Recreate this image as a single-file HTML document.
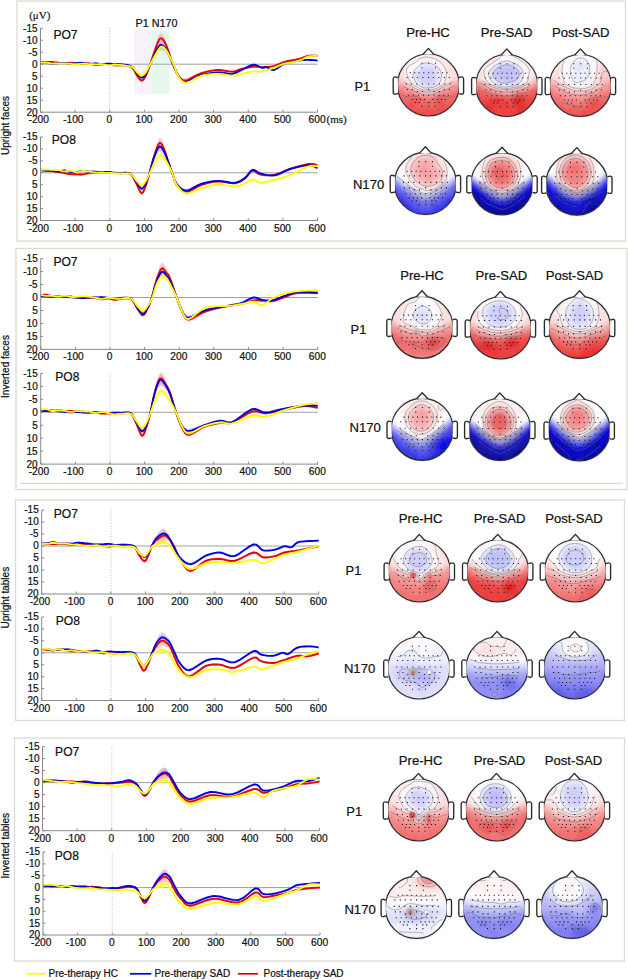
<!DOCTYPE html>
<html><head><meta charset="utf-8"><style>
html,body{margin:0;padding:0;background:#fff;}
svg{display:block;font-family:"Liberation Sans", sans-serif;}
text{stroke:#111;stroke-width:0.22px;}
</style></head><body>
<svg width="628" height="980" viewBox="0 0 628 980">
<defs><g id="hfeat" fill="#fff" stroke="#2a2a2a" stroke-width="1.35"><path d="M-5.6,-30.5 L0,-36.6 L5.6,-30.5" stroke-linejoin="round"/><path d="M-30.6,-7.4 L-33,-8.1 Q-35.2,-8.2 -35.2,-6 L-35.2,7.2 Q-35.2,9.4 -33,9.2 L-30.4,8.6"/><path d="M30.6,-7.4 L33,-8.1 Q35.2,-8.2 35.2,-6 L35.2,7.2 Q35.2,9.4 33,9.2 L30.4,8.6"/></g><clipPath id="hclip"><circle r="31.0"/></clipPath><filter id="gblur" x="-50%" y="-50%" width="200%" height="200%"><feGaussianBlur stdDeviation="1.1"/></filter><filter id="gblur2" x="-50%" y="-50%" width="200%" height="200%"><feGaussianBlur stdDeviation="0.6"/></filter><filter id="tblur" x="-20%" y="-20%" width="140%" height="140%"><feGaussianBlur stdDeviation="2.0"/></filter></defs>
<rect width="628" height="980" fill="#fff"/>
<rect x="17" y="1" width="608.5" height="240" fill="none" stroke="#dcdcd0" stroke-width="1.3"/>
<rect x="16" y="248.5" width="611" height="241" fill="none" stroke="#dcdcd0" stroke-width="1.3"/>
<rect x="15.5" y="500" width="609" height="220.5" fill="none" stroke="#dcdcd0" stroke-width="1.3"/>
<rect x="14.5" y="738" width="610" height="223" fill="none" stroke="#dcdcd0" stroke-width="1.3"/>
<line x1="20.5" y1="483.4" x2="623" y2="483.4" stroke="#dcdcd0" stroke-width="1.1"/>
<text x="0" y="0" transform="translate(8.6,125.5) rotate(-90)" font-size="10" text-anchor="middle" fill="#111">Upright faces</text>
<text x="0" y="0" transform="translate(8.6,366.5) rotate(-90)" font-size="10" text-anchor="middle" fill="#111">Inverted faces</text>
<text x="0" y="0" transform="translate(8.6,597.7) rotate(-90)" font-size="10" text-anchor="middle" fill="#111">Upright tables</text>
<text x="0" y="0" transform="translate(8.6,845.7) rotate(-90)" font-size="10" text-anchor="middle" fill="#111">Inverted tables</text>
<rect x="133.99" y="29.88" width="17.31" height="64.32" fill="#f6f2f8"/>
<rect x="151.3" y="29.88" width="18.35" height="64.32" fill="#e6f8ee"/>
<text x="135.5" y="26.8" font-size="10.8" fill="#111">P1 N170</text>
<line x1="40.5" y1="64.2" x2="317.5" y2="64.2" stroke="#a0a0a0" stroke-width="1"/>
<line x1="109.75" y1="28.2" x2="109.75" y2="112.2" stroke="#b0b0b0" stroke-width="0.8" stroke-dasharray="1,1.6"/>
<path d="M40.5 62.0L42.7 61.8L45.7 61.8L48.7 62.3L51.9 62.8L55.0 62.8L58.2 62.6L61.3 62.6L64.4 62.7L67.5 62.9L70.6 63.1L73.7 63.4L76.9 63.5L80.0 63.2L83.1 62.9L86.2 63.1L89.3 63.4L92.4 63.5L95.6 63.5L98.7 63.5L101.8 63.5L104.9 64.0L108.0 64.4L111.2 64.3L114.3 64.2L117.0 64.1L120.1 64.2L124.6 64.7L128.8 65.4L131.3 66.0L133.3 67.0L135.4 69.2L137.4 71.6L139.5 73.5L141.6 74.4L143.9 73.2L146.1 70.7L148.1 67.4L150.3 63.1L153.0 57.7L155.8 51.8L158.5 46.5L161.0 43.2L163.3 43.9L165.5 46.8L167.6 50.8L169.7 55.2L171.5 59.0L173.5 63.3L176.0 70.1L179.0 76.5L182.3 80.2L186.6 81.5L193.1 78.6L200.8 75.1L209.3 73.6L217.8 73.1L225.3 74.0L232.0 75.0L237.0 74.3L241.7 73.1L247.6 71.8L253.4 70.7L257.8 70.8L262.1 70.7L267.9 69.1L273.9 67.1L279.1 65.0L284.6 63.0L292.0 61.4L299.1 59.9L304.2 57.7L308.5 55.8L313.6 55.2L317.5 55.1L317.5 56.5L313.6 56.6L308.5 57.2L304.2 59.1L299.1 61.3L292.0 62.9L284.6 64.4L279.1 66.5L273.9 68.5L267.9 70.6L262.1 72.1L257.8 72.2L253.4 72.1L247.6 73.2L241.7 74.5L237.0 75.8L232.0 76.4L225.3 75.5L217.8 74.5L209.3 75.1L200.8 76.8L193.1 80.9L186.6 83.9L182.3 82.3L179.0 78.3L176.0 71.8L173.5 65.1L171.5 61.0L169.7 57.8L167.6 54.4L165.5 51.8L163.3 50.3L161.0 50.1L158.5 52.7L155.8 56.4L153.0 60.6L150.3 65.3L148.1 69.5L146.1 73.0L143.9 75.8L141.6 77.0L139.5 75.9L137.4 73.6L135.4 71.0L133.3 68.6L131.3 67.5L128.8 66.8L124.6 66.1L120.1 65.6L117.0 65.5L114.3 65.6L111.2 65.8L108.0 65.8L104.9 65.4L101.8 65.0L98.7 64.9L95.6 65.0L92.4 64.9L89.3 64.8L86.2 64.5L83.1 64.4L80.0 64.7L76.9 65.0L73.7 64.8L70.6 64.6L67.5 64.3L64.4 64.2L61.3 64.0L58.2 64.0L55.0 64.2L51.9 64.3L48.7 63.7L45.7 63.2L42.7 63.3L40.5 63.5Z" fill="rgba(255,255,140,0.55)"/>
<path d="M40.5 61.9L42.7 61.6L45.7 61.4L48.7 62.1L51.9 62.8L55.0 62.6L58.2 62.1L61.3 61.9L64.4 61.9L67.5 62.3L70.6 62.7L73.7 62.4L76.9 62.0L80.0 61.8L83.1 61.8L86.2 62.5L89.3 63.1L92.4 62.7L95.6 62.3L98.7 62.7L101.8 63.2L104.9 62.9L108.0 62.5L111.2 62.9L114.3 63.2L117.0 63.1L120.1 63.1L124.6 63.6L128.8 64.3L131.3 65.2L133.3 66.6L135.4 69.4L137.4 72.3L139.7 74.6L142.0 75.7L144.1 74.4L146.1 71.6L148.1 67.6L150.3 62.6L152.8 56.2L155.5 49.4L157.9 43.5L160.3 39.9L162.8 40.5L165.2 43.9L167.3 48.6L169.3 53.7L171.1 58.1L173.1 62.9L175.9 69.4L179.0 75.3L181.9 79.0L185.9 80.2L192.7 77.3L200.8 73.9L209.3 72.2L217.8 71.3L225.3 72.1L232.0 72.7L237.0 71.2L241.7 68.9L247.6 65.8L253.4 63.6L258.2 64.9L262.1 66.7L264.4 66.4L266.6 66.0L269.8 67.8L273.9 68.9L278.8 66.1L284.6 62.6L292.0 60.7L299.1 59.5L304.2 58.9L308.5 58.8L313.6 59.1L317.5 59.5L317.5 61.7L313.6 61.3L308.5 61.0L304.2 61.1L299.1 61.7L292.0 62.9L284.6 64.8L278.8 68.3L273.9 71.0L269.8 69.9L266.6 68.2L264.4 68.5L262.1 68.9L258.2 67.0L253.4 65.8L247.6 68.0L241.7 71.0L237.0 73.4L232.0 74.9L225.3 74.2L217.8 73.4L209.3 74.4L200.8 76.5L192.7 80.9L185.9 83.7L181.9 82.1L179.0 78.0L175.9 71.9L173.1 65.5L171.1 61.3L169.3 57.9L167.3 54.4L165.2 51.8L162.8 50.4L160.3 50.1L157.9 52.4L155.5 55.9L152.8 60.5L150.3 65.8L148.1 70.8L146.1 75.1L144.1 78.2L142.0 79.6L139.7 78.1L137.4 75.3L135.4 72.0L133.3 69.0L131.3 67.4L128.8 66.5L124.6 65.7L120.1 65.3L117.0 65.3L114.3 65.4L111.2 65.0L108.0 64.7L104.9 65.0L101.8 65.3L98.7 64.8L95.6 64.4L92.4 64.9L89.3 65.2L86.2 64.6L83.1 63.9L80.0 63.9L76.9 64.2L73.7 64.6L70.6 64.9L67.5 64.5L64.4 64.0L61.3 64.1L58.2 64.3L55.0 64.8L51.9 65.0L48.7 64.3L45.7 63.5L42.7 63.7L40.5 64.1Z" fill="rgba(150,150,255,0.4)"/>
<path d="M40.5 61.1L42.7 60.9L45.7 60.7L48.7 60.7L51.9 60.8L55.0 61.1L58.2 61.5L61.3 61.7L64.4 61.8L67.5 61.7L70.6 61.6L73.7 61.9L76.9 62.3L80.0 62.6L83.1 62.8L86.2 62.4L89.3 62.1L92.4 63.0L95.6 63.9L98.7 63.6L101.8 63.1L104.9 62.9L108.0 63.0L111.2 63.6L114.3 64.2L117.0 64.1L120.1 64.0L124.6 64.2L128.8 64.9L131.3 65.9L133.3 67.7L135.4 71.1L137.4 74.5L139.7 77.2L142.0 78.4L144.1 76.6L146.1 73.1L148.1 68.4L150.3 62.4L152.8 54.0L155.5 45.0L157.9 37.2L160.3 32.6L162.8 33.9L165.2 38.7L167.3 44.7L169.3 51.1L170.9 56.8L172.8 62.7L175.7 69.5L179.0 75.2L181.9 78.1L185.9 78.6L192.7 75.4L200.8 71.9L209.3 69.9L217.8 68.8L225.3 69.6L232.0 70.4L237.0 69.4L241.7 67.8L247.6 66.4L253.4 65.4L257.8 65.5L262.1 65.9L267.9 65.7L273.9 64.9L279.1 62.9L284.6 60.6L292.0 59.1L299.1 57.7L304.2 56.0L308.5 54.6L313.6 54.4L317.5 54.6L317.5 57.0L313.6 56.8L308.5 57.0L304.2 58.4L299.1 60.1L292.0 61.5L284.6 63.0L279.1 65.3L273.9 67.3L267.9 68.1L262.1 68.3L257.8 68.0L253.4 67.8L247.6 68.8L241.7 70.2L237.0 71.8L232.0 72.8L225.3 72.0L217.8 71.2L209.3 72.3L200.8 74.8L192.7 79.3L185.9 82.5L181.9 81.5L179.0 78.2L175.7 72.3L172.8 65.7L170.9 60.5L169.3 55.7L167.3 51.1L165.2 47.5L162.8 44.9L160.3 44.0L157.9 47.1L155.5 52.2L152.8 58.8L150.3 66.0L148.1 72.0L146.1 76.9L144.1 80.8L142.0 82.7L139.7 81.1L137.4 77.9L135.4 74.0L133.3 70.3L131.3 68.4L128.8 67.3L124.6 66.6L120.1 66.4L117.0 66.5L114.3 66.6L111.2 66.0L108.0 65.4L104.9 65.3L101.8 65.5L98.7 66.0L95.6 66.3L92.4 65.4L89.3 64.5L86.2 64.8L83.1 65.2L80.0 65.0L76.9 64.7L73.7 64.3L70.6 64.0L67.5 64.1L64.4 64.2L61.3 64.1L58.2 63.9L55.0 63.5L51.9 63.2L48.7 63.1L45.7 63.1L42.7 63.3L40.5 63.5Z" fill="rgba(255,140,140,0.45)"/>
<path d="M40.5 62.3L41.4 62.2L42.7 62.1L44.2 62.0L45.7 61.9L47.2 61.9L48.7 61.9L50.3 61.9L51.9 62.0L53.5 62.2L55.0 62.3L56.6 62.5L58.2 62.7L59.7 62.8L61.3 62.9L62.8 63.0L64.4 63.0L65.9 63.0L67.5 62.9L69.1 62.8L70.6 62.8L72.2 62.9L73.7 63.1L75.3 63.3L76.9 63.5L78.4 63.6L80.0 63.8L81.5 64.0L83.1 64.0L84.6 63.9L86.2 63.6L87.8 63.3L89.3 63.3L90.9 63.6L92.4 64.2L94.0 64.8L95.6 65.1L97.1 65.0L98.7 64.8L100.2 64.5L101.8 64.3L103.3 64.2L104.9 64.1L106.5 64.1L108.0 64.2L109.6 64.5L111.2 64.8L112.7 65.2L114.3 65.4L115.7 65.4L117.0 65.3L118.5 65.2L120.1 65.2L122.2 65.3L124.6 65.4L126.9 65.7L128.8 66.1L130.2 66.6L131.3 67.2L132.3 67.9L133.3 69.0L134.3 70.6L135.4 72.5L136.4 74.5L137.4 76.2L138.6 77.7L139.7 79.2L140.8 80.2L142.0 80.5L143.0 80.0L144.1 78.7L145.1 77.0L146.1 75.0L147.1 72.8L148.1 70.2L149.1 67.4L150.3 64.2L151.5 60.5L152.8 56.4L154.2 52.2L155.5 48.6L156.7 45.3L157.9 42.2L159.1 39.7L160.3 38.3L161.5 38.3L162.8 39.4L164.0 41.1L165.2 43.1L166.3 45.3L167.3 47.9L168.3 50.7L169.3 53.4L170.2 56.0L170.9 58.7L171.7 61.4L172.8 64.2L174.1 67.4L175.7 70.9L177.3 74.1L179.0 76.7L180.5 78.5L181.9 79.8L183.6 80.5L185.9 80.5L189.0 79.4L192.7 77.4L196.8 75.1L200.8 73.3L205.0 72.1L209.3 71.1L213.7 70.4L217.8 70.0L221.6 70.1L225.3 70.8L228.8 71.4L232.0 71.6L234.7 71.3L237.0 70.6L239.2 69.7L241.7 69.0L244.5 68.3L247.6 67.6L250.7 67.0L253.4 66.6L255.8 66.6L257.8 66.8L259.8 67.0L262.1 67.1L264.8 67.0L267.9 66.9L270.9 66.6L273.9 66.1L276.5 65.2L279.1 64.1L281.7 62.9L284.6 61.8L288.1 61.0L292.0 60.3L295.8 59.6L299.1 58.9L301.9 58.1L304.2 57.2L306.3 56.4L308.5 55.8L311.0 55.6L313.6 55.6L315.9 55.7L317.5 55.8" fill="none" stroke="#e60000" stroke-width="1.85" stroke-linejoin="round"/>
<path d="M40.5 63.0L41.4 62.9L42.7 62.6L44.2 62.5L45.7 62.4L47.2 62.7L48.7 63.2L50.3 63.7L51.9 63.9L53.5 63.9L55.0 63.7L56.6 63.4L58.2 63.2L59.7 63.1L61.3 63.0L62.8 62.9L64.4 62.9L65.9 63.1L67.5 63.4L69.1 63.7L70.6 63.8L72.2 63.7L73.7 63.5L75.3 63.3L76.9 63.1L78.4 63.0L80.0 62.8L81.5 62.8L83.1 62.8L84.6 63.1L86.2 63.5L87.8 63.9L89.3 64.2L90.9 64.1L92.4 63.8L94.0 63.5L95.6 63.3L97.1 63.5L98.7 63.8L100.2 64.1L101.8 64.2L103.3 64.2L104.9 63.9L106.5 63.7L108.0 63.6L109.6 63.7L111.2 63.9L112.7 64.2L114.3 64.3L115.7 64.3L117.0 64.2L118.5 64.2L120.1 64.2L122.2 64.4L124.6 64.6L126.9 65.0L128.8 65.4L130.2 65.8L131.3 66.3L132.3 66.9L133.3 67.8L134.3 69.1L135.4 70.7L136.4 72.4L137.4 73.8L138.6 75.1L139.7 76.4L140.8 77.3L142.0 77.6L143.0 77.2L144.1 76.3L145.1 74.9L146.1 73.3L147.1 71.4L148.1 69.2L149.1 66.8L150.3 64.2L151.5 61.4L152.8 58.3L154.2 55.3L155.5 52.7L156.7 50.2L157.9 47.9L159.1 46.1L160.3 45.0L161.5 44.9L162.8 45.5L164.0 46.6L165.2 47.9L166.2 49.5L167.3 51.5L168.3 53.7L169.3 55.8L170.2 57.8L171.1 59.7L172.0 61.8L173.1 64.2L174.4 67.2L175.9 70.6L177.4 74.0L179.0 76.7L180.5 78.8L181.9 80.5L183.6 81.7L185.9 82.0L189.0 81.0L192.7 79.1L196.8 76.9L200.8 75.2L205.0 74.1L209.3 73.3L213.7 72.7L217.8 72.4L221.6 72.5L225.3 73.1L228.8 73.7L232.0 73.8L234.7 73.2L237.0 72.3L239.2 71.1L241.7 70.0L244.5 68.5L247.6 66.9L250.7 65.4L253.4 64.7L255.9 65.0L258.2 66.0L260.3 67.1L262.1 67.8L263.5 67.8L264.4 67.5L265.4 67.1L266.6 67.1L268.1 67.8L269.8 68.9L271.7 69.8L273.9 70.0L276.2 69.0L278.8 67.2L281.6 65.3L284.6 63.7L288.1 62.7L292.0 61.8L295.8 61.1L299.1 60.6L301.9 60.2L304.2 60.0L306.3 59.9L308.5 59.9L311.0 60.0L313.6 60.2L315.9 60.4L317.5 60.6" fill="none" stroke="#0000e6" stroke-width="1.85" stroke-linejoin="round"/>
<path d="M40.5 62.8L41.4 62.7L42.7 62.6L44.2 62.5L45.7 62.5L47.2 62.7L48.7 63.0L50.3 63.4L51.9 63.6L53.5 63.6L55.0 63.5L56.6 63.4L58.2 63.3L59.7 63.3L61.3 63.3L62.8 63.4L64.4 63.4L65.9 63.5L67.5 63.6L69.1 63.7L70.6 63.8L72.2 64.0L73.7 64.1L75.3 64.2L76.9 64.2L78.4 64.1L80.0 63.9L81.5 63.8L83.1 63.7L84.6 63.7L86.2 63.8L87.8 64.0L89.3 64.1L90.9 64.2L92.4 64.2L94.0 64.2L95.6 64.3L97.1 64.3L98.7 64.2L100.2 64.2L101.8 64.2L103.3 64.4L104.9 64.7L106.5 65.0L108.0 65.1L109.6 65.1L111.2 65.1L112.7 64.9L114.3 64.9L115.7 64.8L117.0 64.8L118.5 64.8L120.1 64.9L122.2 65.1L124.6 65.4L126.9 65.8L128.8 66.1L130.2 66.4L131.3 66.7L132.3 67.1L133.3 67.8L134.4 68.8L135.4 70.1L136.4 71.4L137.4 72.6L138.5 73.7L139.5 74.7L140.5 75.5L141.6 75.7L142.7 75.3L143.9 74.5L145.0 73.3L146.1 71.9L147.1 70.3L148.1 68.4L149.1 66.4L150.3 64.2L151.6 61.8L153.0 59.1L154.4 56.5L155.8 54.1L157.1 51.8L158.5 49.6L159.8 47.8L161.0 46.7L162.2 46.5L163.3 47.1L164.4 48.1L165.5 49.3L166.6 50.8L167.6 52.6L168.6 54.6L169.7 56.5L170.6 58.3L171.5 60.0L172.4 61.9L173.5 64.2L174.7 67.3L176.0 71.0L177.4 74.5L179.0 77.4L180.6 79.6L182.3 81.3L184.2 82.4L186.6 82.7L189.6 81.7L193.1 79.8L196.9 77.6L200.8 76.0L204.9 75.0L209.3 74.3L213.7 73.9L217.8 73.8L221.6 74.1L225.3 74.7L228.8 75.4L232.0 75.7L234.7 75.5L237.0 75.0L239.2 74.4L241.7 73.8L244.5 73.2L247.6 72.5L250.7 71.8L253.4 71.4L255.8 71.3L257.8 71.5L259.8 71.6L262.1 71.4L264.8 70.8L267.9 69.9L270.9 68.8L273.9 67.8L276.5 66.8L279.1 65.7L281.7 64.7L284.6 63.7L288.1 62.9L292.0 62.2L295.8 61.4L299.1 60.6L301.9 59.6L304.2 58.4L306.3 57.3L308.5 56.5L311.0 56.1L313.6 55.9L315.9 55.9L317.5 55.8" fill="none" stroke="#ffff00" stroke-width="1.85" stroke-linejoin="round"/>
<path d="M40.5,28.2 V112.2 H317.5" fill="none" stroke="#8a8a8a" stroke-width="1"/>
<line x1="40.5" y1="28.2" x2="43" y2="28.2" stroke="#8a8a8a" stroke-width="1"/>
<text x="37.5" y="31.6" font-size="10" text-anchor="end" fill="#111">-15</text>
<line x1="40.5" y1="40.2" x2="43" y2="40.2" stroke="#8a8a8a" stroke-width="1"/>
<text x="37.5" y="43.6" font-size="10" text-anchor="end" fill="#111">-10</text>
<line x1="40.5" y1="52.2" x2="43" y2="52.2" stroke="#8a8a8a" stroke-width="1"/>
<text x="37.5" y="55.6" font-size="10" text-anchor="end" fill="#111">-5</text>
<line x1="40.5" y1="64.2" x2="43" y2="64.2" stroke="#8a8a8a" stroke-width="1"/>
<text x="37.5" y="67.6" font-size="10" text-anchor="end" fill="#111">0</text>
<line x1="40.5" y1="76.2" x2="43" y2="76.2" stroke="#8a8a8a" stroke-width="1"/>
<text x="37.5" y="79.6" font-size="10" text-anchor="end" fill="#111">5</text>
<line x1="40.5" y1="88.2" x2="43" y2="88.2" stroke="#8a8a8a" stroke-width="1"/>
<text x="37.5" y="91.6" font-size="10" text-anchor="end" fill="#111">10</text>
<line x1="40.5" y1="100.2" x2="43" y2="100.2" stroke="#8a8a8a" stroke-width="1"/>
<text x="37.5" y="103.6" font-size="10" text-anchor="end" fill="#111">15</text>
<line x1="40.5" y1="112.2" x2="43" y2="112.2" stroke="#8a8a8a" stroke-width="1"/>
<text x="37.5" y="115.6" font-size="10" text-anchor="end" fill="#111">20</text>
<line x1="40.5" y1="112.2" x2="40.5" y2="109.7" stroke="#8a8a8a" stroke-width="1"/>
<text x="38.7" y="123.2" font-size="10.2" text-anchor="middle" fill="#111">-200</text>
<line x1="75.12" y1="112.2" x2="75.12" y2="109.7" stroke="#8a8a8a" stroke-width="1"/>
<text x="73.33" y="123.2" font-size="10.2" text-anchor="middle" fill="#111">-100</text>
<line x1="109.75" y1="112.2" x2="109.75" y2="109.7" stroke="#8a8a8a" stroke-width="1"/>
<text x="109.35" y="123.2" font-size="10.2" text-anchor="middle" fill="#111">0</text>
<line x1="144.38" y1="112.2" x2="144.38" y2="109.7" stroke="#8a8a8a" stroke-width="1"/>
<text x="143.97" y="123.2" font-size="10.2" text-anchor="middle" fill="#111">100</text>
<line x1="179" y1="112.2" x2="179" y2="109.7" stroke="#8a8a8a" stroke-width="1"/>
<text x="178.6" y="123.2" font-size="10.2" text-anchor="middle" fill="#111">200</text>
<line x1="213.62" y1="112.2" x2="213.62" y2="109.7" stroke="#8a8a8a" stroke-width="1"/>
<text x="213.22" y="123.2" font-size="10.2" text-anchor="middle" fill="#111">300</text>
<line x1="248.25" y1="112.2" x2="248.25" y2="109.7" stroke="#8a8a8a" stroke-width="1"/>
<text x="247.85" y="123.2" font-size="10.2" text-anchor="middle" fill="#111">400</text>
<line x1="282.88" y1="112.2" x2="282.88" y2="109.7" stroke="#8a8a8a" stroke-width="1"/>
<text x="282.48" y="123.2" font-size="10.2" text-anchor="middle" fill="#111">500</text>
<line x1="317.5" y1="112.2" x2="317.5" y2="109.7" stroke="#8a8a8a" stroke-width="1"/>
<text x="317.1" y="123.2" font-size="10.2" text-anchor="middle" fill="#111">600</text>
<text x="53.4" y="39" font-size="12.1" fill="#111">PO7</text>
<text x="29.2" y="19.1" font-size="11" font-family="Liberation Serif" fill="#222">(μV)</text>
<text x="326.5" y="122.7" font-size="11" font-family="Liberation Serif" fill="#222">(ms)</text>
<line x1="40.5" y1="172.79" x2="317.5" y2="172.79" stroke="#a0a0a0" stroke-width="1"/>
<line x1="109.75" y1="137" x2="109.75" y2="220.5" stroke="#b0b0b0" stroke-width="0.8" stroke-dasharray="1,1.6"/>
<path d="M40.5 169.2L42.7 168.9L45.7 168.7L48.7 168.9L51.9 169.2L55.0 169.2L58.2 169.4L61.3 170.0L64.4 170.6L67.5 170.3L70.6 170.1L73.7 170.9L76.9 171.7L80.0 171.0L83.1 170.3L86.2 170.5L89.3 170.9L92.4 171.4L95.6 171.8L98.7 171.9L101.8 172.0L104.9 172.0L108.0 172.1L111.2 172.3L114.3 172.4L116.9 172.6L120.1 172.8L125.3 172.6L130.5 173.2L134.0 176.5L136.8 180.2L139.3 183.0L141.6 184.4L143.7 182.9L145.8 180.0L147.8 176.3L149.9 171.7L152.3 166.0L154.8 160.1L157.4 155.2L160.0 152.2L162.3 152.8L164.5 155.6L166.6 159.6L168.6 164.1L170.3 167.7L172.1 171.8L174.3 178.5L177.3 185.1L181.4 189.9L186.6 192.4L193.2 190.5L200.8 187.4L209.1 185.2L217.8 183.8L226.5 184.7L234.4 185.7L240.2 184.6L244.8 182.8L248.7 180.4L252.4 178.8L256.1 180.4L260.7 182.1L267.4 180.9L274.9 178.8L281.9 177.1L289.5 174.7L299.3 169.9L308.5 165.6L314.2 165.1L317.5 165.6L317.5 167.1L314.2 166.5L308.5 167.1L299.3 171.3L289.5 176.1L281.9 178.5L274.9 180.2L267.4 182.3L260.7 183.5L256.1 181.8L252.4 180.2L248.7 181.8L244.8 184.2L240.2 186.0L234.4 187.1L226.5 186.1L217.8 185.2L209.1 186.7L200.8 189.2L193.2 192.8L186.6 194.7L181.4 191.9L177.3 186.8L174.3 180.2L172.1 173.7L170.3 170.0L168.6 167.2L166.6 163.9L164.5 161.3L162.3 159.5L160.0 159.0L157.4 160.8L154.8 164.0L152.3 168.6L149.9 173.9L147.8 178.4L145.8 182.3L143.7 185.5L141.6 186.9L139.3 185.3L136.8 182.1L134.0 178.1L130.5 174.7L125.3 174.0L120.1 174.2L116.9 174.0L114.3 173.9L111.2 173.7L108.0 173.5L104.9 173.5L101.8 173.4L98.7 173.4L95.6 173.2L92.4 172.8L89.3 172.3L86.2 171.9L83.1 171.7L80.0 172.5L76.9 173.1L73.7 172.4L70.6 171.5L67.5 171.8L64.4 172.0L61.3 171.5L58.2 170.8L55.0 170.7L51.9 170.6L48.7 170.3L45.7 170.1L42.7 170.4L40.5 170.6Z" fill="rgba(255,255,140,0.55)"/>
<path d="M40.5 169.3L42.7 169.2L45.7 169.2L48.7 169.4L51.9 169.7L55.0 170.3L58.2 170.6L61.3 169.9L64.4 169.4L67.5 170.0L70.6 170.9L73.7 171.2L76.9 171.1L80.0 170.4L83.1 169.9L86.2 170.2L89.3 170.6L92.4 170.6L95.6 170.6L98.7 170.9L101.8 171.1L104.9 170.9L108.0 170.7L111.2 171.3L114.3 172.0L116.9 171.8L120.1 171.7L125.3 171.6L130.5 172.6L134.0 176.5L136.8 180.9L139.3 184.7L141.6 186.9L143.7 185.0L145.8 181.3L147.6 176.9L149.6 171.2L151.7 163.2L154.1 154.7L156.8 146.7L159.6 141.5L162.1 143.2L164.5 148.3L166.6 154.2L168.6 160.5L170.3 165.9L172.1 171.4L174.3 177.7L177.3 183.4L181.4 187.4L186.6 188.9L193.2 186.2L200.8 182.7L209.1 180.8L217.8 179.8L226.5 180.9L234.4 181.7L240.2 180.0L244.8 177.0L248.7 172.4L252.4 168.8L256.1 170.0L260.7 172.4L267.4 174.0L274.9 174.3L281.9 171.6L289.5 168.1L299.3 165.5L308.5 164.1L314.2 165.4L317.5 167.2L317.5 169.3L314.2 167.5L308.5 166.2L299.3 167.7L289.5 170.3L281.9 173.8L274.9 176.5L267.4 176.1L260.7 174.6L256.1 172.2L252.4 171.0L248.7 174.5L244.8 179.1L240.2 182.1L234.4 183.9L226.5 183.0L217.8 182.0L209.1 183.0L200.8 185.3L193.2 189.6L186.6 192.5L181.4 190.3L177.3 186.0L174.3 180.3L172.1 174.2L170.3 169.4L168.6 165.1L166.6 160.6L164.5 156.8L162.1 153.3L159.6 151.5L156.8 154.5L154.1 159.9L151.7 166.9L149.6 174.4L147.6 180.2L145.8 184.8L143.7 188.9L141.6 190.7L139.3 188.2L136.8 183.8L134.0 178.9L130.5 174.8L125.3 173.8L120.1 173.9L116.9 174.0L114.3 174.1L111.2 173.5L108.0 172.9L104.9 173.0L101.8 173.2L98.7 173.0L95.6 172.8L92.4 172.8L89.3 172.8L86.2 172.3L83.1 172.0L80.0 172.6L76.9 173.2L73.7 173.3L70.6 173.0L67.5 172.2L64.4 171.5L61.3 172.1L58.2 172.8L55.0 172.4L51.9 171.9L48.7 171.5L45.7 171.3L42.7 171.4L40.5 171.5Z" fill="rgba(150,150,255,0.4)"/>
<path d="M40.5 168.3L42.7 169.0L45.7 169.7L48.7 169.8L51.9 169.8L55.0 170.3L58.2 170.8L61.4 171.3L64.4 171.8L66.7 172.3L69.2 172.8L73.0 173.0L76.9 173.1L80.1 173.3L83.1 173.2L86.2 172.5L89.3 171.8L92.4 171.6L95.6 171.6L98.7 171.7L101.8 171.8L104.9 171.8L108.0 171.7L111.2 171.5L114.3 171.5L116.9 171.7L120.1 172.1L125.3 171.8L130.5 172.8L134.0 177.5L136.8 183.1L139.3 188.2L141.6 191.2L143.7 188.8L145.8 183.9L147.6 178.1L149.6 171.0L151.7 162.4L154.1 153.2L156.8 143.7L159.6 137.4L162.1 139.3L164.5 145.4L166.6 152.7L168.6 160.2L170.3 165.8L172.1 171.2L174.3 178.2L177.3 184.5L181.4 188.5L186.6 189.9L193.2 187.2L200.8 183.7L209.1 181.5L217.8 180.2L226.5 181.2L234.4 182.1L240.2 180.4L244.8 177.6L248.7 173.0L252.4 169.4L256.1 171.0L260.7 173.5L267.4 174.1L274.9 173.5L281.9 171.1L289.5 168.0L299.3 165.0L308.5 162.8L314.2 163.0L317.5 164.0L317.5 166.3L314.2 165.4L308.5 165.2L299.3 167.4L289.5 170.4L281.9 173.5L274.9 175.9L267.4 176.5L260.7 175.9L256.1 173.4L252.4 171.8L248.7 175.4L244.8 179.9L240.2 182.8L234.4 184.5L226.5 183.6L217.8 182.6L209.1 184.0L200.8 186.6L193.2 191.1L186.6 193.8L181.4 191.8L177.3 187.3L174.3 181.0L172.1 174.4L170.3 169.7L168.6 165.3L166.6 159.8L164.5 154.8L162.1 150.5L159.6 148.5L156.8 152.4L154.1 159.0L151.7 166.5L149.6 174.6L147.6 181.7L145.8 187.9L143.7 193.1L141.6 195.4L139.3 192.1L136.8 186.3L134.0 180.2L130.5 175.2L125.3 174.2L120.1 174.5L116.9 174.1L114.3 173.8L111.2 173.9L108.0 174.1L104.9 174.1L101.8 174.2L98.7 174.1L95.6 174.0L92.4 174.0L89.3 174.2L86.2 174.9L83.1 175.6L80.1 175.7L76.9 175.5L73.0 175.4L69.2 175.2L66.7 174.7L64.4 174.2L61.4 173.7L58.2 173.2L55.0 172.6L51.9 172.2L48.7 172.2L45.7 172.1L42.7 171.4L40.5 170.6Z" fill="rgba(255,140,140,0.45)"/>
<path d="M40.5 169.4L41.4 169.7L42.7 170.2L44.2 170.6L45.7 170.9L47.2 171.0L48.7 171.0L50.3 171.0L51.9 171.0L53.5 171.2L55.0 171.5L56.6 171.7L58.2 172.0L59.7 172.2L61.4 172.5L62.9 172.7L64.4 173.0L65.6 173.3L66.7 173.5L67.9 173.8L69.2 174.0L71.0 174.1L73.0 174.2L75.0 174.2L76.9 174.3L78.5 174.4L80.1 174.5L81.6 174.5L83.1 174.4L84.6 174.1L86.2 173.7L87.8 173.3L89.3 173.0L90.9 172.9L92.4 172.8L94.0 172.8L95.6 172.8L97.1 172.8L98.7 172.9L100.2 173.0L101.8 173.0L103.3 173.0L104.9 173.0L106.5 172.9L108.0 172.9L109.6 172.8L111.2 172.7L112.7 172.6L114.3 172.7L115.6 172.7L116.9 172.9L118.4 173.1L120.1 173.3L122.5 173.2L125.3 173.0L128.1 173.1L130.5 174.0L132.4 176.0L134.0 178.9L135.4 181.9L136.8 184.7L138.1 187.4L139.3 190.1L140.5 192.3L141.6 193.3L142.7 192.7L143.7 191.0L144.8 188.5L145.8 185.9L146.7 183.1L147.6 179.9L148.6 176.5L149.6 172.8L150.6 168.8L151.7 164.4L152.9 160.1L154.1 156.1L155.4 152.1L156.8 148.0L158.2 144.7L159.6 143.0L160.9 143.2L162.1 144.9L163.3 147.5L164.5 150.1L165.6 153.0L166.6 156.3L167.6 159.7L168.6 162.8L169.5 165.4L170.3 167.7L171.1 170.1L172.1 172.8L173.2 176.0L174.3 179.6L175.6 183.1L177.3 185.9L179.2 188.2L181.4 190.1L183.8 191.4L186.6 191.9L189.8 191.0L193.2 189.1L197.0 187.0L200.8 185.2L204.9 183.9L209.1 182.7L213.5 181.9L217.8 181.4L222.1 181.6L226.5 182.4L230.7 183.1L234.4 183.3L237.5 182.7L240.2 181.6L242.5 180.3L244.8 178.8L246.9 176.7L248.7 174.2L250.5 171.9L252.4 170.6L254.3 170.9L256.1 172.2L258.2 173.7L260.7 174.7L263.8 175.1L267.4 175.3L271.2 175.2L274.9 174.7L278.4 173.7L281.9 172.3L285.5 170.7L289.5 169.2L294.1 167.7L299.3 166.2L304.3 164.8L308.5 164.0L311.7 163.8L314.2 164.2L316.1 164.8L317.5 165.2" fill="none" stroke="#e60000" stroke-width="1.85" stroke-linejoin="round"/>
<path d="M40.5 170.4L41.4 170.4L42.7 170.3L44.2 170.2L45.7 170.3L47.2 170.3L48.7 170.5L50.3 170.6L51.9 170.8L53.5 171.1L55.0 171.4L56.6 171.6L58.2 171.7L59.7 171.5L61.3 171.0L62.8 170.6L64.4 170.4L65.9 170.7L67.5 171.1L69.1 171.6L70.6 172.0L72.2 172.1L73.7 172.2L75.3 172.3L76.9 172.2L78.4 171.9L80.0 171.5L81.5 171.1L83.1 170.9L84.6 171.0L86.2 171.2L87.8 171.5L89.3 171.7L90.9 171.7L92.4 171.7L94.0 171.7L95.6 171.7L97.1 171.8L98.7 171.9L100.2 172.1L101.8 172.1L103.3 172.1L104.9 171.9L106.5 171.8L108.0 171.8L109.6 172.0L111.2 172.4L112.7 172.8L114.3 173.0L115.6 173.0L116.9 172.9L118.4 172.8L120.1 172.8L122.5 172.8L125.3 172.7L128.1 172.9L130.5 173.7L132.4 175.4L134.0 177.7L135.4 180.2L136.8 182.3L138.1 184.4L139.3 186.4L140.5 188.1L141.6 188.8L142.7 188.3L143.7 187.0L144.8 185.1L145.8 183.0L146.7 180.9L147.6 178.5L148.6 175.8L149.6 172.8L150.6 169.2L151.7 165.1L152.9 160.9L154.1 157.3L155.4 153.9L156.8 150.6L158.2 147.9L159.6 146.5L160.9 146.8L162.1 148.2L163.3 150.3L164.5 152.5L165.6 154.8L166.6 157.4L167.6 160.1L168.6 162.8L169.5 165.2L170.3 167.7L171.1 170.2L172.1 172.8L173.2 175.8L174.3 179.0L175.6 182.1L177.3 184.7L179.2 186.9L181.4 188.9L183.8 190.2L186.6 190.7L189.8 189.8L193.2 187.9L197.0 185.7L200.8 184.0L204.9 182.9L209.1 181.9L213.5 181.2L217.8 180.9L222.1 181.2L226.5 182.0L230.7 182.7L234.4 182.8L237.5 182.2L240.2 181.0L242.5 179.6L244.8 178.0L246.9 176.0L248.7 173.5L250.5 171.2L252.4 169.9L254.3 170.0L256.1 171.1L258.2 172.5L260.7 173.5L263.8 174.3L267.4 175.1L271.2 175.5L274.9 175.4L278.4 174.4L281.9 172.7L285.5 170.8L289.5 169.2L294.1 167.9L299.3 166.6L304.3 165.6L308.5 165.2L311.7 165.5L314.2 166.4L316.1 167.5L317.5 168.3" fill="none" stroke="#0000e6" stroke-width="1.85" stroke-linejoin="round"/>
<path d="M40.5 169.9L41.4 169.8L42.7 169.6L44.2 169.5L45.7 169.4L47.2 169.5L48.7 169.6L50.3 169.8L51.9 169.9L53.5 169.9L55.0 170.0L56.6 170.0L58.2 170.1L59.7 170.4L61.3 170.8L62.8 171.1L64.4 171.3L65.9 171.2L67.5 171.0L69.1 170.8L70.6 170.8L72.2 171.1L73.7 171.7L75.3 172.1L76.9 172.4L78.4 172.2L80.0 171.7L81.5 171.3L83.1 171.0L84.6 171.0L86.2 171.2L87.8 171.4L89.3 171.6L90.9 171.8L92.4 172.1L94.0 172.3L95.6 172.5L97.1 172.6L98.7 172.7L100.2 172.7L101.8 172.7L103.3 172.7L104.9 172.8L106.5 172.8L108.0 172.8L109.6 172.9L111.2 173.0L112.7 173.1L114.3 173.2L115.6 173.2L116.9 173.3L118.4 173.4L120.1 173.5L122.5 173.5L125.3 173.3L128.1 173.4L130.5 174.0L132.4 175.4L134.0 177.3L135.4 179.4L136.8 181.1L138.1 182.7L139.3 184.1L140.5 185.2L141.6 185.7L142.7 185.3L143.7 184.2L144.7 182.7L145.8 181.1L146.8 179.4L147.8 177.3L148.8 175.1L149.9 172.8L151.1 170.2L152.3 167.3L153.5 164.5L154.8 162.1L156.1 159.9L157.4 158.0L158.7 156.5L160.0 155.6L161.1 155.6L162.3 156.2L163.4 157.2L164.5 158.5L165.5 160.0L166.6 161.8L167.6 163.7L168.6 165.6L169.5 167.3L170.3 168.8L171.1 170.6L172.1 172.8L173.2 175.8L174.3 179.3L175.6 182.9L177.3 185.9L179.2 188.5L181.4 190.9L183.8 192.7L186.6 193.5L189.8 193.1L193.2 191.6L197.0 189.8L200.8 188.3L204.9 187.1L209.1 185.9L213.5 185.0L217.8 184.5L222.1 184.7L226.5 185.4L230.7 186.1L234.4 186.4L237.5 186.0L240.2 185.3L242.5 184.4L244.8 183.5L246.9 182.4L248.7 181.1L250.5 180.0L252.4 179.5L254.3 179.9L256.1 181.1L258.2 182.3L260.7 182.8L263.8 182.5L267.4 181.6L271.2 180.5L274.9 179.5L278.4 178.6L281.9 177.8L285.5 176.8L289.5 175.4L294.1 173.3L299.3 170.6L304.3 168.1L308.5 166.3L311.7 165.7L314.2 165.8L316.1 166.1L317.5 166.3" fill="none" stroke="#ffff00" stroke-width="1.85" stroke-linejoin="round"/>
<path d="M40.5,137 V220.5 H317.5" fill="none" stroke="#8a8a8a" stroke-width="1"/>
<line x1="40.5" y1="137" x2="43" y2="137" stroke="#8a8a8a" stroke-width="1"/>
<text x="37.5" y="140.4" font-size="10" text-anchor="end" fill="#111">-15</text>
<line x1="40.5" y1="148.93" x2="43" y2="148.93" stroke="#8a8a8a" stroke-width="1"/>
<text x="37.5" y="152.33" font-size="10" text-anchor="end" fill="#111">-10</text>
<line x1="40.5" y1="160.86" x2="43" y2="160.86" stroke="#8a8a8a" stroke-width="1"/>
<text x="37.5" y="164.26" font-size="10" text-anchor="end" fill="#111">-5</text>
<line x1="40.5" y1="172.79" x2="43" y2="172.79" stroke="#8a8a8a" stroke-width="1"/>
<text x="37.5" y="176.19" font-size="10" text-anchor="end" fill="#111">0</text>
<line x1="40.5" y1="184.71" x2="43" y2="184.71" stroke="#8a8a8a" stroke-width="1"/>
<text x="37.5" y="188.11" font-size="10" text-anchor="end" fill="#111">5</text>
<line x1="40.5" y1="196.64" x2="43" y2="196.64" stroke="#8a8a8a" stroke-width="1"/>
<text x="37.5" y="200.04" font-size="10" text-anchor="end" fill="#111">10</text>
<line x1="40.5" y1="208.57" x2="43" y2="208.57" stroke="#8a8a8a" stroke-width="1"/>
<text x="37.5" y="211.97" font-size="10" text-anchor="end" fill="#111">15</text>
<line x1="40.5" y1="220.5" x2="43" y2="220.5" stroke="#8a8a8a" stroke-width="1"/>
<text x="37.5" y="223.9" font-size="10" text-anchor="end" fill="#111">20</text>
<line x1="40.5" y1="220.5" x2="40.5" y2="218" stroke="#8a8a8a" stroke-width="1"/>
<text x="38.7" y="231.5" font-size="10.2" text-anchor="middle" fill="#111">-200</text>
<line x1="75.12" y1="220.5" x2="75.12" y2="218" stroke="#8a8a8a" stroke-width="1"/>
<text x="73.33" y="231.5" font-size="10.2" text-anchor="middle" fill="#111">-100</text>
<line x1="109.75" y1="220.5" x2="109.75" y2="218" stroke="#8a8a8a" stroke-width="1"/>
<text x="109.35" y="231.5" font-size="10.2" text-anchor="middle" fill="#111">0</text>
<line x1="144.38" y1="220.5" x2="144.38" y2="218" stroke="#8a8a8a" stroke-width="1"/>
<text x="143.97" y="231.5" font-size="10.2" text-anchor="middle" fill="#111">100</text>
<line x1="179" y1="220.5" x2="179" y2="218" stroke="#8a8a8a" stroke-width="1"/>
<text x="178.6" y="231.5" font-size="10.2" text-anchor="middle" fill="#111">200</text>
<line x1="213.62" y1="220.5" x2="213.62" y2="218" stroke="#8a8a8a" stroke-width="1"/>
<text x="213.22" y="231.5" font-size="10.2" text-anchor="middle" fill="#111">300</text>
<line x1="248.25" y1="220.5" x2="248.25" y2="218" stroke="#8a8a8a" stroke-width="1"/>
<text x="247.85" y="231.5" font-size="10.2" text-anchor="middle" fill="#111">400</text>
<line x1="282.88" y1="220.5" x2="282.88" y2="218" stroke="#8a8a8a" stroke-width="1"/>
<text x="282.48" y="231.5" font-size="10.2" text-anchor="middle" fill="#111">500</text>
<line x1="317.5" y1="220.5" x2="317.5" y2="218" stroke="#8a8a8a" stroke-width="1"/>
<text x="317.1" y="231.5" font-size="10.2" text-anchor="middle" fill="#111">600</text>
<text x="51.7" y="144.2" font-size="12.1" fill="#111">PO8</text>
<line x1="40.7" y1="297.51" x2="317.7" y2="297.51" stroke="#a0a0a0" stroke-width="1"/>
<line x1="109.95" y1="258.6" x2="109.95" y2="349.4" stroke="#b0b0b0" stroke-width="0.8" stroke-dasharray="1,1.6"/>
<path d="M40.7 294.1L42.9 294.6L45.9 295.0L48.9 295.1L52.1 295.2L55.2 295.5L58.4 295.7L61.5 295.3L64.6 294.9L67.7 295.4L70.8 296.0L73.9 296.2L77.1 296.1L80.2 295.7L83.3 295.4L86.4 295.7L89.5 296.2L92.6 296.6L95.8 297.0L98.9 297.7L102.0 298.1L105.1 297.6L108.2 297.0L111.5 297.2L114.5 297.7L116.0 297.9L118.3 298.0L124.3 297.4L130.7 297.8L134.6 301.4L137.7 305.5L140.4 308.3L142.8 309.6L145.1 308.3L147.3 305.4L149.7 301.5L152.2 296.1L154.6 288.3L157.0 280.4L159.7 274.8L162.2 272.1L164.4 272.9L166.4 275.6L167.9 278.3L169.9 282.4L173.2 289.1L176.8 296.6L179.8 304.5L182.7 311.4L185.1 316.2L188.9 317.7L196.3 312.7L205.9 306.8L218.1 305.3L229.8 305.0L236.4 304.2L241.5 303.2L247.8 301.7L253.6 300.9L257.9 303.0L262.0 304.5L267.2 301.3L272.7 297.3L277.3 295.2L282.4 293.6L288.8 291.9L296.6 290.5L308.0 289.8L317.7 289.5L317.7 291.0L308.0 291.4L296.6 292.1L288.8 293.5L282.4 295.2L277.3 296.7L272.7 298.8L267.2 302.9L262.0 306.1L257.9 304.6L253.6 302.4L247.8 303.3L241.5 304.8L236.4 305.7L229.8 306.6L218.1 306.9L205.9 308.5L196.3 315.0L188.9 320.4L185.1 318.7L182.7 313.7L179.8 306.5L176.8 298.4L173.2 291.0L169.9 285.2L167.9 282.1L166.4 280.5L164.4 279.2L162.2 279.4L159.7 282.0L157.0 286.1L154.6 292.3L152.2 298.9L149.7 303.8L147.3 307.8L145.1 311.0L142.8 312.4L140.4 310.9L137.7 307.7L134.6 303.2L130.7 299.3L124.3 299.0L118.3 299.6L116.0 299.5L114.5 299.2L111.5 298.8L108.2 298.5L105.1 299.1L102.0 299.7L98.9 299.3L95.8 298.6L92.6 298.1L89.5 297.7L86.4 297.2L83.3 297.0L80.2 297.3L77.1 297.7L73.9 297.7L70.8 297.6L67.7 297.0L64.6 296.4L61.5 296.8L58.4 297.3L55.2 297.1L52.1 296.7L48.9 296.7L45.9 296.6L42.9 296.1L40.7 295.7Z" fill="rgba(255,255,140,0.55)"/>
<path d="M40.7 294.8L42.9 295.1L45.9 295.4L48.9 295.7L52.1 295.8L55.2 295.6L58.4 295.3L61.5 295.5L64.6 295.7L67.7 295.9L70.8 296.0L73.9 296.2L77.1 296.4L80.2 296.8L83.3 296.9L86.4 296.6L89.5 296.1L92.6 296.2L95.8 296.2L98.9 296.1L102.0 296.0L105.1 296.3L108.2 296.7L111.5 297.2L114.5 297.6L116.0 297.4L118.3 297.1L124.3 296.5L130.7 297.1L134.6 301.7L137.7 306.8L140.4 310.1L142.8 311.8L145.1 310.2L147.3 306.6L149.6 301.9L151.8 295.5L154.2 286.6L156.7 277.3L159.3 270.1L161.9 266.3L164.2 267.9L166.4 271.8L168.0 274.3L169.9 278.5L173.2 287.1L176.8 296.1L179.8 303.8L182.7 310.1L185.1 314.3L188.9 315.8L196.3 312.8L205.9 308.7L218.1 306.4L229.8 304.6L236.4 303.3L241.5 301.8L247.8 298.7L253.6 296.3L257.9 297.2L262.0 298.7L267.2 299.2L272.7 298.9L277.3 297.6L282.4 295.6L288.8 293.0L296.6 290.9L308.0 290.9L317.7 291.4L317.7 293.8L308.0 293.2L296.6 293.2L288.8 295.3L282.4 297.9L277.3 299.9L272.7 301.3L267.2 301.5L262.0 301.0L257.9 299.5L253.6 298.7L247.8 301.1L241.5 304.1L236.4 305.6L229.8 307.0L218.1 308.8L205.9 311.2L196.3 316.2L188.9 319.7L185.1 318.0L182.7 313.5L179.8 306.8L176.8 298.9L173.2 290.0L169.9 282.8L168.0 280.1L166.4 279.2L164.2 277.5L161.9 277.4L159.3 280.7L156.7 285.5L154.2 292.2L151.8 299.5L149.6 305.4L147.3 310.2L145.1 314.2L142.8 316.0L140.4 314.1L137.7 310.0L134.6 304.3L130.7 299.5L124.3 298.8L118.3 299.5L116.0 299.7L114.5 299.9L111.5 299.5L108.2 299.0L105.1 298.6L102.0 298.4L98.9 298.4L95.8 298.6L92.6 298.5L89.5 298.5L86.4 298.9L83.3 299.3L80.2 299.1L77.1 298.8L73.9 298.6L70.8 298.4L67.7 298.2L64.6 298.1L61.5 297.8L58.4 297.7L55.2 297.9L52.1 298.1L48.9 298.0L45.9 297.7L42.9 297.4L40.7 297.1Z" fill="rgba(150,150,255,0.4)"/>
<path d="M40.7 293.9L42.9 293.6L45.9 293.4L48.9 294.1L52.1 294.9L55.2 295.0L58.4 294.8L61.5 294.7L64.6 294.7L67.7 294.9L70.8 295.2L73.9 295.8L77.1 296.3L80.2 296.4L83.3 296.5L86.4 296.6L89.5 296.6L92.6 296.6L95.8 296.6L98.9 297.4L102.0 298.1L105.1 297.5L108.2 296.9L111.5 297.7L114.5 298.6L116.0 298.5L118.3 298.0L124.3 297.1L130.7 297.5L134.6 302.1L137.7 307.4L140.4 311.0L142.8 312.8L145.1 311.0L147.3 307.2L149.6 302.2L151.8 295.3L154.2 285.3L156.7 274.8L159.3 266.6L161.9 262.3L164.2 264.3L166.4 268.8L168.0 271.2L169.9 275.4L173.2 285.4L176.8 296.0L179.8 304.5L182.7 311.2L185.1 315.8L188.9 317.4L196.3 314.3L205.9 309.9L218.1 306.5L229.8 304.0L236.4 303.2L241.5 302.7L247.8 300.8L253.6 299.1L257.9 298.9L262.0 299.3L267.2 299.8L272.7 299.8L277.3 298.6L282.4 296.7L288.8 294.1L296.6 291.8L308.0 291.5L317.7 291.8L317.7 294.4L308.0 294.1L296.6 294.4L288.8 296.7L282.4 299.3L277.3 301.2L272.7 302.4L267.2 302.4L262.0 301.9L257.9 301.5L253.6 301.7L247.8 303.4L241.5 305.3L236.4 305.8L229.8 306.6L218.1 309.1L205.9 312.6L196.3 318.1L188.9 321.8L185.1 319.9L182.7 315.0L179.8 307.8L176.8 299.0L173.2 288.6L169.9 280.2L168.0 277.6L166.4 277.0L164.2 275.0L161.9 274.6L159.3 278.4L156.7 283.9L154.2 291.5L151.8 299.7L149.6 306.0L147.3 311.2L145.1 315.5L142.8 317.5L140.4 315.4L137.7 311.0L134.6 305.1L130.7 300.1L124.3 299.7L118.3 300.6L116.0 301.1L114.5 301.2L111.5 300.3L108.2 299.5L105.1 300.1L102.0 300.7L98.9 300.0L95.8 299.2L92.6 299.1L89.5 299.2L86.4 299.1L83.3 299.1L80.2 299.0L77.1 298.9L73.9 298.4L70.8 297.8L67.7 297.5L64.6 297.3L61.5 297.3L58.4 297.4L55.2 297.6L52.1 297.5L48.9 296.7L45.9 296.0L42.9 296.2L40.7 296.5Z" fill="rgba(255,140,140,0.45)"/>
<path d="M40.7 295.2L41.6 295.1L42.9 294.9L44.4 294.7L45.9 294.7L47.4 295.0L48.9 295.4L50.5 295.9L52.1 296.2L53.7 296.3L55.2 296.3L56.8 296.2L58.4 296.1L59.9 296.1L61.5 296.0L63.0 296.0L64.6 296.0L66.1 296.1L67.7 296.2L69.3 296.4L70.8 296.5L72.4 296.8L73.9 297.1L75.5 297.3L77.1 297.6L78.6 297.7L80.2 297.7L81.7 297.7L83.3 297.8L84.8 297.8L86.4 297.9L88.0 297.9L89.5 297.9L91.1 297.9L92.6 297.8L94.2 297.8L95.8 297.9L97.3 298.3L98.9 298.7L100.4 299.1L102.0 299.4L103.5 299.2L105.1 298.8L106.7 298.3L108.2 298.2L109.8 298.5L111.5 299.0L113.1 299.6L114.5 299.9L115.4 299.9L116.0 299.8L116.8 299.5L118.3 299.3L120.9 298.9L124.3 298.4L127.8 298.2L130.7 298.8L132.9 300.7L134.6 303.6L136.2 306.6L137.7 309.2L139.1 311.3L140.4 313.2L141.6 314.6L142.8 315.2L144.0 314.6L145.1 313.3L146.2 311.4L147.3 309.2L148.5 306.8L149.6 304.1L150.7 301.0L151.8 297.5L153.0 293.3L154.2 288.4L155.4 283.5L156.7 279.4L158.0 275.8L159.3 272.5L160.6 269.9L161.9 268.5L163.1 268.5L164.2 269.7L165.4 271.4L166.4 272.9L167.2 273.7L168.0 274.4L168.8 275.5L169.9 277.8L171.4 281.8L173.2 287.0L175.0 292.5L176.8 297.5L178.3 301.9L179.8 306.1L181.2 309.9L182.7 313.1L183.9 315.7L185.1 317.8L186.6 319.2L188.9 319.6L192.2 318.5L196.3 316.2L200.9 313.5L205.9 311.3L211.6 309.5L218.1 307.8L224.5 306.4L229.8 305.3L233.5 304.7L236.4 304.5L238.8 304.4L241.5 304.0L244.6 303.2L247.8 302.1L250.9 301.1L253.6 300.4L255.9 300.2L257.9 300.2L259.8 300.5L262.0 300.6L264.5 300.8L267.2 301.1L270.0 301.3L272.7 301.1L275.1 300.7L277.3 299.9L279.7 299.0L282.4 298.0L285.5 296.8L288.8 295.4L292.4 294.0L296.6 293.1L301.9 292.8L308.0 292.8L313.7 293.0L317.7 293.1" fill="none" stroke="#e60000" stroke-width="1.85" stroke-linejoin="round"/>
<path d="M40.7 296.0L41.6 296.1L42.9 296.2L44.4 296.4L45.9 296.6L47.4 296.7L48.9 296.8L50.5 296.9L52.1 297.0L53.7 296.9L55.2 296.7L56.8 296.6L58.4 296.5L59.9 296.6L61.5 296.7L63.0 296.8L64.6 296.9L66.1 297.0L67.7 297.1L69.3 297.1L70.8 297.2L72.4 297.3L73.9 297.4L75.5 297.5L77.1 297.6L78.6 297.8L80.2 297.9L81.7 298.1L83.3 298.1L84.8 298.0L86.4 297.7L88.0 297.5L89.5 297.3L91.1 297.3L92.6 297.3L94.2 297.4L95.8 297.4L97.3 297.4L98.9 297.3L100.4 297.2L102.0 297.2L103.5 297.3L105.1 297.5L106.7 297.7L108.2 297.9L109.8 298.1L111.5 298.4L113.1 298.6L114.5 298.7L115.4 298.7L116.0 298.6L116.8 298.4L118.3 298.3L120.9 298.0L124.3 297.6L127.8 297.6L130.7 298.3L132.9 300.2L134.6 303.0L136.2 306.0L137.7 308.4L139.1 310.4L140.4 312.1L141.6 313.4L142.8 313.9L144.0 313.4L145.1 312.2L146.2 310.4L147.3 308.4L148.5 306.2L149.6 303.6L150.7 300.7L151.8 297.5L153.0 293.7L154.2 289.4L155.4 285.1L156.7 281.4L158.0 278.3L159.3 275.4L160.6 273.1L161.9 271.8L163.1 271.8L164.2 272.7L165.4 274.1L166.4 275.5L167.2 276.4L168.0 277.2L168.8 278.5L169.9 280.7L171.4 284.1L173.2 288.5L175.0 293.2L176.8 297.5L178.3 301.5L179.8 305.3L181.2 308.9L182.7 311.8L183.9 314.2L185.1 316.1L186.6 317.4L188.9 317.7L192.2 316.7L196.3 314.5L200.9 312.0L205.9 310.0L211.6 308.6L218.1 307.6L224.5 306.7L229.8 305.8L233.5 305.1L236.4 304.5L238.8 303.8L241.5 303.0L244.6 301.6L247.8 299.9L250.9 298.4L253.6 297.5L255.9 297.6L257.9 298.3L259.8 299.2L262.0 299.8L264.5 300.1L267.2 300.3L270.0 300.3L272.7 300.1L275.1 299.6L277.3 298.7L279.7 297.8L282.4 296.7L285.5 295.5L288.8 294.2L292.4 292.9L296.6 292.1L301.9 291.8L308.0 292.0L313.7 292.4L317.7 292.6" fill="none" stroke="#0000e6" stroke-width="1.85" stroke-linejoin="round"/>
<path d="M40.7 294.9L41.6 295.1L42.9 295.3L44.4 295.6L45.9 295.8L47.4 295.9L48.9 295.9L50.5 295.9L52.1 295.9L53.7 296.1L55.2 296.3L56.8 296.4L58.4 296.5L59.9 296.3L61.5 296.0L63.0 295.8L64.6 295.7L66.1 295.8L67.7 296.2L69.3 296.5L70.8 296.8L72.4 296.9L73.9 297.0L75.5 296.9L77.1 296.9L78.6 296.7L80.2 296.5L81.7 296.3L83.3 296.2L84.8 296.3L86.4 296.5L88.0 296.7L89.5 296.9L91.1 297.1L92.6 297.4L94.2 297.6L95.8 297.8L97.3 298.1L98.9 298.5L100.4 298.8L102.0 298.9L103.5 298.7L105.1 298.3L106.7 297.9L108.2 297.7L109.8 297.8L111.5 298.0L113.1 298.3L114.5 298.5L115.4 298.6L116.0 298.7L116.8 298.8L118.3 298.8L120.9 298.6L124.3 298.2L127.8 298.0L130.7 298.6L132.9 300.1L134.6 302.3L136.2 304.6L137.7 306.6L139.1 308.2L140.4 309.6L141.6 310.6L142.8 311.0L144.0 310.6L145.1 309.6L146.2 308.2L147.3 306.6L148.5 304.8L149.7 302.7L151.0 300.3L152.2 297.5L153.4 294.2L154.6 290.3L155.8 286.5L157.0 283.2L158.3 280.7L159.7 278.4L161.0 276.8L162.2 275.7L163.4 275.5L164.4 276.1L165.4 277.0L166.4 278.1L167.2 279.1L167.9 280.2L168.8 281.7L169.9 283.8L171.4 286.6L173.2 290.1L175.0 293.8L176.8 297.5L178.3 301.4L179.8 305.5L181.2 309.4L182.7 312.6L183.9 315.2L185.1 317.5L186.6 318.9L188.9 319.0L192.2 317.2L196.3 313.9L200.9 310.2L205.9 307.6L211.6 306.5L218.1 306.1L224.5 306.0L229.8 305.8L233.5 305.4L236.4 304.9L238.8 304.5L241.5 304.0L244.6 303.3L247.8 302.5L250.9 301.8L253.6 301.7L255.9 302.4L257.9 303.8L259.8 305.0L262.0 305.3L264.5 304.2L267.2 302.1L270.0 299.8L272.7 298.0L275.1 296.9L277.3 296.0L279.7 295.2L282.4 294.4L285.5 293.5L288.8 292.7L292.4 291.9L296.6 291.3L301.9 290.9L308.0 290.6L313.7 290.4L317.7 290.3" fill="none" stroke="#ffff00" stroke-width="1.85" stroke-linejoin="round"/>
<path d="M40.7,258.6 V349.4 H317.7" fill="none" stroke="#8a8a8a" stroke-width="1"/>
<line x1="40.7" y1="258.6" x2="43.2" y2="258.6" stroke="#8a8a8a" stroke-width="1"/>
<text x="37.7" y="262" font-size="10" text-anchor="end" fill="#111">-15</text>
<line x1="40.7" y1="271.57" x2="43.2" y2="271.57" stroke="#8a8a8a" stroke-width="1"/>
<text x="37.7" y="274.97" font-size="10" text-anchor="end" fill="#111">-10</text>
<line x1="40.7" y1="284.54" x2="43.2" y2="284.54" stroke="#8a8a8a" stroke-width="1"/>
<text x="37.7" y="287.94" font-size="10" text-anchor="end" fill="#111">-5</text>
<line x1="40.7" y1="297.51" x2="43.2" y2="297.51" stroke="#8a8a8a" stroke-width="1"/>
<text x="37.7" y="300.91" font-size="10" text-anchor="end" fill="#111">0</text>
<line x1="40.7" y1="310.49" x2="43.2" y2="310.49" stroke="#8a8a8a" stroke-width="1"/>
<text x="37.7" y="313.89" font-size="10" text-anchor="end" fill="#111">5</text>
<line x1="40.7" y1="323.46" x2="43.2" y2="323.46" stroke="#8a8a8a" stroke-width="1"/>
<text x="37.7" y="326.86" font-size="10" text-anchor="end" fill="#111">10</text>
<line x1="40.7" y1="336.43" x2="43.2" y2="336.43" stroke="#8a8a8a" stroke-width="1"/>
<text x="37.7" y="339.83" font-size="10" text-anchor="end" fill="#111">15</text>
<line x1="40.7" y1="349.4" x2="43.2" y2="349.4" stroke="#8a8a8a" stroke-width="1"/>
<text x="37.7" y="352.8" font-size="10" text-anchor="end" fill="#111">20</text>
<line x1="40.7" y1="349.4" x2="40.7" y2="346.9" stroke="#8a8a8a" stroke-width="1"/>
<text x="38.9" y="360.4" font-size="10.2" text-anchor="middle" fill="#111">-200</text>
<line x1="75.33" y1="349.4" x2="75.33" y2="346.9" stroke="#8a8a8a" stroke-width="1"/>
<text x="73.53" y="360.4" font-size="10.2" text-anchor="middle" fill="#111">-100</text>
<line x1="109.95" y1="349.4" x2="109.95" y2="346.9" stroke="#8a8a8a" stroke-width="1"/>
<text x="109.55" y="360.4" font-size="10.2" text-anchor="middle" fill="#111">0</text>
<line x1="144.57" y1="349.4" x2="144.57" y2="346.9" stroke="#8a8a8a" stroke-width="1"/>
<text x="144.17" y="360.4" font-size="10.2" text-anchor="middle" fill="#111">100</text>
<line x1="179.2" y1="349.4" x2="179.2" y2="346.9" stroke="#8a8a8a" stroke-width="1"/>
<text x="178.8" y="360.4" font-size="10.2" text-anchor="middle" fill="#111">200</text>
<line x1="213.82" y1="349.4" x2="213.82" y2="346.9" stroke="#8a8a8a" stroke-width="1"/>
<text x="213.42" y="360.4" font-size="10.2" text-anchor="middle" fill="#111">300</text>
<line x1="248.45" y1="349.4" x2="248.45" y2="346.9" stroke="#8a8a8a" stroke-width="1"/>
<text x="248.05" y="360.4" font-size="10.2" text-anchor="middle" fill="#111">400</text>
<line x1="283.07" y1="349.4" x2="283.07" y2="346.9" stroke="#8a8a8a" stroke-width="1"/>
<text x="282.68" y="360.4" font-size="10.2" text-anchor="middle" fill="#111">500</text>
<line x1="317.7" y1="349.4" x2="317.7" y2="346.9" stroke="#8a8a8a" stroke-width="1"/>
<text x="317.3" y="360.4" font-size="10.2" text-anchor="middle" fill="#111">600</text>
<text x="53.4" y="266.3" font-size="12.1" fill="#111">PO7</text>
<line x1="40.7" y1="412.27" x2="317.7" y2="412.27" stroke="#a0a0a0" stroke-width="1"/>
<line x1="109.95" y1="373.4" x2="109.95" y2="464.1" stroke="#b0b0b0" stroke-width="0.8" stroke-dasharray="1,1.6"/>
<path d="M40.7 408.9L42.9 408.5L45.9 408.3L48.9 409.3L52.1 410.2L55.2 410.1L58.4 409.8L61.5 409.8L64.6 410.1L67.7 410.7L70.8 411.2L73.9 410.8L77.1 410.3L80.2 410.4L83.3 410.6L86.4 410.7L89.5 410.9L92.6 411.5L95.8 412.0L98.9 411.7L102.0 411.3L105.1 411.7L108.2 412.2L111.4 413.0L114.5 413.6L117.1 413.4L120.3 413.0L125.5 412.5L130.7 413.0L134.2 416.7L137.0 421.1L139.7 424.9L142.2 426.9L144.5 424.9L146.7 420.9L148.7 416.5L150.8 411.1L153.0 404.1L155.3 397.1L157.9 391.2L160.5 387.6L163.0 388.3L165.4 391.3L167.5 394.8L169.9 399.2L172.9 405.0L176.1 411.4L179.0 418.7L182.0 425.4L184.9 430.1L188.9 432.2L195.6 429.6L203.4 425.7L211.9 423.2L220.1 421.6L225.9 422.3L232.2 422.6L242.2 418.7L252.3 414.9L258.9 415.3L265.4 415.9L274.5 413.1L284.5 409.4L294.5 406.4L303.8 404.0L312.0 402.9L317.7 402.4L317.7 404.0L312.0 404.4L303.8 405.5L294.5 407.9L284.5 411.0L274.5 414.6L265.4 417.5L258.9 416.9L252.3 416.4L242.2 420.3L232.2 424.2L225.9 423.9L220.1 423.2L211.9 424.7L203.4 427.4L195.6 431.9L188.9 434.8L184.9 432.6L182.0 427.6L179.0 420.7L176.1 413.2L172.9 406.9L169.9 402.0L167.5 398.9L165.4 397.0L163.0 395.3L160.5 395.0L157.9 397.4L155.3 401.5L153.0 407.2L150.8 413.5L148.7 418.8L146.7 423.4L144.5 427.6L142.2 429.7L139.7 427.4L137.0 423.2L134.2 418.5L130.7 414.6L125.5 414.1L120.3 414.6L117.1 415.0L114.5 415.2L111.4 414.6L108.2 413.8L105.1 413.2L102.0 412.9L98.9 413.3L95.8 413.6L92.6 413.1L89.5 412.5L86.4 412.3L83.3 412.2L80.2 411.9L77.1 411.8L73.9 412.3L70.8 412.7L67.7 412.3L64.6 411.7L61.5 411.4L58.4 411.3L55.2 411.6L52.1 411.8L48.9 410.8L45.9 409.9L42.9 410.0L40.7 410.5Z" fill="rgba(255,255,140,0.55)"/>
<path d="M40.7 409.8L42.9 409.8L45.9 409.7L48.9 409.4L52.1 409.3L55.2 409.7L58.4 410.2L61.5 410.4L64.6 410.7L67.7 411.0L70.8 411.2L73.9 411.0L77.1 410.9L80.2 411.1L83.3 411.3L86.4 411.5L89.5 411.6L92.6 411.2L95.8 411.0L98.9 411.1L102.0 411.3L105.1 411.7L108.2 411.9L111.4 411.7L114.5 411.4L117.1 411.5L120.3 411.6L125.5 411.1L130.7 411.9L134.2 416.4L137.0 421.9L139.7 426.7L142.2 429.4L144.5 426.9L146.7 422.1L148.6 417.2L150.5 410.5L152.6 400.0L155.0 388.9L157.5 379.9L160.2 374.4L162.8 375.8L165.4 380.8L167.5 385.4L169.9 391.5L172.9 401.2L176.1 410.9L179.0 418.4L182.0 424.1L184.9 427.7L188.9 429.0L195.6 427.1L203.4 424.2L211.9 421.4L220.1 419.4L225.9 420.7L232.2 421.0L242.2 414.4L252.3 408.0L258.9 409.1L265.4 411.4L274.5 409.8L284.5 407.5L294.5 405.7L303.8 404.4L312.0 404.3L317.7 404.6L317.7 407.0L312.0 406.6L303.8 406.7L294.5 408.0L284.5 409.8L274.5 412.2L265.4 413.7L258.9 411.4L252.3 410.3L242.2 416.7L232.2 423.3L225.9 423.0L220.1 421.7L211.9 423.8L203.4 426.8L195.6 430.6L188.9 432.9L184.9 431.4L182.0 427.4L179.0 421.3L176.1 413.6L172.9 404.1L169.9 395.7L167.5 391.6L165.4 389.3L162.8 386.5L160.2 385.4L157.5 388.9L155.0 395.2L152.6 404.4L150.5 414.0L148.6 420.6L146.7 425.8L144.5 431.0L142.2 433.5L139.7 430.4L137.0 425.0L134.2 419.0L130.7 414.2L125.5 413.5L120.3 414.0L117.1 413.8L114.5 413.7L111.4 414.0L108.2 414.2L105.1 414.0L102.0 413.6L98.9 413.4L95.8 413.3L92.6 413.6L89.5 413.9L86.4 413.8L83.3 413.7L80.2 413.4L77.1 413.2L73.9 413.4L70.8 413.5L67.7 413.3L64.6 413.0L61.5 412.8L58.4 412.5L55.2 412.0L52.1 411.7L48.9 411.8L45.9 412.0L42.9 412.1L40.7 412.1Z" fill="rgba(150,150,255,0.4)"/>
<path d="M40.7 408.9L42.9 409.3L45.9 409.7L48.9 409.9L52.1 409.9L55.2 409.4L58.4 409.0L61.5 409.2L64.6 409.6L67.7 409.6L70.8 409.6L73.9 409.7L77.1 410.0L80.2 410.2L83.3 410.4L86.4 410.6L89.5 410.8L92.6 410.9L95.8 411.2L98.9 411.8L102.0 412.2L105.1 412.2L108.2 412.1L111.4 412.4L114.5 412.7L117.1 412.5L120.3 412.3L125.5 411.5L130.7 412.2L134.2 417.3L137.0 423.5L139.7 429.8L142.2 433.5L144.5 430.5L146.7 424.5L148.6 418.2L150.5 410.3L152.6 399.4L155.0 388.0L157.5 378.3L160.2 372.2L162.8 373.7L165.4 379.0L167.5 383.7L169.9 390.0L172.9 400.2L176.1 410.8L179.0 419.2L182.0 426.0L184.9 430.7L188.9 432.6L195.6 429.7L203.4 425.6L211.9 423.2L220.1 421.6L225.9 421.9L232.2 421.3L242.2 415.6L252.3 410.2L258.9 410.6L265.4 412.0L274.5 410.5L284.5 408.4L294.5 406.2L303.8 404.8L312.0 405.4L317.7 406.6L317.7 409.2L312.0 408.0L303.8 407.3L294.5 408.8L284.5 411.0L274.5 413.1L265.4 414.6L258.9 413.2L252.3 412.8L242.2 418.2L232.2 423.9L225.9 424.5L220.1 424.2L211.9 425.8L203.4 428.5L195.6 433.6L188.9 437.0L184.9 434.8L182.0 429.6L179.0 422.5L176.1 413.8L172.9 403.5L169.9 394.7L167.5 390.6L165.4 388.5L162.8 385.6L160.2 384.4L157.5 388.3L155.0 395.0L152.6 404.3L150.5 414.2L148.6 422.0L146.7 428.6L144.5 435.0L142.2 438.2L139.7 433.9L137.0 426.9L134.2 420.2L130.7 414.9L125.5 414.1L120.3 414.9L117.1 415.1L114.5 415.3L111.4 415.0L108.2 414.7L105.1 414.8L102.0 414.8L98.9 414.3L95.8 413.8L92.6 413.5L89.5 413.4L86.4 413.2L83.3 413.0L80.2 412.8L77.1 412.6L73.9 412.3L70.8 412.2L67.7 412.2L64.6 412.2L61.5 411.8L58.4 411.6L55.2 412.0L52.1 412.5L48.9 412.5L45.9 412.3L42.9 411.9L40.7 411.5Z" fill="rgba(255,140,140,0.45)"/>
<path d="M40.7 410.2L41.6 410.4L42.9 410.6L44.4 410.8L45.9 411.0L47.4 411.1L48.9 411.2L50.5 411.2L52.1 411.2L53.7 411.0L55.2 410.7L56.8 410.4L58.4 410.3L59.9 410.3L61.5 410.5L63.0 410.8L64.6 410.9L66.1 410.9L67.7 410.9L69.3 410.9L70.8 410.9L72.4 410.9L73.9 411.0L75.5 411.1L77.1 411.3L78.6 411.4L80.2 411.5L81.7 411.6L83.3 411.7L84.8 411.8L86.4 411.9L88.0 412.0L89.5 412.1L91.1 412.2L92.6 412.2L94.2 412.4L95.8 412.5L97.3 412.8L98.9 413.1L100.4 413.3L102.0 413.5L103.5 413.5L105.1 413.5L106.7 413.4L108.2 413.4L109.8 413.5L111.4 413.7L112.9 413.9L114.5 414.0L115.8 413.9L117.1 413.8L118.6 413.7L120.3 413.6L122.7 413.3L125.5 412.8L128.3 412.7L130.7 413.6L132.6 415.7L134.2 418.7L135.6 422.1L137.0 425.2L138.3 428.4L139.7 431.9L140.9 434.6L142.2 435.9L143.3 435.0L144.5 432.7L145.6 429.7L146.7 426.5L147.6 423.5L148.6 420.1L149.5 416.4L150.5 412.3L151.5 407.4L152.6 401.8L153.8 396.3L155.0 391.5L156.2 387.3L157.5 383.3L158.8 380.1L160.2 378.3L161.5 378.3L162.8 379.7L164.1 381.7L165.4 383.8L166.5 385.4L167.5 387.1L168.6 389.3L169.9 392.3L171.3 396.6L172.9 401.9L174.5 407.3L176.1 412.3L177.6 416.7L179.0 420.9L180.4 424.6L182.0 427.8L183.4 430.5L184.9 432.8L186.6 434.3L188.9 434.8L191.9 433.8L195.6 431.6L199.5 429.1L203.4 427.0L207.6 425.7L211.9 424.5L216.2 423.6L220.1 422.9L223.2 422.8L225.9 423.2L228.7 423.4L232.2 422.6L236.8 420.3L242.2 416.9L247.5 413.6L252.3 411.5L255.9 411.2L258.9 411.9L261.9 412.9L265.4 413.3L269.8 412.8L274.5 411.8L279.5 410.7L284.5 409.7L289.4 408.6L294.5 407.5L299.4 406.6L303.8 406.1L308.0 406.2L312.0 406.7L315.3 407.4L317.7 407.9" fill="none" stroke="#e60000" stroke-width="1.85" stroke-linejoin="round"/>
<path d="M40.7 411.0L41.6 411.0L42.9 410.9L44.4 410.9L45.9 410.8L47.4 410.8L48.9 410.6L50.5 410.5L52.1 410.5L53.7 410.6L55.2 410.9L56.8 411.1L58.4 411.3L59.9 411.5L61.5 411.6L63.0 411.7L64.6 411.8L66.1 412.0L67.7 412.2L69.3 412.3L70.8 412.4L72.4 412.3L73.9 412.2L75.5 412.1L77.1 412.0L78.6 412.1L80.2 412.2L81.7 412.4L83.3 412.5L84.8 412.6L86.4 412.7L88.0 412.7L89.5 412.7L91.1 412.6L92.6 412.4L94.2 412.2L95.8 412.1L97.3 412.1L98.9 412.2L100.4 412.3L102.0 412.5L103.5 412.6L105.1 412.8L106.7 413.0L108.2 413.1L109.8 413.0L111.4 412.8L112.9 412.7L114.5 412.6L115.8 412.6L117.1 412.6L118.6 412.7L120.3 412.8L122.7 412.6L125.5 412.3L128.3 412.3L130.7 413.0L132.6 415.0L134.2 417.7L135.6 420.8L137.0 423.4L138.3 426.0L139.7 428.5L140.9 430.6L142.2 431.4L143.3 430.8L144.5 428.9L145.6 426.5L146.7 423.9L147.6 421.5L148.6 418.9L149.5 415.9L150.5 412.3L151.5 407.6L152.6 402.2L153.8 396.7L155.0 392.1L156.2 388.0L157.5 384.4L158.8 381.5L160.2 379.9L161.5 379.9L162.8 381.2L164.1 383.1L165.4 385.1L166.5 386.7L167.5 388.5L168.6 390.7L169.9 393.6L171.3 397.7L172.9 402.6L174.5 407.7L176.1 412.3L177.6 416.2L179.0 419.9L180.4 423.1L182.0 425.7L183.4 427.9L184.9 429.5L186.6 430.6L188.9 430.9L191.9 430.3L195.6 428.8L199.5 427.1L203.4 425.5L207.6 424.1L211.9 422.6L216.2 421.3L220.1 420.6L223.2 420.8L225.9 421.8L228.7 422.6L232.2 422.1L236.8 419.5L242.2 415.5L247.5 411.6L252.3 409.2L255.9 409.0L258.9 410.3L261.9 411.8L265.4 412.5L269.8 412.1L274.5 411.0L279.5 409.7L284.5 408.6L289.4 407.7L294.5 406.8L299.4 406.1L303.8 405.5L308.0 405.4L312.0 405.5L315.3 405.7L317.7 405.8" fill="none" stroke="#0000e6" stroke-width="1.85" stroke-linejoin="round"/>
<path d="M40.7 409.7L41.6 409.5L42.9 409.3L44.4 409.1L45.9 409.1L47.4 409.4L48.9 410.0L50.5 410.6L52.1 411.0L53.7 411.0L55.2 410.9L56.8 410.7L58.4 410.5L59.9 410.6L61.5 410.6L63.0 410.7L64.6 410.9L66.1 411.1L67.7 411.5L69.3 411.8L70.8 411.9L72.4 411.8L73.9 411.5L75.5 411.2L77.1 411.1L78.6 411.1L80.2 411.1L81.7 411.3L83.3 411.4L84.8 411.4L86.4 411.5L88.0 411.6L89.5 411.7L91.1 412.0L92.6 412.3L94.2 412.7L95.8 412.8L97.3 412.7L98.9 412.5L100.4 412.2L102.0 412.1L103.5 412.2L105.1 412.4L106.7 412.7L108.2 413.0L109.8 413.4L111.4 413.8L112.9 414.2L114.5 414.4L115.8 414.4L117.1 414.2L118.6 414.0L120.3 413.8L122.7 413.6L125.5 413.3L128.3 413.2L130.7 413.8L132.6 415.4L134.2 417.6L135.6 420.0L137.0 422.1L138.3 424.1L139.7 426.1L140.9 427.7L142.2 428.3L143.3 427.7L144.5 426.2L145.6 424.2L146.7 422.1L147.7 420.0L148.7 417.6L149.8 415.0L150.8 412.3L151.9 409.1L153.0 405.7L154.1 402.3L155.3 399.3L156.6 396.7L157.9 394.3L159.2 392.4L160.5 391.3L161.7 391.1L163.0 391.8L164.2 392.9L165.4 394.1L166.5 395.4L167.5 396.8L168.6 398.5L169.9 400.6L171.3 403.1L172.9 406.0L174.5 409.1L176.1 412.3L177.6 415.8L179.0 419.7L180.4 423.4L182.0 426.5L183.4 429.1L184.9 431.4L186.6 432.9L188.9 433.5L191.9 432.7L195.6 430.7L199.5 428.4L203.4 426.5L207.6 425.2L211.9 423.9L216.2 423.0L220.1 422.4L223.2 422.5L225.9 423.1L228.7 423.7L232.2 423.4L236.8 421.9L242.2 419.5L247.5 417.2L252.3 415.6L255.9 415.5L258.9 416.1L261.9 416.7L265.4 416.7L269.8 415.6L274.5 413.8L279.5 411.9L284.5 410.2L289.4 408.7L294.5 407.2L299.4 405.8L303.8 404.8L308.0 404.1L312.0 403.6L315.3 403.4L317.7 403.2" fill="none" stroke="#ffff00" stroke-width="1.85" stroke-linejoin="round"/>
<path d="M40.7,373.4 V464.1 H317.7" fill="none" stroke="#8a8a8a" stroke-width="1"/>
<line x1="40.7" y1="373.4" x2="43.2" y2="373.4" stroke="#8a8a8a" stroke-width="1"/>
<text x="37.7" y="376.8" font-size="10" text-anchor="end" fill="#111">-15</text>
<line x1="40.7" y1="386.36" x2="43.2" y2="386.36" stroke="#8a8a8a" stroke-width="1"/>
<text x="37.7" y="389.76" font-size="10" text-anchor="end" fill="#111">-10</text>
<line x1="40.7" y1="399.31" x2="43.2" y2="399.31" stroke="#8a8a8a" stroke-width="1"/>
<text x="37.7" y="402.71" font-size="10" text-anchor="end" fill="#111">-5</text>
<line x1="40.7" y1="412.27" x2="43.2" y2="412.27" stroke="#8a8a8a" stroke-width="1"/>
<text x="37.7" y="415.67" font-size="10" text-anchor="end" fill="#111">0</text>
<line x1="40.7" y1="425.23" x2="43.2" y2="425.23" stroke="#8a8a8a" stroke-width="1"/>
<text x="37.7" y="428.63" font-size="10" text-anchor="end" fill="#111">5</text>
<line x1="40.7" y1="438.19" x2="43.2" y2="438.19" stroke="#8a8a8a" stroke-width="1"/>
<text x="37.7" y="441.59" font-size="10" text-anchor="end" fill="#111">10</text>
<line x1="40.7" y1="451.14" x2="43.2" y2="451.14" stroke="#8a8a8a" stroke-width="1"/>
<text x="37.7" y="454.54" font-size="10" text-anchor="end" fill="#111">15</text>
<line x1="40.7" y1="464.1" x2="43.2" y2="464.1" stroke="#8a8a8a" stroke-width="1"/>
<text x="37.7" y="467.5" font-size="10" text-anchor="end" fill="#111">20</text>
<line x1="40.7" y1="464.1" x2="40.7" y2="461.6" stroke="#8a8a8a" stroke-width="1"/>
<text x="38.9" y="475.1" font-size="10.2" text-anchor="middle" fill="#111">-200</text>
<line x1="75.33" y1="464.1" x2="75.33" y2="461.6" stroke="#8a8a8a" stroke-width="1"/>
<text x="73.53" y="475.1" font-size="10.2" text-anchor="middle" fill="#111">-100</text>
<line x1="109.95" y1="464.1" x2="109.95" y2="461.6" stroke="#8a8a8a" stroke-width="1"/>
<text x="109.55" y="475.1" font-size="10.2" text-anchor="middle" fill="#111">0</text>
<line x1="144.57" y1="464.1" x2="144.57" y2="461.6" stroke="#8a8a8a" stroke-width="1"/>
<text x="144.17" y="475.1" font-size="10.2" text-anchor="middle" fill="#111">100</text>
<line x1="179.2" y1="464.1" x2="179.2" y2="461.6" stroke="#8a8a8a" stroke-width="1"/>
<text x="178.8" y="475.1" font-size="10.2" text-anchor="middle" fill="#111">200</text>
<line x1="213.82" y1="464.1" x2="213.82" y2="461.6" stroke="#8a8a8a" stroke-width="1"/>
<text x="213.42" y="475.1" font-size="10.2" text-anchor="middle" fill="#111">300</text>
<line x1="248.45" y1="464.1" x2="248.45" y2="461.6" stroke="#8a8a8a" stroke-width="1"/>
<text x="248.05" y="475.1" font-size="10.2" text-anchor="middle" fill="#111">400</text>
<line x1="283.07" y1="464.1" x2="283.07" y2="461.6" stroke="#8a8a8a" stroke-width="1"/>
<text x="282.68" y="475.1" font-size="10.2" text-anchor="middle" fill="#111">500</text>
<line x1="317.7" y1="464.1" x2="317.7" y2="461.6" stroke="#8a8a8a" stroke-width="1"/>
<text x="317.3" y="475.1" font-size="10.2" text-anchor="middle" fill="#111">600</text>
<text x="55.3" y="381.3" font-size="12.1" fill="#111">PO8</text>
<line x1="41.7" y1="546" x2="318.7" y2="546" stroke="#a0a0a0" stroke-width="1"/>
<line x1="110.95" y1="510" x2="110.95" y2="594" stroke="#b0b0b0" stroke-width="0.8" stroke-dasharray="1,1.6"/>
<path d="M41.7 542.2L43.9 542.6L46.9 543.0L49.9 542.6L53.1 542.2L56.2 542.5L59.4 542.9L62.5 542.8L65.6 542.8L68.7 543.3L71.8 543.8L74.9 543.8L78.1 543.9L81.2 544.4L84.3 544.9L87.4 545.1L90.5 545.1L93.6 544.8L96.8 544.5L99.9 545.1L103.0 545.7L106.1 545.6L109.2 545.2L112.3 545.0L115.5 545.0L118.8 545.5L122.7 546.0L128.4 545.8L133.8 546.2L136.9 549.0L139.3 552.1L142.0 554.0L144.5 554.8L146.5 553.4L148.3 550.9L150.3 547.8L152.5 544.8L155.0 543.1L157.7 541.6L160.7 539.7L163.6 539.1L166.2 540.2L168.4 542.1L169.9 544.1L171.9 547.3L175.6 553.3L180.2 559.5L184.8 564.9L190.2 568.1L197.8 565.9L205.8 562.5L213.0 561.5L220.0 561.4L227.0 562.1L234.6 562.6L244.4 560.6L253.6 559.0L258.7 560.8L263.0 562.6L269.0 560.6L275.1 557.8L279.6 555.9L284.4 554.2L291.0 552.6L299.0 550.8L309.7 547.6L318.7 544.8L318.7 546.2L309.7 549.0L299.0 552.2L291.0 554.1L284.4 555.6L279.6 557.3L275.1 559.2L269.0 562.0L263.0 564.0L258.7 562.3L253.6 560.4L244.4 562.1L234.6 564.0L227.0 563.6L220.0 562.8L213.0 563.0L205.8 564.1L197.8 567.9L190.2 570.5L184.8 567.1L180.2 561.3L175.6 555.0L171.9 549.5L169.9 547.1L168.4 546.0L166.2 545.6L163.6 545.7L160.7 546.3L157.7 546.6L155.0 546.4L152.5 547.2L150.3 549.9L148.3 553.1L146.5 555.8L144.5 557.4L142.0 556.5L139.3 554.3L136.9 550.8L133.8 547.7L128.4 547.2L122.7 547.4L118.8 546.9L115.5 546.4L112.3 546.4L109.2 546.7L106.1 547.0L103.0 547.2L99.9 546.6L96.8 545.9L93.6 546.2L90.5 546.6L87.4 546.6L84.3 546.3L81.2 545.8L78.1 545.3L74.9 545.3L71.8 545.3L68.7 544.8L65.6 544.2L62.5 544.3L59.4 544.4L56.2 543.9L53.1 543.6L49.9 544.0L46.9 544.4L43.9 544.1L41.7 543.6Z" fill="rgba(255,255,140,0.55)"/>
<path d="M41.7 541.6L43.9 541.9L46.9 542.1L49.9 541.6L53.1 541.1L56.2 541.8L59.4 542.5L62.5 542.5L65.6 542.3L68.7 542.4L71.8 542.5L74.9 542.0L78.1 541.6L81.2 541.8L84.3 542.1L87.4 542.5L90.5 542.8L93.6 543.2L96.8 543.4L99.9 543.4L103.0 543.3L106.1 542.9L109.2 542.8L112.3 543.5L115.5 544.1L118.8 543.8L122.7 543.5L128.4 543.7L133.8 544.9L136.9 548.1L139.3 551.6L142.0 553.8L144.5 554.9L146.5 553.9L148.3 551.5L150.0 548.3L151.8 544.3L153.8 539.9L156.3 535.2L159.7 530.5L163.2 528.4L166.0 530.2L168.4 534.0L170.7 538.9L173.3 544.6L176.4 550.9L180.2 556.6L185.1 560.8L190.9 562.4L198.2 559.0L205.8 554.4L212.9 552.2L220.0 551.4L227.0 553.7L234.6 555.0L244.4 549.0L253.6 543.2L258.7 545.5L263.0 549.2L269.0 549.5L275.1 548.5L280.0 546.7L284.4 545.2L288.2 545.8L291.7 546.1L294.5 543.6L299.0 540.8L309.3 539.9L318.7 539.6L318.7 541.8L309.3 542.1L299.0 543.0L294.5 545.8L291.7 548.3L288.2 547.9L284.4 547.3L280.0 548.9L275.1 550.7L269.0 551.6L263.0 551.4L258.7 547.7L253.6 545.4L244.4 551.1L234.6 557.2L227.0 555.9L220.0 553.6L212.9 554.4L205.8 556.8L198.2 562.0L190.9 566.1L185.1 564.1L180.2 559.4L176.4 553.4L173.3 547.4L170.7 542.9L168.4 539.8L166.0 538.5L163.2 538.6L159.7 539.9L156.3 541.4L153.8 544.1L151.8 547.7L150.0 551.4L148.3 554.9L146.5 557.5L144.5 558.7L142.0 557.6L139.3 554.8L136.9 550.8L133.8 547.1L128.4 545.9L122.7 545.6L118.8 546.0L115.5 546.3L112.3 545.6L109.2 544.9L106.1 545.1L103.0 545.4L99.9 545.6L96.8 545.6L93.6 545.3L90.5 545.0L87.4 544.6L84.3 544.3L81.2 543.9L78.1 543.8L74.9 544.2L71.8 544.6L68.7 544.6L65.6 544.4L62.5 544.6L59.4 544.7L56.2 543.9L53.1 543.3L49.9 543.7L46.9 544.3L43.9 544.1L41.7 543.7Z" fill="rgba(150,150,255,0.4)"/>
<path d="M41.7 541.9L43.9 542.2L46.9 542.5L49.9 542.7L53.1 542.9L56.2 542.9L59.4 542.9L62.5 542.8L65.6 542.8L68.7 543.4L71.8 543.9L74.9 543.5L78.1 543.0L81.2 543.0L84.3 543.3L87.4 543.9L90.5 544.4L93.6 544.1L96.8 543.8L99.9 544.3L103.0 544.9L106.1 545.2L109.2 545.3L112.3 544.7L115.5 544.2L118.8 544.5L122.7 545.0L128.4 544.8L133.8 545.4L136.9 549.4L139.3 553.8L142.0 557.2L144.5 559.0L146.5 557.3L148.3 553.7L150.1 549.1L151.8 544.1L154.1 540.0L156.0 536.7L156.1 536.6L156.7 536.4L160.0 532.2L163.9 530.0L166.7 532.2L169.1 535.9L171.5 539.8L174.0 544.5L176.8 550.9L180.2 557.7L184.6 564.7L190.2 568.9L197.8 565.1L205.8 559.6L213.0 558.0L220.0 557.8L227.0 559.1L234.6 559.7L244.4 555.3L253.6 551.3L258.7 553.2L263.0 556.1L269.0 556.0L275.1 554.9L279.6 553.1L284.4 551.3L291.0 550.2L299.0 549.1L309.7 546.9L318.7 545.0L318.7 547.4L309.7 549.3L299.0 551.5L291.0 552.6L284.4 553.7L279.6 555.5L275.1 557.3L269.0 558.4L263.0 558.5L258.7 555.6L253.6 553.7L244.4 557.7L234.6 562.1L227.0 561.5L220.0 560.2L213.0 560.4L205.8 562.2L197.8 568.5L190.2 573.0L184.6 568.3L180.2 560.7L176.8 553.7L174.0 547.5L171.5 543.8L169.1 541.7L166.7 540.6L163.9 540.9L160.0 542.8L156.7 543.6L156.1 543.2L156.0 543.3L154.1 544.8L151.8 547.9L150.1 552.6L148.3 557.5L146.5 561.3L144.5 563.3L142.0 561.3L139.3 557.4L136.9 552.3L133.8 548.0L128.4 547.2L122.7 547.4L118.8 546.9L115.5 546.6L112.3 547.1L109.2 547.7L106.1 547.6L103.0 547.3L99.9 546.7L96.8 546.2L93.6 546.5L90.5 546.8L87.4 546.3L84.3 545.7L81.2 545.4L78.1 545.4L74.9 545.9L71.8 546.3L68.7 545.8L65.6 545.2L62.5 545.2L59.4 545.3L56.2 545.3L53.1 545.3L49.9 545.1L46.9 544.9L43.9 544.6L41.7 544.3Z" fill="rgba(255,140,140,0.45)"/>
<path d="M41.7 543.1L42.6 543.2L43.9 543.4L45.4 543.6L46.9 543.7L48.4 543.8L49.9 543.9L51.5 544.0L53.1 544.1L54.7 544.1L56.2 544.1L57.8 544.1L59.4 544.1L60.9 544.1L62.5 544.0L64.0 544.0L65.6 544.0L67.1 544.3L68.7 544.6L70.3 544.9L71.8 545.1L73.4 545.0L74.9 544.7L76.5 544.4L78.1 544.2L79.6 544.1L81.2 544.2L82.7 544.3L84.3 544.5L85.8 544.8L87.4 545.1L89.0 545.4L90.5 545.6L92.1 545.5L93.6 545.3L95.2 545.1L96.8 545.0L98.3 545.2L99.9 545.5L101.4 545.8L103.0 546.1L104.5 546.3L106.1 546.4L107.7 546.5L109.2 546.5L110.8 546.3L112.3 545.9L113.8 545.5L115.5 545.4L117.1 545.5L118.8 545.7L120.6 546.0L122.7 546.2L125.4 546.2L128.4 546.0L131.3 546.0L133.8 546.7L135.6 548.4L136.9 550.8L138.1 553.4L139.3 555.6L140.7 557.5L142.0 559.3L143.3 560.6L144.5 561.1L145.6 560.6L146.5 559.3L147.4 557.5L148.3 555.6L149.2 553.4L150.1 550.8L150.9 548.2L151.8 546.0L152.9 544.1L154.1 542.4L155.2 541.0L156.0 540.0L156.2 539.7L156.1 539.9L156.1 540.2L156.7 540.0L158.1 539.0L160.0 537.5L162.1 536.1L163.9 535.4L165.4 535.6L166.7 536.4L167.9 537.5L169.1 538.8L170.3 540.2L171.5 541.8L172.7 543.7L174.0 546.0L175.3 548.9L176.8 552.3L178.3 555.9L180.2 559.2L182.3 562.8L184.6 566.5L187.3 569.6L190.2 571.0L193.8 569.8L197.8 566.8L201.9 563.3L205.8 560.9L209.5 559.7L213.0 559.2L216.5 559.0L220.0 559.0L223.5 559.4L227.0 560.3L230.6 561.0L234.6 560.9L239.2 559.2L244.4 556.5L249.4 553.9L253.6 552.5L256.6 552.9L258.7 554.4L260.6 556.2L263.0 557.3L265.9 557.5L269.0 557.2L272.2 556.7L275.1 556.1L277.5 555.3L279.6 554.3L281.8 553.3L284.4 552.5L287.6 551.9L291.0 551.4L294.8 551.0L299.0 550.3L304.0 549.3L309.7 548.1L315.0 547.0L318.7 546.2" fill="none" stroke="#e60000" stroke-width="1.85" stroke-linejoin="round"/>
<path d="M41.7 542.6L42.6 542.8L43.9 543.0L45.4 543.2L46.9 543.2L48.4 543.0L49.9 542.6L51.5 542.3L53.1 542.2L54.7 542.4L56.2 542.9L57.8 543.3L59.4 543.6L60.9 543.6L62.5 543.5L64.0 543.4L65.6 543.3L67.1 543.4L68.7 543.5L70.3 543.6L71.8 543.6L73.4 543.4L74.9 543.1L76.5 542.8L78.1 542.7L79.6 542.7L81.2 542.8L82.7 543.0L84.3 543.2L85.8 543.3L87.4 543.5L89.0 543.7L90.5 543.9L92.1 544.1L93.6 544.3L95.2 544.4L96.8 544.5L98.3 544.5L99.9 544.5L101.4 544.4L103.0 544.4L104.5 544.2L106.1 544.0L107.7 543.9L109.2 543.9L110.8 544.1L112.3 544.5L113.8 545.0L115.5 545.2L117.1 545.1L118.8 544.9L120.6 544.6L122.7 544.6L125.4 544.6L128.4 544.8L131.3 545.2L133.8 546.0L135.6 547.5L136.9 549.5L138.1 551.5L139.3 553.2L140.7 554.5L142.0 555.7L143.3 556.5L144.5 556.8L145.6 556.5L146.5 555.7L147.4 554.5L148.3 553.2L149.2 551.7L150.0 549.9L150.9 547.9L151.8 546.0L152.8 544.0L153.8 542.0L155.0 540.0L156.3 538.3L157.9 536.7L159.7 535.2L161.6 534.1L163.2 533.5L164.7 533.7L166.0 534.3L167.2 535.4L168.4 536.9L169.6 538.7L170.7 540.9L171.9 543.4L173.3 546.0L174.8 548.9L176.4 552.2L178.2 555.3L180.2 558.0L182.5 560.3L185.1 562.4L187.9 563.9L190.9 564.2L194.4 563.0L198.2 560.5L202.1 557.7L205.8 555.6L209.4 554.3L212.9 553.3L216.5 552.7L220.0 552.5L223.5 553.3L227.0 554.8L230.6 556.1L234.6 556.1L239.2 553.8L244.4 550.0L249.4 546.4L253.6 544.3L256.6 544.7L258.7 546.6L260.6 548.9L263.0 550.3L265.9 550.7L269.0 550.5L272.2 550.1L275.1 549.6L277.7 548.8L280.0 547.8L282.3 546.8L284.4 546.2L286.4 546.3L288.2 546.8L289.9 547.3L291.7 547.2L293.2 546.2L294.5 544.7L296.3 543.1L299.0 541.9L303.5 541.3L309.3 541.0L314.9 540.8L318.7 540.7" fill="none" stroke="#0000e6" stroke-width="1.85" stroke-linejoin="round"/>
<path d="M41.7 542.9L42.6 543.1L43.9 543.3L45.4 543.6L46.9 543.7L48.4 543.6L49.9 543.3L51.5 543.0L53.1 542.9L54.7 543.0L56.2 543.2L57.8 543.5L59.4 543.6L60.9 543.6L62.5 543.6L64.0 543.5L65.6 543.5L67.1 543.7L68.7 544.0L70.3 544.3L71.8 544.6L73.4 544.6L74.9 544.6L76.5 544.5L78.1 544.6L79.6 544.8L81.2 545.1L82.7 545.4L84.3 545.6L85.8 545.7L87.4 545.8L89.0 545.9L90.5 545.9L92.1 545.7L93.6 545.5L95.2 545.3L96.8 545.2L98.3 545.4L99.9 545.8L101.4 546.2L103.0 546.5L104.5 546.5L106.1 546.3L107.7 546.1L109.2 545.9L110.8 545.8L112.3 545.7L113.8 545.7L115.5 545.7L117.1 545.9L118.8 546.2L120.6 546.5L122.7 546.7L125.4 546.7L128.4 546.5L131.3 546.5L133.8 547.0L135.6 548.2L136.9 549.9L138.1 551.7L139.3 553.2L140.7 554.3L142.0 555.3L143.3 555.9L144.5 556.1L145.6 555.6L146.5 554.6L147.4 553.3L148.3 552.0L149.3 550.5L150.3 548.9L151.4 547.3L152.5 546.0L153.7 545.2L155.0 544.8L156.3 544.4L157.7 544.1L159.1 543.6L160.7 543.0L162.2 542.6L163.6 542.4L164.9 542.5L166.2 542.9L167.3 543.4L168.4 544.1L169.3 544.8L169.9 545.6L170.7 546.7L171.9 548.4L173.6 550.9L175.6 554.1L177.9 557.4L180.2 560.4L182.5 563.2L184.8 566.0L187.3 568.2L190.2 569.3L193.8 568.7L197.8 566.9L201.9 564.8L205.8 563.3L209.5 562.6L213.0 562.2L216.5 562.1L220.0 562.1L223.5 562.3L227.0 562.8L230.6 563.3L234.6 563.3L239.2 562.5L244.4 561.3L249.4 560.2L253.6 559.7L256.6 560.3L258.7 561.6L260.6 562.8L263.0 563.3L265.9 562.6L269.0 561.3L272.2 559.8L275.1 558.5L277.5 557.5L279.6 556.6L281.8 555.7L284.4 554.9L287.6 554.1L291.0 553.4L294.8 552.5L299.0 551.5L304.0 550.1L309.7 548.3L315.0 546.7L318.7 545.5" fill="none" stroke="#ffff00" stroke-width="1.85" stroke-linejoin="round"/>
<path d="M41.7,510 V594 H318.7" fill="none" stroke="#8a8a8a" stroke-width="1"/>
<line x1="41.7" y1="510" x2="44.2" y2="510" stroke="#8a8a8a" stroke-width="1"/>
<text x="38.7" y="513.4" font-size="10" text-anchor="end" fill="#111">-15</text>
<line x1="41.7" y1="522" x2="44.2" y2="522" stroke="#8a8a8a" stroke-width="1"/>
<text x="38.7" y="525.4" font-size="10" text-anchor="end" fill="#111">-10</text>
<line x1="41.7" y1="534" x2="44.2" y2="534" stroke="#8a8a8a" stroke-width="1"/>
<text x="38.7" y="537.4" font-size="10" text-anchor="end" fill="#111">-5</text>
<line x1="41.7" y1="546" x2="44.2" y2="546" stroke="#8a8a8a" stroke-width="1"/>
<text x="38.7" y="549.4" font-size="10" text-anchor="end" fill="#111">0</text>
<line x1="41.7" y1="558" x2="44.2" y2="558" stroke="#8a8a8a" stroke-width="1"/>
<text x="38.7" y="561.4" font-size="10" text-anchor="end" fill="#111">5</text>
<line x1="41.7" y1="570" x2="44.2" y2="570" stroke="#8a8a8a" stroke-width="1"/>
<text x="38.7" y="573.4" font-size="10" text-anchor="end" fill="#111">10</text>
<line x1="41.7" y1="582" x2="44.2" y2="582" stroke="#8a8a8a" stroke-width="1"/>
<text x="38.7" y="585.4" font-size="10" text-anchor="end" fill="#111">15</text>
<line x1="41.7" y1="594" x2="44.2" y2="594" stroke="#8a8a8a" stroke-width="1"/>
<text x="38.7" y="597.4" font-size="10" text-anchor="end" fill="#111">20</text>
<line x1="41.7" y1="594" x2="41.7" y2="591.5" stroke="#8a8a8a" stroke-width="1"/>
<text x="39.9" y="605" font-size="10.2" text-anchor="middle" fill="#111">-200</text>
<line x1="76.33" y1="594" x2="76.33" y2="591.5" stroke="#8a8a8a" stroke-width="1"/>
<text x="74.53" y="605" font-size="10.2" text-anchor="middle" fill="#111">-100</text>
<line x1="110.95" y1="594" x2="110.95" y2="591.5" stroke="#8a8a8a" stroke-width="1"/>
<text x="110.55" y="605" font-size="10.2" text-anchor="middle" fill="#111">0</text>
<line x1="145.57" y1="594" x2="145.57" y2="591.5" stroke="#8a8a8a" stroke-width="1"/>
<text x="145.17" y="605" font-size="10.2" text-anchor="middle" fill="#111">100</text>
<line x1="180.2" y1="594" x2="180.2" y2="591.5" stroke="#8a8a8a" stroke-width="1"/>
<text x="179.8" y="605" font-size="10.2" text-anchor="middle" fill="#111">200</text>
<line x1="214.82" y1="594" x2="214.82" y2="591.5" stroke="#8a8a8a" stroke-width="1"/>
<text x="214.42" y="605" font-size="10.2" text-anchor="middle" fill="#111">300</text>
<line x1="249.45" y1="594" x2="249.45" y2="591.5" stroke="#8a8a8a" stroke-width="1"/>
<text x="249.05" y="605" font-size="10.2" text-anchor="middle" fill="#111">400</text>
<line x1="284.07" y1="594" x2="284.07" y2="591.5" stroke="#8a8a8a" stroke-width="1"/>
<text x="283.68" y="605" font-size="10.2" text-anchor="middle" fill="#111">500</text>
<line x1="318.7" y1="594" x2="318.7" y2="591.5" stroke="#8a8a8a" stroke-width="1"/>
<text x="318.3" y="605" font-size="10.2" text-anchor="middle" fill="#111">600</text>
<text x="53.8" y="517.6" font-size="12.1" fill="#111">PO7</text>
<line x1="41.7" y1="652.79" x2="318.7" y2="652.79" stroke="#a0a0a0" stroke-width="1"/>
<line x1="110.95" y1="617" x2="110.95" y2="700.5" stroke="#b0b0b0" stroke-width="0.8" stroke-dasharray="1,1.6"/>
<path d="M41.7 648.0L43.9 648.0L46.9 648.1L49.9 648.8L53.1 649.4L56.2 648.9L59.4 648.5L62.5 649.3L65.6 650.1L68.7 649.9L71.8 649.7L74.9 650.2L78.1 650.8L81.2 650.4L84.3 650.1L87.4 650.7L90.5 651.5L93.6 651.7L96.8 651.8L99.9 651.6L103.0 651.5L106.1 652.1L109.2 652.8L112.4 653.0L115.5 653.1L118.0 653.2L121.3 653.3L127.6 652.8L133.8 653.2L137.1 656.4L139.3 660.1L141.7 663.2L143.8 664.9L146.1 663.2L148.3 660.0L150.6 656.3L152.8 652.8L155.3 650.7L157.7 649.1L160.0 647.3L162.2 646.5L164.3 647.2L166.4 649.0L168.1 650.7L170.2 653.7L172.9 659.7L176.7 666.3L182.3 672.4L189.2 676.2L197.4 673.4L205.8 669.4L213.1 668.5L220.0 668.8L227.0 670.3L234.6 671.2L244.5 668.4L253.6 665.7L257.7 667.1L260.9 668.8L266.6 667.4L272.6 665.2L277.3 663.4L282.3 661.6L289.4 659.9L296.5 658.0L302.1 655.9L307.3 653.7L313.7 651.8L318.7 650.4L318.7 651.8L313.7 653.2L307.3 655.2L302.1 657.3L296.5 659.5L289.4 661.3L282.3 663.0L277.3 664.8L272.6 666.6L266.6 668.8L260.9 670.2L257.7 668.5L253.6 667.1L244.5 669.8L234.6 672.6L227.0 671.7L220.0 670.2L213.1 670.0L205.8 671.0L197.4 675.5L189.2 678.6L182.3 674.4L176.7 667.9L172.9 661.7L170.2 656.6L168.1 654.8L166.4 654.2L164.3 653.6L162.2 653.4L160.0 653.7L157.7 654.1L155.3 654.2L152.8 655.2L150.6 658.4L148.3 662.2L146.1 665.6L143.8 667.4L141.7 665.6L139.3 662.2L137.1 658.1L133.8 654.7L127.6 654.3L121.3 654.7L118.0 654.6L115.5 654.6L112.4 654.5L109.2 654.2L106.1 653.5L103.0 652.9L99.9 653.0L96.8 653.2L93.6 653.2L90.5 652.9L87.4 652.1L84.3 651.5L81.2 651.8L78.1 652.2L74.9 651.7L71.8 651.1L68.7 651.3L65.6 651.5L62.5 650.7L59.4 649.9L56.2 650.4L53.1 650.8L49.9 650.2L46.9 649.5L43.9 649.4L41.7 649.4Z" fill="rgba(255,255,140,0.55)"/>
<path d="M41.7 648.1L43.9 648.0L46.9 648.1L49.9 648.7L53.1 649.2L56.2 649.0L59.4 648.6L62.5 648.4L65.6 648.2L68.7 648.4L71.8 648.8L74.9 649.4L78.1 650.0L81.2 650.2L84.3 650.3L87.4 650.6L90.5 650.7L93.6 650.0L96.8 649.5L99.9 650.2L103.0 651.0L106.1 650.7L109.2 650.4L112.4 650.6L115.5 650.9L118.0 650.9L121.3 651.0L127.6 650.8L133.8 651.6L137.1 655.4L139.3 659.6L141.7 662.6L143.8 664.2L146.1 662.6L148.3 659.5L150.3 655.7L152.2 651.1L154.1 645.7L156.3 640.2L159.0 635.1L161.8 632.1L164.6 633.2L167.0 636.1L168.6 638.2L170.2 641.1L172.3 646.0L174.7 651.5L177.1 657.1L180.2 662.2L184.0 666.6L189.2 668.4L197.2 664.4L205.8 659.5L213.1 657.8L220.0 657.7L227.0 660.0L234.6 661.3L244.5 655.7L253.6 650.0L257.7 650.9L260.9 653.4L266.6 654.5L272.6 654.8L277.9 653.3L282.3 651.7L285.4 652.5L288.2 652.9L292.1 650.1L296.5 646.9L301.7 645.7L307.3 645.3L313.7 645.6L318.7 646.2L318.7 648.4L313.7 647.8L307.3 647.4L301.7 647.8L296.5 649.1L292.1 652.2L288.2 655.1L285.4 654.6L282.3 653.9L277.9 655.4L272.6 657.0L266.6 656.6L260.9 655.5L257.7 653.1L253.6 652.2L244.5 657.8L234.6 663.4L227.0 662.2L220.0 659.8L213.1 660.0L205.8 661.8L197.2 667.5L189.2 672.0L184.0 669.7L180.2 664.9L177.1 659.6L174.7 654.1L172.3 649.2L170.2 645.4L168.6 643.8L167.0 643.2L164.6 642.6L161.8 642.4L159.0 643.9L156.3 646.3L154.1 650.0L152.2 654.5L150.3 658.8L148.3 662.8L146.1 666.3L143.8 668.1L141.7 666.3L139.3 662.7L137.1 658.0L133.8 653.9L127.6 653.0L121.3 653.1L118.0 653.1L115.5 653.0L112.4 652.7L109.2 652.5L106.1 652.9L103.0 653.1L99.9 652.4L96.8 651.7L93.6 652.2L90.5 652.8L87.4 652.7L84.3 652.5L81.2 652.4L78.1 652.2L74.9 651.6L71.8 650.9L68.7 650.6L65.6 650.4L62.5 650.5L59.4 650.8L56.2 651.2L53.1 651.3L49.9 650.8L46.9 650.2L43.9 650.2L41.7 650.3Z" fill="rgba(150,150,255,0.4)"/>
<path d="M41.7 647.8L43.9 648.2L46.9 648.6L49.9 649.0L53.1 649.1L56.2 648.6L59.4 648.2L62.5 648.6L65.6 649.2L68.7 649.7L71.8 650.1L74.9 650.2L78.1 650.2L81.2 650.0L84.3 649.9L87.4 650.0L90.5 650.2L93.6 650.6L96.8 651.2L99.9 651.7L103.0 652.0L106.1 651.9L109.2 651.8L112.4 652.1L115.5 652.4L118.0 652.4L121.3 652.3L127.6 651.7L133.8 652.2L137.1 656.6L139.3 661.8L141.7 666.1L143.8 668.5L146.1 666.2L148.3 661.7L150.4 656.4L152.5 650.8L154.5 646.3L156.7 642.0L159.2 637.6L161.8 634.9L164.6 636.1L167.0 639.3L168.8 641.8L170.5 645.0L172.5 650.3L174.7 656.1L177.1 661.7L180.2 666.8L184.0 672.1L189.2 674.6L197.2 670.1L205.8 664.6L213.1 663.2L220.0 663.5L227.0 665.6L234.6 666.6L244.5 661.5L253.6 656.4L257.7 657.4L260.9 659.9L266.6 661.3L272.6 661.9L277.3 661.1L282.3 659.5L289.4 656.9L296.5 654.7L302.1 654.8L307.3 655.2L313.7 653.8L318.7 652.3L318.7 654.7L313.7 656.2L307.3 657.6L302.1 657.2L296.5 657.1L289.4 659.3L282.3 661.9L277.3 663.5L272.6 664.2L266.6 663.7L260.9 662.3L257.7 659.8L253.6 658.8L244.5 663.8L234.6 669.0L227.0 668.0L220.0 665.9L213.1 665.6L205.8 667.2L197.2 673.6L189.2 678.7L184.0 675.6L180.2 669.8L177.1 664.4L174.7 659.0L172.5 653.7L170.5 649.6L168.8 647.8L167.0 647.2L164.6 646.6L161.8 646.3L159.2 647.5L156.7 649.2L154.5 651.4L152.5 654.8L150.4 659.9L148.3 665.4L146.1 670.3L143.8 672.8L141.7 670.2L139.3 665.3L137.1 659.5L133.8 654.8L127.6 654.1L121.3 654.7L118.0 654.8L115.5 654.8L112.4 654.5L109.2 654.2L106.1 654.3L103.0 654.4L99.9 654.1L96.8 653.6L93.6 653.0L90.5 652.6L87.4 652.3L84.3 652.3L81.2 652.4L78.1 652.6L74.9 652.6L71.8 652.5L68.7 652.1L65.6 651.6L62.5 651.0L59.4 650.5L56.2 651.0L53.1 651.5L49.9 651.4L46.9 651.0L43.9 650.6L41.7 650.2Z" fill="rgba(255,140,140,0.45)"/>
<path d="M41.7 649.0L42.6 649.1L43.9 649.4L45.4 649.6L46.9 649.8L48.4 650.0L49.9 650.2L51.5 650.3L53.1 650.3L54.7 650.1L56.2 649.8L57.8 649.5L59.4 649.3L60.9 649.5L62.5 649.8L64.0 650.1L65.6 650.4L67.1 650.7L68.7 650.9L70.3 651.1L71.8 651.3L73.4 651.4L74.9 651.4L76.5 651.4L78.1 651.4L79.6 651.3L81.2 651.2L82.7 651.1L84.3 651.1L85.8 651.1L87.4 651.1L89.0 651.2L90.5 651.4L92.1 651.6L93.6 651.8L95.2 652.1L96.8 652.4L98.3 652.6L99.9 652.9L101.4 653.1L103.0 653.2L104.5 653.2L106.1 653.1L107.7 653.0L109.2 653.0L110.8 653.1L112.4 653.3L113.9 653.5L115.5 653.6L116.8 653.6L118.0 653.6L119.4 653.5L121.3 653.5L124.2 653.3L127.6 652.9L131.0 652.8L133.8 653.5L135.7 655.4L137.1 658.1L138.2 661.0L139.3 663.5L140.5 665.8L141.7 668.2L142.7 670.0L143.8 670.7L145.0 670.0L146.1 668.2L147.2 665.9L148.3 663.5L149.4 661.0L150.4 658.2L151.5 655.3L152.5 652.8L153.5 650.7L154.5 648.8L155.5 647.2L156.7 645.6L157.9 644.0L159.2 642.5L160.5 641.3L161.8 640.6L163.2 640.7L164.6 641.4L165.9 642.3L167.0 643.2L168.0 644.0L168.8 644.8L169.6 645.8L170.5 647.3L171.5 649.4L172.5 652.0L173.5 654.8L174.7 657.6L175.9 660.3L177.1 663.0L178.5 665.8L180.2 668.3L182.0 671.0L184.0 673.8L186.3 676.0L189.2 676.6L192.9 675.1L197.2 671.9L201.7 668.4L205.8 665.9L209.5 664.8L213.1 664.4L216.5 664.5L220.0 664.7L223.5 665.5L227.0 666.8L230.6 667.9L234.6 667.8L239.3 665.9L244.5 662.7L249.6 659.5L253.6 657.6L256.1 657.5L257.7 658.6L259.0 660.0L260.9 661.1L263.6 661.8L266.6 662.5L269.7 662.9L272.6 663.0L275.1 662.8L277.3 662.3L279.7 661.5L282.3 660.7L285.7 659.5L289.4 658.1L293.1 656.8L296.5 655.9L299.5 655.7L302.1 656.0L304.6 656.4L307.3 656.4L310.3 655.8L313.7 655.0L316.6 654.1L318.7 653.5" fill="none" stroke="#e60000" stroke-width="1.85" stroke-linejoin="round"/>
<path d="M41.7 649.2L42.6 649.2L43.9 649.1L45.4 649.1L46.9 649.2L48.4 649.4L49.9 649.7L51.5 650.1L53.1 650.3L54.7 650.2L56.2 650.1L57.8 649.9L59.4 649.7L60.9 649.6L62.5 649.5L64.0 649.4L65.6 649.3L67.1 649.4L68.7 649.5L70.3 649.7L71.8 649.9L73.4 650.1L74.9 650.5L76.5 650.8L78.1 651.1L79.6 651.2L81.2 651.3L82.7 651.3L84.3 651.4L85.8 651.5L87.4 651.7L89.0 651.8L90.5 651.7L92.1 651.5L93.6 651.1L95.2 650.7L96.8 650.6L98.3 650.8L99.9 651.3L101.4 651.8L103.0 652.0L104.5 652.0L106.1 651.8L107.7 651.6L109.2 651.4L110.8 651.5L112.4 651.6L113.9 651.8L115.5 651.9L116.8 652.0L118.0 652.0L119.4 652.0L121.3 652.1L124.2 652.0L127.6 651.9L131.0 652.1L133.8 652.8L135.7 654.4L137.1 656.7L138.2 659.1L139.3 661.1L140.5 662.9L141.7 664.5L142.7 665.7L143.8 666.1L145.0 665.7L146.1 664.5L147.3 662.9L148.3 661.1L149.3 659.3L150.3 657.2L151.2 655.0L152.2 652.8L153.1 650.4L154.1 647.9L155.2 645.4L156.3 643.2L157.6 641.3L159.0 639.5L160.5 638.1L161.8 637.3L163.2 637.3L164.6 637.9L165.9 638.8L167.0 639.7L167.9 640.3L168.6 641.0L169.3 641.9L170.2 643.2L171.2 645.2L172.3 647.6L173.4 650.2L174.7 652.8L175.9 655.5L177.1 658.3L178.5 661.1L180.2 663.5L182.0 665.9L184.0 668.1L186.3 669.8L189.2 670.2L192.9 668.8L197.2 666.0L201.7 662.9L205.8 660.7L209.5 659.5L213.1 658.9L216.5 658.7L220.0 658.8L223.5 659.6L227.0 661.1L230.6 662.3L234.6 662.3L239.3 660.2L244.5 656.7L249.6 653.2L253.6 651.1L256.1 651.0L257.7 652.0L259.0 653.4L260.9 654.5L263.6 655.1L266.6 655.6L269.7 655.9L272.6 655.9L275.3 655.3L277.9 654.4L280.2 653.4L282.3 652.8L284.0 652.9L285.4 653.6L286.7 654.1L288.2 654.0L290.1 652.9L292.1 651.2L294.2 649.4L296.5 648.0L299.0 647.2L301.7 646.7L304.5 646.5L307.3 646.3L310.3 646.4L313.7 646.7L316.6 647.1L318.7 647.3" fill="none" stroke="#0000e6" stroke-width="1.85" stroke-linejoin="round"/>
<path d="M41.7 648.7L42.6 648.7L43.9 648.7L45.4 648.7L46.9 648.8L48.4 649.1L49.9 649.5L51.5 649.9L53.1 650.1L54.7 650.0L56.2 649.6L57.8 649.3L59.4 649.2L60.9 649.5L62.5 650.0L64.0 650.5L65.6 650.8L67.1 650.8L68.7 650.6L70.3 650.4L71.8 650.4L73.4 650.6L74.9 650.9L76.5 651.3L78.1 651.5L79.6 651.4L81.2 651.1L82.7 650.8L84.3 650.8L85.8 651.0L87.4 651.4L89.0 651.9L90.5 652.2L92.1 652.4L93.6 652.5L95.2 652.5L96.8 652.5L98.3 652.5L99.9 652.3L101.4 652.2L103.0 652.2L104.5 652.4L106.1 652.8L107.7 653.2L109.2 653.5L110.8 653.7L112.4 653.7L113.9 653.8L115.5 653.8L116.8 653.9L118.0 653.9L119.4 654.0L121.3 654.0L124.2 653.8L127.6 653.5L131.0 653.5L133.8 654.0L135.7 655.3L137.1 657.2L138.2 659.3L139.3 661.1L140.5 662.8L141.7 664.4L142.7 665.6L143.8 666.1L145.0 665.6L146.1 664.4L147.2 662.8L148.3 661.1L149.5 659.4L150.6 657.4L151.7 655.5L152.8 654.0L154.0 653.0L155.3 652.4L156.5 652.0L157.7 651.6L158.9 651.0L160.0 650.5L161.1 650.1L162.2 649.9L163.3 650.1L164.3 650.4L165.3 651.0L166.4 651.6L167.3 652.2L168.1 652.7L169.0 653.6L170.2 655.2L171.5 657.6L172.9 660.7L174.6 664.0L176.7 667.1L179.3 670.2L182.3 673.4L185.7 676.1L189.2 677.4L193.1 676.6L197.4 674.5L201.7 671.9L205.8 670.2L209.5 669.5L213.1 669.2L216.5 669.3L220.0 669.5L223.5 670.0L227.0 671.0L230.6 671.8L234.6 671.9L239.3 670.9L244.5 669.1L249.6 667.3L253.6 666.4L256.1 666.7L257.7 667.8L259.0 669.0L260.9 669.5L263.6 669.1L266.6 668.1L269.7 667.0L272.6 665.9L275.1 665.0L277.3 664.1L279.7 663.2L282.3 662.3L285.7 661.5L289.4 660.6L293.1 659.7L296.5 658.8L299.5 657.7L302.1 656.6L304.6 655.5L307.3 654.5L310.3 653.5L313.7 652.5L316.6 651.7L318.7 651.1" fill="none" stroke="#ffff00" stroke-width="1.85" stroke-linejoin="round"/>
<path d="M41.7,617 V700.5 H318.7" fill="none" stroke="#8a8a8a" stroke-width="1"/>
<line x1="41.7" y1="617" x2="44.2" y2="617" stroke="#8a8a8a" stroke-width="1"/>
<text x="38.7" y="620.4" font-size="10" text-anchor="end" fill="#111">-15</text>
<line x1="41.7" y1="628.93" x2="44.2" y2="628.93" stroke="#8a8a8a" stroke-width="1"/>
<text x="38.7" y="632.33" font-size="10" text-anchor="end" fill="#111">-10</text>
<line x1="41.7" y1="640.86" x2="44.2" y2="640.86" stroke="#8a8a8a" stroke-width="1"/>
<text x="38.7" y="644.26" font-size="10" text-anchor="end" fill="#111">-5</text>
<line x1="41.7" y1="652.79" x2="44.2" y2="652.79" stroke="#8a8a8a" stroke-width="1"/>
<text x="38.7" y="656.19" font-size="10" text-anchor="end" fill="#111">0</text>
<line x1="41.7" y1="664.71" x2="44.2" y2="664.71" stroke="#8a8a8a" stroke-width="1"/>
<text x="38.7" y="668.11" font-size="10" text-anchor="end" fill="#111">5</text>
<line x1="41.7" y1="676.64" x2="44.2" y2="676.64" stroke="#8a8a8a" stroke-width="1"/>
<text x="38.7" y="680.04" font-size="10" text-anchor="end" fill="#111">10</text>
<line x1="41.7" y1="688.57" x2="44.2" y2="688.57" stroke="#8a8a8a" stroke-width="1"/>
<text x="38.7" y="691.97" font-size="10" text-anchor="end" fill="#111">15</text>
<line x1="41.7" y1="700.5" x2="44.2" y2="700.5" stroke="#8a8a8a" stroke-width="1"/>
<text x="38.7" y="703.9" font-size="10" text-anchor="end" fill="#111">20</text>
<line x1="41.7" y1="700.5" x2="41.7" y2="698" stroke="#8a8a8a" stroke-width="1"/>
<text x="39.9" y="711.5" font-size="10.2" text-anchor="middle" fill="#111">-200</text>
<line x1="76.33" y1="700.5" x2="76.33" y2="698" stroke="#8a8a8a" stroke-width="1"/>
<text x="74.53" y="711.5" font-size="10.2" text-anchor="middle" fill="#111">-100</text>
<line x1="110.95" y1="700.5" x2="110.95" y2="698" stroke="#8a8a8a" stroke-width="1"/>
<text x="110.55" y="711.5" font-size="10.2" text-anchor="middle" fill="#111">0</text>
<line x1="145.57" y1="700.5" x2="145.57" y2="698" stroke="#8a8a8a" stroke-width="1"/>
<text x="145.17" y="711.5" font-size="10.2" text-anchor="middle" fill="#111">100</text>
<line x1="180.2" y1="700.5" x2="180.2" y2="698" stroke="#8a8a8a" stroke-width="1"/>
<text x="179.8" y="711.5" font-size="10.2" text-anchor="middle" fill="#111">200</text>
<line x1="214.82" y1="700.5" x2="214.82" y2="698" stroke="#8a8a8a" stroke-width="1"/>
<text x="214.42" y="711.5" font-size="10.2" text-anchor="middle" fill="#111">300</text>
<line x1="249.45" y1="700.5" x2="249.45" y2="698" stroke="#8a8a8a" stroke-width="1"/>
<text x="249.05" y="711.5" font-size="10.2" text-anchor="middle" fill="#111">400</text>
<line x1="284.07" y1="700.5" x2="284.07" y2="698" stroke="#8a8a8a" stroke-width="1"/>
<text x="283.68" y="711.5" font-size="10.2" text-anchor="middle" fill="#111">500</text>
<line x1="318.7" y1="700.5" x2="318.7" y2="698" stroke="#8a8a8a" stroke-width="1"/>
<text x="318.3" y="711.5" font-size="10.2" text-anchor="middle" fill="#111">600</text>
<text x="55.8" y="624.6" font-size="12.1" fill="#111">PO8</text>
<line x1="42.5" y1="782.64" x2="319.5" y2="782.64" stroke="#a0a0a0" stroke-width="1"/>
<line x1="111.75" y1="746.6" x2="111.75" y2="830.7" stroke="#b0b0b0" stroke-width="0.8" stroke-dasharray="1,1.6"/>
<path d="M42.5 779.0L44.7 779.3L47.7 779.7L50.7 780.1L53.9 780.6L57.0 781.0L60.2 781.3L63.3 781.3L66.4 781.2L69.5 781.3L72.6 781.5L75.7 781.9L78.9 782.4L82.0 782.7L85.1 783.1L88.2 783.5L91.3 783.9L94.4 784.1L97.6 784.2L100.6 784.2L103.8 784.2L107.9 784.6L111.8 785.0L114.1 785.5L116.3 785.8L119.0 785.4L122.1 784.8L125.5 784.4L129.1 784.3L132.7 784.6L136.0 785.4L138.4 787.6L140.5 790.0L142.7 791.7L144.8 792.4L147.0 791.1L149.1 788.7L151.4 785.7L153.6 782.6L156.0 780.6L158.5 778.9L161.5 777.3L164.4 776.9L166.3 777.7L167.8 779.0L168.7 780.1L169.9 782.1L172.7 786.7L175.8 791.4L178.2 794.6L181.0 797.4L184.9 800.8L190.7 802.8L199.8 800.5L210.4 797.3L221.0 796.7L231.9 796.3L244.0 793.8L254.4 792.0L259.4 794.6L262.7 796.8L267.3 794.1L272.4 790.3L278.3 788.6L284.5 787.4L290.4 786.5L296.3 785.0L302.4 781.5L308.4 778.3L314.7 778.1L319.5 778.8L319.5 780.2L314.7 779.6L308.4 779.8L302.4 782.9L296.3 786.5L290.4 787.9L284.5 788.9L278.3 790.1L272.4 791.8L267.3 795.5L262.7 798.3L259.4 796.0L254.4 793.5L244.0 795.3L231.9 797.8L221.0 798.2L210.4 798.8L199.8 802.4L190.7 805.3L184.9 803.0L181.0 799.2L178.2 796.3L175.8 793.1L172.7 789.0L169.9 785.6L168.7 784.3L167.8 783.8L166.3 783.5L164.4 783.6L161.5 784.0L158.5 784.0L156.0 784.1L153.6 785.1L151.4 787.8L149.1 791.0L147.0 793.5L144.8 795.0L142.7 794.2L140.5 792.1L138.4 789.5L136.0 787.1L132.7 786.1L129.1 785.8L125.5 785.9L122.1 786.2L119.0 786.8L116.3 787.2L114.1 787.0L111.8 786.5L107.9 786.0L103.8 785.6L100.6 785.6L97.6 785.7L94.4 785.6L91.3 785.3L88.2 784.9L85.1 784.5L82.0 784.2L78.9 783.8L75.7 783.4L72.6 782.9L69.5 782.7L66.4 782.6L63.3 782.7L60.2 782.8L57.0 782.4L53.9 782.0L50.7 781.6L47.7 781.1L44.7 780.7L42.5 780.5Z" fill="rgba(255,255,140,0.55)"/>
<path d="M42.5 779.6L44.7 779.6L47.7 779.6L50.7 779.4L53.9 779.3L57.0 779.5L60.2 779.9L63.3 780.3L66.4 780.7L69.5 781.2L72.6 781.5L75.7 781.2L78.9 780.9L82.0 780.8L85.1 781.0L88.2 781.3L91.3 781.7L94.4 781.8L97.6 781.9L100.6 782.2L103.8 782.5L107.9 782.3L111.8 782.0L114.1 781.8L116.3 781.5L119.0 781.1L122.1 780.6L125.5 779.6L129.1 779.2L132.7 780.2L136.0 782.2L138.4 785.1L140.5 788.2L142.7 791.1L144.8 792.7L147.0 791.2L149.1 788.2L151.2 784.8L153.3 780.9L155.8 776.5L158.5 772.1L161.5 768.6L164.4 767.3L166.3 768.2L167.8 769.9L168.8 770.8L169.9 772.8L172.5 778.1L175.5 783.7L178.0 788.2L181.0 792.1L185.0 795.7L190.7 797.4L199.8 794.4L210.4 790.9L221.0 792.3L231.9 793.3L244.0 788.1L254.4 783.2L259.4 785.7L262.7 789.3L267.3 789.5L272.4 788.5L278.3 787.0L284.5 784.9L290.4 782.2L296.3 779.9L302.4 779.8L308.4 779.9L314.7 778.3L319.5 776.8L319.5 778.9L314.7 780.5L308.4 782.0L302.4 781.9L296.3 782.0L290.4 784.3L284.5 787.1L278.3 789.2L272.4 790.7L267.3 791.7L262.7 791.4L259.4 787.8L254.4 785.4L244.0 790.2L231.9 795.5L221.0 794.5L210.4 793.1L199.8 797.3L190.7 801.1L185.0 798.9L181.0 794.8L178.0 790.8L175.5 786.4L172.5 781.6L169.9 778.0L168.8 777.1L167.8 777.1L166.3 776.9L164.4 777.3L161.5 778.6L158.5 779.7L155.8 781.6L153.3 784.4L151.2 788.0L149.1 791.5L147.0 794.9L144.8 796.6L142.7 794.8L140.5 791.5L138.4 787.9L136.0 784.6L132.7 782.4L129.1 781.3L125.5 781.8L122.1 782.8L119.0 783.3L116.3 783.7L114.1 784.0L111.8 784.2L107.9 784.5L103.8 784.6L100.6 784.4L97.6 784.1L94.4 784.0L91.3 783.9L88.2 783.5L85.1 783.2L82.0 783.0L78.9 783.0L75.7 783.4L72.6 783.7L69.5 783.4L66.4 782.9L63.3 782.5L60.2 782.1L57.0 781.7L53.9 781.4L50.7 781.5L47.7 781.7L44.7 781.8L42.5 781.8Z" fill="rgba(150,150,255,0.4)"/>
<path d="M42.5 779.0L44.7 779.3L47.7 779.5L50.7 779.9L53.9 780.2L57.0 780.0L60.2 779.8L63.3 780.0L66.4 780.2L69.5 780.2L72.6 780.3L75.7 780.6L78.9 780.8L82.0 780.5L85.1 780.2L88.2 780.4L91.3 780.9L94.4 781.6L97.6 782.2L100.6 782.4L103.8 782.3L107.9 782.3L111.8 782.2L114.1 781.9L116.3 781.7L119.0 781.6L122.1 781.4L125.5 780.9L129.1 780.7L132.7 781.2L136.0 782.5L138.4 785.7L140.5 789.2L142.7 792.1L144.8 793.7L147.0 792.2L149.1 789.2L151.2 785.2L153.3 780.7L155.8 776.5L158.5 772.4L161.5 769.0L164.4 767.9L166.3 769.1L167.8 771.0L168.8 772.1L169.9 774.2L172.1 779.2L174.8 784.7L177.6 789.9L181.0 794.3L185.0 798.0L190.7 799.6L199.8 797.0L210.4 793.9L221.0 794.9L231.9 795.6L244.0 791.5L254.4 787.7L259.4 789.2L262.7 791.5L267.3 791.1L272.4 789.9L278.3 788.5L284.5 787.0L290.4 784.9L296.3 783.1L302.4 782.5L308.4 782.2L314.7 781.1L319.5 780.2L319.5 782.6L314.7 783.5L308.4 784.6L302.4 784.9L296.3 785.5L290.4 787.3L284.5 789.4L278.3 790.9L272.4 792.3L267.3 793.5L262.7 793.9L259.4 791.6L254.4 790.1L244.0 793.9L231.9 798.0L221.0 797.3L210.4 796.4L199.8 800.3L190.7 803.7L185.0 801.5L181.0 797.4L177.6 792.7L174.8 787.8L172.1 783.3L169.9 780.0L168.8 779.0L167.8 779.0L166.3 778.7L164.4 779.1L161.5 780.2L158.5 780.8L155.8 782.1L153.3 784.6L151.2 788.7L149.1 792.9L147.0 796.3L144.8 798.0L142.7 796.3L140.5 792.9L138.4 788.8L136.0 785.2L132.7 783.6L129.1 783.1L125.5 783.3L122.1 783.8L119.0 784.0L116.3 784.1L114.1 784.3L111.8 784.6L107.9 784.7L103.8 784.7L100.6 784.8L97.6 784.6L94.4 784.0L91.3 783.3L88.2 782.8L85.1 782.6L82.0 782.9L78.9 783.2L75.7 783.0L72.6 782.7L69.5 782.6L66.4 782.6L63.3 782.4L60.2 782.2L57.0 782.4L53.9 782.6L50.7 782.3L47.7 782.0L44.7 781.7L42.5 781.4Z" fill="rgba(255,140,140,0.45)"/>
<path d="M42.5 780.2L43.4 780.3L44.7 780.5L46.2 780.6L47.7 780.7L49.2 780.9L50.7 781.1L52.3 781.3L53.9 781.4L55.5 781.4L57.0 781.2L58.6 781.1L60.2 781.0L61.7 781.1L63.3 781.2L64.8 781.3L66.4 781.4L67.9 781.4L69.5 781.4L71.1 781.5L72.6 781.5L74.2 781.6L75.7 781.8L77.3 781.9L78.9 782.0L80.4 781.9L82.0 781.7L83.5 781.5L85.1 781.4L86.6 781.5L88.2 781.6L89.8 781.8L91.3 782.1L92.9 782.4L94.4 782.8L96.0 783.2L97.6 783.4L99.1 783.5L100.6 783.6L102.1 783.6L103.8 783.5L105.7 783.5L107.9 783.5L110.0 783.4L111.8 783.4L113.1 783.3L114.1 783.1L115.1 783.0L116.3 782.9L117.6 782.8L119.0 782.8L120.6 782.7L122.1 782.6L123.8 782.4L125.5 782.1L127.3 781.9L129.1 781.9L130.9 782.1L132.7 782.4L134.4 782.9L136.0 783.8L137.3 785.3L138.4 787.3L139.4 789.3L140.5 791.1L141.6 792.6L142.7 794.2L143.7 795.4L144.8 795.9L145.9 795.4L147.0 794.3L148.1 792.7L149.1 791.1L150.2 789.1L151.2 786.9L152.2 784.7L153.3 782.6L154.5 780.9L155.8 779.3L157.1 777.9L158.5 776.6L160.0 775.5L161.5 774.6L163.1 773.9L164.4 773.5L165.4 773.5L166.3 773.9L167.1 774.4L167.8 775.0L168.4 775.3L168.8 775.6L169.2 776.1L169.9 777.1L170.9 778.9L172.1 781.2L173.4 783.8L174.8 786.2L176.1 788.7L177.6 791.3L179.2 793.7L181.0 795.9L182.9 797.9L185.0 799.7L187.5 801.1L190.7 801.6L194.9 800.7L199.8 798.6L205.1 796.5L210.4 795.1L215.7 795.2L221.0 796.1L226.4 796.9L231.9 796.8L237.8 795.2L244.0 792.7L249.8 790.3L254.4 788.9L257.4 789.2L259.4 790.4L260.9 791.9L262.7 792.7L265.0 792.7L267.3 792.3L269.8 791.7L272.4 791.1L275.3 790.4L278.3 789.7L281.5 789.0L284.5 788.2L287.5 787.2L290.4 786.1L293.3 785.1L296.3 784.3L299.3 783.9L302.4 783.7L305.5 783.6L308.4 783.4L311.5 782.9L314.7 782.3L317.5 781.8L319.5 781.4" fill="none" stroke="#e60000" stroke-width="1.85" stroke-linejoin="round"/>
<path d="M42.5 780.7L43.4 780.7L44.7 780.7L46.2 780.7L47.7 780.6L49.2 780.6L50.7 780.4L52.3 780.3L53.9 780.3L55.5 780.4L57.0 780.6L58.6 780.8L60.2 781.0L61.7 781.2L63.3 781.4L64.8 781.6L66.4 781.8L67.9 782.0L69.5 782.3L71.1 782.5L72.6 782.6L74.2 782.5L75.7 782.3L77.3 782.1L78.9 781.9L80.4 781.9L82.0 781.9L83.5 782.0L85.1 782.1L86.6 782.2L88.2 782.4L89.8 782.6L91.3 782.8L92.9 782.9L94.4 782.9L96.0 782.9L97.6 783.0L99.1 783.1L100.6 783.3L102.1 783.5L103.8 783.6L105.7 783.5L107.9 783.4L110.0 783.3L111.8 783.1L113.1 783.0L114.1 782.9L115.1 782.8L116.3 782.6L117.6 782.4L119.0 782.2L120.6 782.0L122.1 781.7L123.8 781.3L125.5 780.7L127.3 780.3L129.1 780.2L130.9 780.6L132.7 781.3L134.4 782.2L136.0 783.4L137.3 784.8L138.4 786.5L139.4 788.3L140.5 789.9L141.6 791.4L142.7 793.0L143.7 794.2L144.8 794.7L145.9 794.2L147.0 793.0L148.1 791.4L149.1 789.9L150.2 788.2L151.2 786.4L152.2 784.5L153.3 782.6L154.5 780.9L155.8 779.1L157.1 777.4L158.5 775.9L160.0 774.7L161.5 773.6L163.1 772.8L164.4 772.3L165.4 772.3L166.3 772.6L167.1 773.0L167.8 773.5L168.4 773.8L168.8 773.9L169.2 774.4L169.9 775.4L171.1 777.3L172.5 779.8L174.0 782.5L175.5 785.0L176.7 787.3L178.0 789.5L179.3 791.6L181.0 793.5L182.9 795.4L185.0 797.3L187.5 798.8L190.7 799.2L194.9 798.1L199.8 795.8L205.1 793.4L210.4 792.0L215.7 792.2L221.0 793.4L226.4 794.5L231.9 794.4L237.8 792.4L244.0 789.1L249.8 786.0L254.4 784.3L257.4 784.9L259.4 786.7L260.9 788.9L262.7 790.3L265.0 790.7L267.3 790.6L269.8 790.2L272.4 789.6L275.3 788.9L278.3 788.1L281.5 787.1L284.5 786.0L287.5 784.7L290.4 783.3L293.3 781.9L296.3 781.0L299.3 780.7L302.4 780.8L305.5 781.1L308.4 781.0L311.5 780.3L314.7 779.4L317.5 778.5L319.5 777.8" fill="none" stroke="#0000e6" stroke-width="1.85" stroke-linejoin="round"/>
<path d="M42.5 779.8L43.4 779.9L44.7 780.0L46.2 780.2L47.7 780.4L49.2 780.6L50.7 780.8L52.3 781.1L53.9 781.3L55.5 781.5L57.0 781.7L58.6 781.9L60.2 782.0L61.7 782.1L63.3 782.0L64.8 781.9L66.4 781.9L67.9 781.9L69.5 782.0L71.1 782.1L72.6 782.2L74.2 782.4L75.7 782.6L77.3 782.9L78.9 783.1L80.4 783.3L82.0 783.4L83.5 783.6L85.1 783.8L86.6 784.0L88.2 784.2L89.8 784.4L91.3 784.6L92.9 784.7L94.4 784.8L96.0 784.9L97.6 785.0L99.1 785.0L100.6 784.9L102.1 784.9L103.8 784.9L105.7 785.1L107.9 785.3L110.0 785.5L111.8 785.8L113.1 786.0L114.1 786.2L115.1 786.4L116.3 786.5L117.6 786.4L119.0 786.1L120.6 785.8L122.1 785.5L123.8 785.3L125.5 785.2L127.3 785.0L129.1 785.0L130.9 785.1L132.7 785.3L134.4 785.7L136.0 786.2L137.3 787.2L138.4 788.6L139.4 789.9L140.5 791.1L141.6 792.0L142.7 792.9L143.7 793.5L144.8 793.7L145.9 793.2L147.0 792.3L148.1 791.1L149.1 789.9L150.3 788.4L151.4 786.8L152.5 785.1L153.6 783.8L154.8 783.0L156.0 782.3L157.2 781.9L158.5 781.4L159.9 781.0L161.5 780.6L163.1 780.3L164.4 780.2L165.4 780.3L166.3 780.6L167.1 781.0L167.8 781.4L168.4 781.8L168.7 782.2L169.2 782.8L169.9 783.8L171.1 785.6L172.7 787.8L174.3 790.2L175.8 792.3L177.0 793.9L178.2 795.4L179.4 796.8L181.0 798.3L182.9 800.0L184.9 801.9L187.5 803.4L190.7 804.0L194.9 803.2L199.8 801.4L205.1 799.4L210.4 798.0L215.7 797.5L221.0 797.4L226.4 797.4L231.9 797.1L237.8 796.0L244.0 794.5L249.8 793.3L254.4 792.7L257.4 793.6L259.4 795.3L260.9 796.9L262.7 797.5L265.0 796.6L267.3 794.8L269.8 792.7L272.4 791.1L275.3 790.1L278.3 789.4L281.5 788.8L284.5 788.2L287.5 787.6L290.4 787.2L293.3 786.7L296.3 785.8L299.3 784.2L302.4 782.2L305.5 780.3L308.4 779.0L311.5 778.7L314.7 778.9L317.5 779.3L319.5 779.5" fill="none" stroke="#ffff00" stroke-width="1.85" stroke-linejoin="round"/>
<path d="M42.5,746.6 V830.7 H319.5" fill="none" stroke="#8a8a8a" stroke-width="1"/>
<line x1="42.5" y1="746.6" x2="45" y2="746.6" stroke="#8a8a8a" stroke-width="1"/>
<text x="39.5" y="750" font-size="10" text-anchor="end" fill="#111">-15</text>
<line x1="42.5" y1="758.61" x2="45" y2="758.61" stroke="#8a8a8a" stroke-width="1"/>
<text x="39.5" y="762.01" font-size="10" text-anchor="end" fill="#111">-10</text>
<line x1="42.5" y1="770.63" x2="45" y2="770.63" stroke="#8a8a8a" stroke-width="1"/>
<text x="39.5" y="774.03" font-size="10" text-anchor="end" fill="#111">-5</text>
<line x1="42.5" y1="782.64" x2="45" y2="782.64" stroke="#8a8a8a" stroke-width="1"/>
<text x="39.5" y="786.04" font-size="10" text-anchor="end" fill="#111">0</text>
<line x1="42.5" y1="794.66" x2="45" y2="794.66" stroke="#8a8a8a" stroke-width="1"/>
<text x="39.5" y="798.06" font-size="10" text-anchor="end" fill="#111">5</text>
<line x1="42.5" y1="806.67" x2="45" y2="806.67" stroke="#8a8a8a" stroke-width="1"/>
<text x="39.5" y="810.07" font-size="10" text-anchor="end" fill="#111">10</text>
<line x1="42.5" y1="818.69" x2="45" y2="818.69" stroke="#8a8a8a" stroke-width="1"/>
<text x="39.5" y="822.09" font-size="10" text-anchor="end" fill="#111">15</text>
<line x1="42.5" y1="830.7" x2="45" y2="830.7" stroke="#8a8a8a" stroke-width="1"/>
<text x="39.5" y="834.1" font-size="10" text-anchor="end" fill="#111">20</text>
<line x1="42.5" y1="830.7" x2="42.5" y2="828.2" stroke="#8a8a8a" stroke-width="1"/>
<text x="40.7" y="841.7" font-size="10.2" text-anchor="middle" fill="#111">-200</text>
<line x1="77.12" y1="830.7" x2="77.12" y2="828.2" stroke="#8a8a8a" stroke-width="1"/>
<text x="75.33" y="841.7" font-size="10.2" text-anchor="middle" fill="#111">-100</text>
<line x1="111.75" y1="830.7" x2="111.75" y2="828.2" stroke="#8a8a8a" stroke-width="1"/>
<text x="111.35" y="841.7" font-size="10.2" text-anchor="middle" fill="#111">0</text>
<line x1="146.38" y1="830.7" x2="146.38" y2="828.2" stroke="#8a8a8a" stroke-width="1"/>
<text x="145.97" y="841.7" font-size="10.2" text-anchor="middle" fill="#111">100</text>
<line x1="181" y1="830.7" x2="181" y2="828.2" stroke="#8a8a8a" stroke-width="1"/>
<text x="180.6" y="841.7" font-size="10.2" text-anchor="middle" fill="#111">200</text>
<line x1="215.62" y1="830.7" x2="215.62" y2="828.2" stroke="#8a8a8a" stroke-width="1"/>
<text x="215.22" y="841.7" font-size="10.2" text-anchor="middle" fill="#111">300</text>
<line x1="250.25" y1="830.7" x2="250.25" y2="828.2" stroke="#8a8a8a" stroke-width="1"/>
<text x="249.85" y="841.7" font-size="10.2" text-anchor="middle" fill="#111">400</text>
<line x1="284.88" y1="830.7" x2="284.88" y2="828.2" stroke="#8a8a8a" stroke-width="1"/>
<text x="284.48" y="841.7" font-size="10.2" text-anchor="middle" fill="#111">500</text>
<line x1="319.5" y1="830.7" x2="319.5" y2="828.2" stroke="#8a8a8a" stroke-width="1"/>
<text x="319.1" y="841.7" font-size="10.2" text-anchor="middle" fill="#111">600</text>
<text x="55.1" y="756.3" font-size="12.1" fill="#111">PO7</text>
<line x1="43" y1="887.57" x2="320" y2="887.57" stroke="#a0a0a0" stroke-width="1"/>
<line x1="112.25" y1="852" x2="112.25" y2="935" stroke="#b0b0b0" stroke-width="0.8" stroke-dasharray="1,1.6"/>
<path d="M43.0 884.0L45.2 884.1L48.2 884.1L51.2 884.2L54.4 884.4L57.5 885.1L60.7 885.8L63.8 885.5L66.9 885.2L70.0 885.8L73.1 886.7L76.2 887.2L79.4 887.5L82.5 887.6L85.6 887.6L88.7 887.4L91.8 887.3L94.9 887.9L98.1 888.5L101.1 888.6L104.3 888.6L108.4 888.9L112.2 889.2L114.6 889.7L116.8 890.0L119.5 889.7L122.6 889.2L126.0 889.1L129.6 889.2L133.2 889.5L136.5 890.3L138.7 892.5L140.6 894.8L142.7 896.5L144.8 897.2L146.8 895.9L149.0 893.5L151.3 890.6L153.8 887.6L156.4 885.7L159.0 883.9L161.7 881.7L164.2 880.6L166.1 881.2L167.7 882.6L168.9 884.0L170.4 886.6L173.2 892.0L176.3 897.4L178.7 900.7L181.5 903.3L184.9 906.4L190.5 908.0L200.9 905.4L213.4 902.3L226.2 903.0L238.3 903.5L248.0 899.3L255.6 895.6L259.7 897.7L263.2 900.4L269.0 899.3L275.3 897.1L281.6 894.6L287.5 892.3L292.1 891.1L296.8 889.7L302.8 886.6L308.9 883.8L315.2 883.4L320.0 883.8L320.0 885.2L315.2 884.8L308.9 885.2L302.8 888.0L296.8 891.1L292.1 892.5L287.5 893.7L281.6 896.1L275.3 898.5L269.0 900.7L263.2 901.8L259.7 899.1L255.6 897.1L248.0 900.7L238.3 904.9L226.2 904.4L213.4 903.7L200.9 907.3L190.5 910.4L184.9 908.4L181.5 905.1L178.7 902.4L176.3 899.1L173.2 894.2L170.4 890.0L168.9 888.4L167.7 887.8L166.1 887.3L164.2 887.4L161.7 888.2L159.0 888.9L156.4 889.0L153.8 889.9L151.3 892.7L149.0 895.8L146.8 898.4L144.8 899.8L142.7 898.9L140.6 896.9L138.7 894.3L136.5 891.9L133.2 891.0L129.6 890.7L126.0 890.5L122.6 890.7L119.5 891.1L116.8 891.4L114.6 891.1L112.2 890.7L108.4 890.3L104.3 890.1L101.1 890.0L98.1 889.9L94.9 889.3L91.8 888.8L88.7 888.8L85.6 889.0L82.5 889.0L79.4 888.9L76.2 888.6L73.1 888.1L70.0 887.3L66.9 886.6L63.8 886.9L60.7 887.3L57.5 886.6L54.4 885.8L51.2 885.6L48.2 885.6L45.2 885.5L43.0 885.4Z" fill="rgba(255,255,140,0.55)"/>
<path d="M43.0 884.6L45.2 884.8L48.2 885.1L51.2 885.2L54.4 885.2L57.5 884.9L60.7 884.7L63.8 885.3L66.9 885.8L70.0 885.5L73.1 885.2L76.2 885.3L79.4 885.4L82.5 885.4L85.6 885.4L88.7 886.1L91.8 886.7L94.9 886.4L98.1 886.2L101.1 886.9L104.3 887.5L108.4 887.3L112.2 887.0L114.6 887.1L116.8 887.1L119.5 886.5L122.6 885.8L126.0 885.1L129.6 884.8L133.2 885.5L136.5 887.1L138.7 890.6L140.6 894.3L142.7 897.3L144.8 898.9L146.9 897.3L149.0 894.2L151.0 890.4L153.1 885.9L155.6 881.0L158.3 875.9L161.4 871.2L164.2 868.7L166.1 869.4L167.7 871.3L168.9 872.7L170.4 875.3L173.0 881.2L176.0 887.5L178.5 891.9L181.5 895.7L184.9 899.7L190.5 901.7L200.9 898.4L213.4 894.8L226.2 897.2L238.3 899.1L248.0 893.1L255.6 887.2L259.7 889.4L263.2 892.9L269.0 893.1L275.3 892.2L281.6 890.8L287.5 888.9L292.1 886.4L296.8 884.1L302.8 883.2L308.9 882.7L315.2 882.1L320.0 881.8L320.0 883.9L315.2 884.3L308.9 884.8L302.8 885.3L296.8 886.3L292.1 888.5L287.5 891.0L281.6 892.9L275.3 894.3L269.0 895.2L263.2 895.0L259.7 891.5L255.6 889.4L248.0 895.2L238.3 901.2L226.2 899.3L213.4 896.9L200.9 901.2L190.5 905.3L184.9 902.8L181.5 898.4L178.5 894.4L176.0 890.1L173.0 884.7L170.4 880.4L168.9 879.2L167.7 879.1L166.1 878.6L164.2 878.9L161.4 880.7L158.3 882.7L155.6 885.5L153.1 889.2L151.0 893.5L149.0 897.6L146.9 901.1L144.8 902.8L142.7 900.9L140.6 897.4L138.7 893.3L136.5 889.5L133.2 887.7L129.6 887.0L126.0 887.2L122.6 887.9L119.5 888.6L116.8 889.2L114.6 889.2L112.2 889.1L108.4 889.4L104.3 889.6L101.1 889.0L98.1 888.4L94.9 888.6L91.8 888.8L88.7 888.2L85.6 887.6L82.5 887.5L79.4 887.6L76.2 887.4L73.1 887.3L70.0 887.7L66.9 887.9L63.8 887.4L60.7 886.8L57.5 887.0L54.4 887.3L51.2 887.3L48.2 887.2L45.2 887.0L43.0 886.7Z" fill="rgba(150,150,255,0.4)"/>
<path d="M43.0 884.0L45.2 884.3L48.2 884.6L51.2 884.9L54.4 885.2L57.5 885.3L60.7 885.3L63.8 885.1L66.9 885.0L70.0 885.0L73.1 885.2L76.2 885.7L79.4 886.2L82.5 886.6L85.6 886.7L88.7 886.1L91.8 885.5L94.9 885.8L98.1 886.4L101.1 886.7L104.3 887.0L108.4 887.1L112.2 887.1L114.6 887.2L116.8 887.2L119.5 886.9L122.6 886.4L126.0 885.9L129.6 885.7L133.2 886.0L136.5 887.4L138.7 891.1L140.6 895.3L142.7 898.9L144.8 900.9L146.9 898.9L149.0 895.2L151.1 890.6L153.5 885.7L156.0 881.0L158.6 876.5L161.5 872.7L164.2 871.0L166.1 871.8L167.7 873.8L168.9 875.5L170.4 878.3L172.6 883.8L175.3 889.6L178.1 894.1L181.5 897.9L185.0 901.9L190.5 903.8L200.9 900.9L213.4 897.5L226.2 899.6L238.3 901.3L248.0 896.2L255.6 891.1L259.7 893.0L263.2 895.9L269.0 895.5L275.3 894.2L281.6 893.1L287.5 891.8L292.1 890.3L296.8 888.8L302.8 887.8L308.9 887.1L315.2 886.6L320.0 886.4L320.0 888.8L315.2 889.0L308.9 889.5L302.8 890.2L296.8 891.1L292.1 892.6L287.5 894.2L281.6 895.5L275.3 896.6L269.0 897.9L263.2 898.2L259.7 895.3L255.6 893.5L248.0 898.5L238.3 903.7L226.2 902.0L213.4 899.9L200.9 904.0L190.5 907.8L185.0 905.3L181.5 900.9L178.1 896.9L175.3 892.6L172.6 887.8L170.4 884.0L168.9 882.7L167.7 882.4L166.1 882.0L164.2 882.3L161.5 883.4L158.6 884.4L156.0 886.3L153.5 889.5L151.1 894.1L149.0 899.0L146.9 903.1L144.8 905.1L142.7 902.9L140.6 898.8L138.7 894.2L136.5 890.1L133.2 888.5L129.6 888.0L126.0 888.2L122.6 888.8L119.5 889.2L116.8 889.6L114.6 889.6L112.2 889.5L108.4 889.5L104.3 889.4L101.1 889.1L98.1 888.7L94.9 888.2L91.8 887.9L88.7 888.4L85.6 889.0L82.5 888.9L79.4 888.6L76.2 888.1L73.1 887.6L70.0 887.4L66.9 887.4L63.8 887.5L60.7 887.7L57.5 887.7L54.4 887.6L51.2 887.3L48.2 886.9L45.2 886.6L43.0 886.4Z" fill="rgba(255,140,140,0.45)"/>
<path d="M43.0 885.2L43.9 885.3L45.2 885.4L46.7 885.6L48.2 885.8L49.7 885.9L51.2 886.1L52.8 886.3L54.4 886.4L56.0 886.5L57.5 886.5L59.1 886.5L60.7 886.5L62.2 886.4L63.8 886.3L65.3 886.2L66.9 886.2L68.4 886.2L70.0 886.2L71.6 886.3L73.1 886.4L74.7 886.6L76.2 886.9L77.8 887.2L79.4 887.4L80.9 887.6L82.5 887.8L84.0 887.9L85.6 887.9L87.1 887.6L88.7 887.2L90.3 886.9L91.8 886.7L93.4 886.8L94.9 887.0L96.5 887.3L98.1 887.5L99.6 887.7L101.1 887.9L102.6 888.1L104.3 888.2L106.2 888.3L108.4 888.3L110.5 888.3L112.2 888.3L113.6 888.3L114.6 888.4L115.6 888.4L116.8 888.4L118.1 888.3L119.5 888.0L121.1 887.8L122.6 887.6L124.3 887.3L126.0 887.0L127.8 886.9L129.6 886.9L131.4 887.0L133.2 887.2L135.0 887.8L136.5 888.8L137.7 890.4L138.7 892.7L139.7 895.0L140.6 897.1L141.7 899.0L142.7 900.9L143.8 902.4L144.8 903.0L145.8 902.4L146.9 901.0L147.9 899.1L149.0 897.1L150.0 894.9L151.1 892.4L152.3 889.9L153.5 887.6L154.7 885.5L156.0 883.7L157.3 881.9L158.6 880.5L160.1 879.2L161.5 878.0L162.9 877.2L164.2 876.7L165.2 876.6L166.1 876.9L166.9 877.5L167.7 878.1L168.3 878.6L168.9 879.1L169.6 879.9L170.4 881.2L171.5 883.2L172.6 885.8L173.9 888.6L175.3 891.1L176.7 893.4L178.1 895.5L179.7 897.5L181.5 899.4L183.2 901.5L185.0 903.6L187.2 905.2L190.5 905.8L195.2 904.7L200.9 902.4L207.2 900.0L213.4 898.7L219.6 899.2L226.2 900.8L232.5 902.3L238.3 902.5L243.4 900.6L248.0 897.4L252.1 894.1L255.6 892.3L258.1 892.6L259.7 894.2L261.2 896.0L263.2 897.1L265.9 897.1L269.0 896.7L272.2 896.0L275.3 895.4L278.4 894.9L281.6 894.3L284.6 893.7L287.5 893.0L289.9 892.3L292.1 891.4L294.3 890.6L296.8 889.9L299.7 889.4L302.8 889.0L305.9 888.6L308.9 888.3L312.0 888.0L315.2 887.8L318.0 887.7L320.0 887.6" fill="none" stroke="#e60000" stroke-width="1.85" stroke-linejoin="round"/>
<path d="M43.0 885.7L43.9 885.8L45.2 885.9L46.7 886.0L48.2 886.1L49.7 886.2L51.2 886.2L52.8 886.3L54.4 886.2L56.0 886.1L57.5 886.0L59.1 885.8L60.7 885.8L62.2 886.0L63.8 886.3L65.3 886.7L66.9 886.9L68.4 886.8L70.0 886.6L71.6 886.4L73.1 886.2L74.7 886.3L76.2 886.3L77.8 886.4L79.4 886.5L80.9 886.5L82.5 886.4L84.0 886.4L85.6 886.5L87.1 886.8L88.7 887.1L90.3 887.5L91.8 887.7L93.4 887.7L94.9 887.5L96.5 887.3L98.1 887.3L99.6 887.5L101.1 887.9L102.6 888.3L104.3 888.6L106.2 888.6L108.4 888.4L110.5 888.2L112.2 888.0L113.6 888.1L114.6 888.1L115.6 888.2L116.8 888.1L118.1 887.9L119.5 887.6L121.1 887.2L122.6 886.9L124.3 886.5L126.0 886.2L127.8 885.9L129.6 885.9L131.4 886.1L133.2 886.6L135.0 887.2L136.5 888.3L137.7 889.9L138.7 891.9L139.7 894.0L140.6 895.9L141.7 897.5L142.7 899.1L143.8 900.4L144.8 900.9L145.8 900.4L146.9 899.2L147.9 897.6L149.0 895.9L150.0 894.0L151.0 891.9L152.0 889.7L153.1 887.6L154.3 885.4L155.6 883.2L156.9 881.1L158.3 879.3L159.8 877.5L161.4 875.9L162.9 874.6L164.2 873.8L165.2 873.7L166.1 874.0L166.9 874.6L167.7 875.2L168.3 875.6L168.9 876.0L169.5 876.6L170.4 877.8L171.6 880.1L173.0 882.9L174.5 886.0L176.0 888.8L177.3 891.1L178.5 893.2L179.9 895.2L181.5 897.1L183.2 899.1L184.9 901.3L187.2 902.9L190.5 903.5L195.2 902.3L200.9 899.8L207.2 897.3L213.4 895.9L219.6 896.5L226.2 898.3L232.5 899.9L238.3 900.1L243.4 897.9L248.0 894.1L252.1 890.4L255.6 888.3L258.1 888.6L259.7 890.4L261.2 892.6L263.2 894.0L265.9 894.3L269.0 894.2L272.2 893.8L275.3 893.3L278.4 892.6L281.6 891.9L284.6 890.9L287.5 889.9L289.9 888.8L292.1 887.5L294.3 886.2L296.8 885.2L299.7 884.6L302.8 884.3L305.9 884.0L308.9 883.8L312.0 883.5L315.2 883.2L318.0 883.0L320.0 882.8" fill="none" stroke="#0000e6" stroke-width="1.85" stroke-linejoin="round"/>
<path d="M43.0 884.7L43.9 884.7L45.2 884.8L46.7 884.8L48.2 884.8L49.7 884.9L51.2 884.9L52.8 884.9L54.4 885.1L56.0 885.4L57.5 885.9L59.1 886.3L60.7 886.5L62.2 886.5L63.8 886.2L65.3 885.9L66.9 885.9L68.4 886.1L70.0 886.6L71.6 887.0L73.1 887.4L74.7 887.7L76.2 887.9L77.8 888.1L79.4 888.2L80.9 888.3L82.5 888.3L84.0 888.3L85.6 888.3L87.1 888.2L88.7 888.1L90.3 888.0L91.8 888.1L93.4 888.3L94.9 888.6L96.5 888.9L98.1 889.2L99.6 889.3L101.1 889.3L102.6 889.3L104.3 889.3L106.2 889.5L108.4 889.6L110.5 889.8L112.2 889.9L113.6 890.2L114.6 890.4L115.6 890.6L116.8 890.7L118.1 890.6L119.5 890.4L121.1 890.1L122.6 889.9L124.3 889.9L126.0 889.8L127.8 889.8L129.6 889.9L131.4 890.1L133.2 890.2L135.0 890.6L136.5 891.1L137.7 892.1L138.7 893.4L139.7 894.8L140.6 895.9L141.7 896.8L142.7 897.7L143.8 898.3L144.8 898.5L145.8 898.0L146.8 897.1L147.9 895.9L149.0 894.7L150.1 893.3L151.3 891.6L152.5 890.0L153.8 888.8L155.1 887.9L156.4 887.3L157.7 886.9L159.0 886.4L160.3 885.7L161.7 885.0L163.0 884.4L164.2 884.0L165.2 884.0L166.1 884.3L166.9 884.7L167.7 885.2L168.3 885.7L168.9 886.2L169.5 887.0L170.4 888.3L171.7 890.4L173.2 893.1L174.8 895.9L176.3 898.2L177.6 900.0L178.7 901.5L179.9 902.9L181.5 904.2L183.2 905.7L184.9 907.4L187.2 908.7L190.5 909.2L195.2 908.2L200.9 906.3L207.2 904.3L213.4 903.0L219.6 903.0L226.2 903.7L232.5 904.3L238.3 904.2L243.4 902.6L248.0 900.0L252.1 897.6L255.6 896.3L258.1 896.8L259.7 898.4L261.2 900.2L263.2 901.1L265.9 900.9L269.0 900.0L272.2 898.9L275.3 897.8L278.4 896.6L281.6 895.4L284.6 894.1L287.5 893.0L289.9 892.3L292.1 891.8L294.3 891.3L296.8 890.4L299.7 889.0L302.8 887.3L305.9 885.6L308.9 884.5L312.0 884.1L315.2 884.1L318.0 884.3L320.0 884.5" fill="none" stroke="#ffff00" stroke-width="1.85" stroke-linejoin="round"/>
<path d="M43,852 V935 H320" fill="none" stroke="#8a8a8a" stroke-width="1"/>
<line x1="43" y1="852" x2="45.5" y2="852" stroke="#8a8a8a" stroke-width="1"/>
<text x="40" y="855.4" font-size="10" text-anchor="end" fill="#111">-15</text>
<line x1="43" y1="863.86" x2="45.5" y2="863.86" stroke="#8a8a8a" stroke-width="1"/>
<text x="40" y="867.26" font-size="10" text-anchor="end" fill="#111">-10</text>
<line x1="43" y1="875.71" x2="45.5" y2="875.71" stroke="#8a8a8a" stroke-width="1"/>
<text x="40" y="879.11" font-size="10" text-anchor="end" fill="#111">-5</text>
<line x1="43" y1="887.57" x2="45.5" y2="887.57" stroke="#8a8a8a" stroke-width="1"/>
<text x="40" y="890.97" font-size="10" text-anchor="end" fill="#111">0</text>
<line x1="43" y1="899.43" x2="45.5" y2="899.43" stroke="#8a8a8a" stroke-width="1"/>
<text x="40" y="902.83" font-size="10" text-anchor="end" fill="#111">5</text>
<line x1="43" y1="911.29" x2="45.5" y2="911.29" stroke="#8a8a8a" stroke-width="1"/>
<text x="40" y="914.69" font-size="10" text-anchor="end" fill="#111">10</text>
<line x1="43" y1="923.14" x2="45.5" y2="923.14" stroke="#8a8a8a" stroke-width="1"/>
<text x="40" y="926.54" font-size="10" text-anchor="end" fill="#111">15</text>
<line x1="43" y1="935" x2="45.5" y2="935" stroke="#8a8a8a" stroke-width="1"/>
<text x="40" y="938.4" font-size="10" text-anchor="end" fill="#111">20</text>
<line x1="43" y1="935" x2="43" y2="932.5" stroke="#8a8a8a" stroke-width="1"/>
<text x="41.2" y="946" font-size="10.2" text-anchor="middle" fill="#111">-200</text>
<line x1="77.62" y1="935" x2="77.62" y2="932.5" stroke="#8a8a8a" stroke-width="1"/>
<text x="75.83" y="946" font-size="10.2" text-anchor="middle" fill="#111">-100</text>
<line x1="112.25" y1="935" x2="112.25" y2="932.5" stroke="#8a8a8a" stroke-width="1"/>
<text x="111.85" y="946" font-size="10.2" text-anchor="middle" fill="#111">0</text>
<line x1="146.88" y1="935" x2="146.88" y2="932.5" stroke="#8a8a8a" stroke-width="1"/>
<text x="146.47" y="946" font-size="10.2" text-anchor="middle" fill="#111">100</text>
<line x1="181.5" y1="935" x2="181.5" y2="932.5" stroke="#8a8a8a" stroke-width="1"/>
<text x="181.1" y="946" font-size="10.2" text-anchor="middle" fill="#111">200</text>
<line x1="216.12" y1="935" x2="216.12" y2="932.5" stroke="#8a8a8a" stroke-width="1"/>
<text x="215.72" y="946" font-size="10.2" text-anchor="middle" fill="#111">300</text>
<line x1="250.75" y1="935" x2="250.75" y2="932.5" stroke="#8a8a8a" stroke-width="1"/>
<text x="250.35" y="946" font-size="10.2" text-anchor="middle" fill="#111">400</text>
<line x1="285.38" y1="935" x2="285.38" y2="932.5" stroke="#8a8a8a" stroke-width="1"/>
<text x="284.98" y="946" font-size="10.2" text-anchor="middle" fill="#111">500</text>
<line x1="320" y1="935" x2="320" y2="932.5" stroke="#8a8a8a" stroke-width="1"/>
<text x="319.6" y="946" font-size="10.2" text-anchor="middle" fill="#111">600</text>
<text x="54.8" y="859.9" font-size="12.1" fill="#111">PO8</text>
<g transform="translate(428.4,85)">
<circle r="31.9" fill="none" stroke="#e6eef8" stroke-width="1.2"/>
<g clip-path="url(#hclip)"><g filter="url(#tblur)" fill="none" stroke-width="4.1">
<path stroke="#fdefef" d="M-12 -34h16M-12 -30h16M-24 -26h4M-12 -26h24M-20 -22h8M8 -22h8M-24 -18h8M12 -18h8M-24 -14h4M16 -14h4M-24 -10h4M16 -10h4M-20 -6h4M16 -6h4M-20 -2h4M8 2h4"/>
<path stroke="#fcdfdf" d="M4 -34h8M-20 -30h8M4 -30h16M-20 -26h8M12 -26h12M-28 -22h8M16 -22h12M-32 -18h8M20 -18h12M-32 -14h8M20 -14h12M-36 -10h12M20 -10h16M-28 -6h8M20 -6h8M16 -2h4M-16 2h4M-4 6h8"/>
<path stroke="#ffffff" d="M-12 -22h4M4 -22h4M-16 -18h4M-20 -14h4M12 -14h4M-20 -10h4M12 -6h4M-16 -2h4M12 -2h4M-12 2h4"/>
<path stroke="#efeffd" d="M-8 -22h12M-12 -18h4M8 -18h4M-16 -14h4M12 -10h4M-16 -6h4M-8 2h4M4 2h4"/>
<path stroke="#dfdffc" d="M-8 -18h4M0 -18h8M-12 -14h4M8 -14h4M-16 -10h4M8 -10h4M8 -6h4M-12 -2h4M8 -2h4M-4 2h8"/>
<path stroke="#cfcffa" d="M-4 -18h4M-8 -14h16M-12 -10h20M-12 -6h20M-8 -2h16"/>
<path stroke="#f9bfbf" d="M-36 -6h8M28 -6h8M-28 -2h4M-20 2h4M16 2h4M-12 6h4"/>
<path stroke="#f69f9f" d="M-36 -2h8M28 -2h8M-24 2h4M20 2h4M-16 6h4M12 6h4M-4 10h8"/>
<path stroke="#facfcf" d="M-24 -2h4M20 -2h4M12 2h4M-8 6h4M4 6h4"/>
<path stroke="#f7afaf" d="M24 -2h4M8 6h4"/>
<path stroke="#f28080" d="M-36 2h8M28 2h8M-28 6h4M20 6h8M-12 10h4"/>
<path stroke="#f48f8f" d="M-28 2h4M24 2h4M-24 6h8M16 6h4M-8 10h4M4 10h4"/>
<path stroke="#f17070" d="M-36 6h8M28 6h8M-24 10h12M8 10h16M-8 14h12"/>
<path stroke="#ef6060" d="M-36 10h12M24 10h12M-32 14h16M4 14h4M16 14h16M-32 18h4M-24 18h4M-8 18h16M16 18h8M-12 22h20"/>
<path stroke="#ee5050" d="M-16 14h8M8 14h8M-28 18h4M-20 18h12M8 18h8M24 18h8M-28 22h16M8 22h20M-24 26h48M-20 30h40M-12 34h24"/>
</g></g>
<path d="M0 3L5 2.2L9.2 0.5L11.1 -2L12.4 -5L13 -8L12.9 -11L12.2 -13.5L11.2 -15.5L9.6 -17.5L8 -18.8L5 -20.5L2 -21.6L-0.5 -22.1L-3 -22.1L-5.4 -21.5L-7.5 -20.5L-10 -18.7L-12.4 -16.5L-13.7 -15L-14.5 -13.5L-14.9 -12L-14.8 -10L-14.3 -7L-13.5 -4.4L-12.2 -2L-10.7 0L-9 1L-5.5 2.5L-3 3L0 3M2.7 5L6 4.2L9 3L11.7 1.5L15.3 -1L16.7 -4L17.7 -7.5L18.1 -11.5L17.9 -14L16.8 -17L15 -20L12.6 -22.5L10 -24.3L5.5 -26.4L1.5 -27.7L-2 -28L-5.5 -27.6L-9 -26.1L-13.5 -22.1L-18 -20.2L-19.6 -19L-21.2 -17L-22 -15L-21.6 -11.5L-19.8 -6.5L-17.5 -2L-14.1 0.5L-9.5 3.2L-5.5 4.8L-2 5.3L2.7 5M-24.6 -3L-11.5 4.3L-6 6.5L-3.5 7L-1 7.2L4.5 6.5L10.5 4.4L24.4 -3.5M-25.5 1.2L-16.7 5.5L-5.5 9.5L-1.5 10.2L3 9.6L16 5.5L26 0.8M-26 10.1L-22.5 11.6L-14 11.4L-10.5 11.9L-7.7 13.5L-4 17L-1.5 17.6L0 17.5L1.5 16.9L2.7 15.5L5.8 13L7.3 12L9 11.3L12.5 10.8L20 11.9L21.5 11.9L24 11" fill="none" stroke="#6a6a6a" stroke-width="0.55" opacity="0.85"/>
<path d="M-7 -21.8h1.1M-0.3 -21.8h1.1M6.5 -21.8h1.1M-7 -17.2h1.1M6.5 -17.2h1.1M-18.7 -12.2h1.1M-14.2 -12.2h1.1M-9.8 -12.2h1.1M-5.2 -12.2h1.1M-0.3 -12.2h1.1M4.2 -12.2h1.1M9.1 -12.2h1.1M13.6 -12.2h1.1M18.1 -12.2h1.1M-21.9 -7.5h1.1M-16.6 -7.5h1.1M-11.6 -7.5h1.1M-6 -7.5h1.1M-0.3 -7.5h1.1M4.5 -7.5h1.1M9.9 -7.5h1.1M15.4 -7.5h1.1M20.4 -7.5h1.1M-22.6 -1h1.1M-17.6 -1h1.1M-12.1 -1h1.1M-6.5 -1h1.1M-0.3 -1h1.1M5 -1h1.1M10.4 -1h1.1M15.9 -1h1.1M21.4 -1h1.1M-21.6 4.5h1.1M-16.6 4.5h1.1M-0.3 4.5h1.1M15.4 4.5h1.1M20.4 4.5h1.1M-11.6 6.5h1.1M-6.5 6.5h1.1M5 6.5h1.1M10.4 6.5h1.1M-20.6 10.3h1.1M-15.6 10.3h1.1M-10.6 10.3h1.1M-5.5 10.3h1.1M-0.3 10.3h1.1M5 10.3h1.1M9.9 10.3h1.1M14.9 10.3h1.1M19.4 10.3h1.1M-16.6 14.5h1.1M-12.6 14.5h1.1M-8.6 14.5h1.1M-4.5 14.5h1.1M4 14.5h1.1M8.4 14.5h1.1M12.4 14.5h1.1M16.4 14.5h1.1M-13.6 17.5h1.1M-9.6 17.5h1.1M-0.3 17.5h1.1M6 17.5h1.1M9.9 17.5h1.1M-7 21.2h1.1M-0.3 21.2h1.1M6 21.2h1.1" stroke="#1a1a1a" stroke-width="1.1" fill="none"/>
<circle r="31" fill="none" stroke="#2a2a2a" stroke-width="1.2"/>
<use href="#hfeat"/>
</g>
<g transform="translate(506.8,85.5)">
<circle r="31.9" fill="none" stroke="#e6eef8" stroke-width="1.2"/>
<g clip-path="url(#hclip)"><g filter="url(#tblur)" fill="none" stroke-width="4.1">
<path stroke="#fdefef" d="M-12 -34h24M-8 -30h28M-12 -26h4M8 -26h16M-16 -22h4M16 -22h12M-28 -18h8M16 -18h12M-24 -14h4M20 -14h4M-24 -10h4M20 -10h4M-24 -6h4M20 -6h4M-20 -2h4M16 -2h4M4 2h4"/>
<path stroke="#fcdfdf" d="M-20 -30h12M-24 -26h12M-28 -22h12M-32 -18h4M28 -18h4M-32 -14h8M24 -14h8M-36 -10h12M24 -10h12M-28 -6h4M24 -6h4M-12 2h4M8 2h4"/>
<path stroke="#ffffff" d="M-8 -26h16M12 -22h4M-20 -18h4M16 -14h4M16 -10h4M-20 -6h4M16 -6h4M-16 -2h4M12 -2h4M-8 2h12"/>
<path stroke="#efeffd" d="M-12 -22h4M8 -22h4M-16 -18h4M12 -18h4M-20 -14h4M-20 -10h4"/>
<path stroke="#dfdffc" d="M-8 -22h16M12 -14h4M-16 -6h4M12 -6h4M-12 -2h4M8 -2h4"/>
<path stroke="#cfcffa" d="M-12 -18h4M8 -18h4M-16 -14h4M-16 -10h4M12 -10h4M-12 -6h4M8 -6h4M-8 -2h16"/>
<path stroke="#bfbff9" d="M-8 -18h16M-12 -14h24M-12 -10h24M-8 -6h16"/>
<path stroke="#f7afaf" d="M-36 -6h8M32 -6h4M24 -2h4M16 2h4M-4 6h8"/>
<path stroke="#f9bfbf" d="M28 -6h4M-24 -2h4M-16 2h4M12 2h4"/>
<path stroke="#f28080" d="M-36 -2h8M28 -2h8M-24 2h4M24 2h4M-16 6h4M12 6h8"/>
<path stroke="#f69f9f" d="M-28 -2h4M-20 2h4M-8 6h4M4 6h4"/>
<path stroke="#facfcf" d="M20 -2h4"/>
<path stroke="#ef6060" d="M-36 2h8M28 2h8M-12 10h8M4 10h4"/>
<path stroke="#f17070" d="M-28 2h4M-24 6h8M20 6h4M-4 10h8"/>
<path stroke="#f48f8f" d="M20 2h4M-12 6h4M8 6h4"/>
<path stroke="#ee5050" d="M-36 6h12M24 6h12M-28 10h16M20 10h8M32 10h4"/>
<path stroke="#ec4040" d="M-36 10h8M8 10h12M28 10h4M-32 14h16M-4 14h8M20 14h12M-32 18h8M-4 18h8M20 18h12M-12 22h20M-12 26h20M0 30h4M0 34h4"/>
<path stroke="#eb3030" d="M-16 14h12M16 14h4M-24 18h20M4 18h4M16 18h4M-28 22h16M8 22h20M-24 26h12M8 26h16M-20 30h20M4 30h16M-12 34h12M4 34h8"/>
<path stroke="#e92020" d="M4 14h4"/>
<path stroke="#e00000" d="M8 14h4"/>
<path stroke="#e60000" d="M12 14h4"/>
<path stroke="#e81010" d="M8 18h8"/>
</g></g>
<path d="M-0.1 -2.5L7 -4.5L9.2 -5.5L10.5 -6.6L11.5 -7.9L12.6 -11L12.1 -13L11.4 -14.5L10.2 -16L8.6 -17.5L6 -19L4 -19.8L1.5 -20.5L-0.5 -20.6L-2.5 -20.4L-5 -19.7L-9.1 -17.5L-11 -15.9L-12.7 -14L-13.9 -12L-14.1 -11L-13.9 -9.5L-13 -7.9L-11.2 -6L-9 -4.4L-7 -3.3L-4.5 -2.5L-2.5 -2.3L-0.1 -2.5M0.7 1.5L4.3 1L7.5 0.1L10.1 -1L12.5 -2.6L14.3 -4.5L15.8 -7L16.5 -9.5L16.7 -12L16.2 -14L15 -16.4L13.5 -18.2L11.5 -20L8.5 -21.8L5 -23.3L2 -24.3L-0.5 -24.5L-3 -24L-7 -22.6L-10.1 -21L-13.1 -19L-15.3 -17L-17.2 -14.5L-18 -13L-18.2 -10.5L-17.6 -8L-16.4 -6L-14.1 -3.5L-11.5 -1.5L-8.6 0L-5.6 1L-2.2 1.5L0.7 1.5M-5 -29.8L-10 -25.5L-20.3 -18.5L-22.9 -15.5L-22.9 -12.5L-22.5 -9.5L-21.5 -7L-19.8 -4.5L-17.5 -2L-13.5 0.1L-9 1.8L-5 2.6L-0.5 3L4.5 2.6L9.5 1.6L14.5 -0.2L20.1 -3L20.6 -3.5L21.2 -5.5L22.7 -15L21.7 -17L20.2 -19.5L16.3 -23.5L12 -26.3L5 -30M-25 -4.5L-17.5 -0.2L-14 1.5L-10.5 2.8L-7 3.7L-0.5 4.4L4 4.1L8.5 3.3L12.5 2.2L17.5 0.4L23 -2.4M-27.5 -2.9L-19 1.8L-15 3.7L-7.5 5.8L0 6.6L4.5 6.2L11 5L14.5 4.1L20 2.3L24 0.2M-23.9 5.5L-21.5 6.7L-12 9L-3.5 10.5L0 10.8L3 10.4L10 8.3L18 7.7L21 7L25.5 4.9M13.5 20.1L12 20.3L10 20L8.5 19.5L7.1 18.5L6.2 17.5L5.5 16L5.5 14.5L5.8 13.5L8 11.8L10.5 10.9L13.5 10.8L15.8 11.5L16.7 12.5L17.5 14L17.7 15.5L17.6 16.5L17 17.7L16 18.9L13.5 20.1" fill="none" stroke="#6a6a6a" stroke-width="0.55" opacity="0.85"/>
<path d="M-7 -21.8h1.1M-0.3 -21.8h1.1M6.5 -21.8h1.1M-7 -17.2h1.1M6.5 -17.2h1.1M-18.7 -12.2h1.1M-14.2 -12.2h1.1M-9.8 -12.2h1.1M-5.2 -12.2h1.1M-0.3 -12.2h1.1M4.2 -12.2h1.1M9.1 -12.2h1.1M13.6 -12.2h1.1M18.1 -12.2h1.1M-21.9 -7.5h1.1M-16.6 -7.5h1.1M-11.6 -7.5h1.1M-6 -7.5h1.1M-0.3 -7.5h1.1M4.5 -7.5h1.1M9.9 -7.5h1.1M15.4 -7.5h1.1M20.4 -7.5h1.1M-22.6 -1h1.1M-17.6 -1h1.1M-12.1 -1h1.1M-6.5 -1h1.1M-0.3 -1h1.1M5 -1h1.1M10.4 -1h1.1M15.9 -1h1.1M21.4 -1h1.1M-21.6 4.5h1.1M-16.6 4.5h1.1M-0.3 4.5h1.1M15.4 4.5h1.1M20.4 4.5h1.1M-11.6 6.5h1.1M-6.5 6.5h1.1M5 6.5h1.1M10.4 6.5h1.1M-20.6 10.3h1.1M-15.6 10.3h1.1M-10.6 10.3h1.1M-5.5 10.3h1.1M-0.3 10.3h1.1M5 10.3h1.1M9.9 10.3h1.1M14.9 10.3h1.1M19.4 10.3h1.1M-16.6 14.5h1.1M-12.6 14.5h1.1M-8.6 14.5h1.1M-4.5 14.5h1.1M4 14.5h1.1M8.4 14.5h1.1M12.4 14.5h1.1M16.4 14.5h1.1M-13.6 17.5h1.1M-9.6 17.5h1.1M-0.3 17.5h1.1M6 17.5h1.1M9.9 17.5h1.1M-7 21.2h1.1M-0.3 21.2h1.1M6 21.2h1.1" stroke="#1a1a1a" stroke-width="1.1" fill="none"/>
<circle r="31" fill="none" stroke="#2a2a2a" stroke-width="1.2"/>
<use href="#hfeat"/>
</g>
<g transform="translate(580.4,85.5)">
<circle r="31.9" fill="none" stroke="#e6eef8" stroke-width="1.2"/>
<g clip-path="url(#hclip)"><g filter="url(#tblur)" fill="none" stroke-width="4.1">
<path stroke="#ffffff" d="M-12 -34h24M-12 -30h24M-12 -26h4M8 -26h4M-16 -22h4M12 -22h4M-16 -18h4M12 -18h4M-16 -14h4M12 -14h4M-16 -10h4M12 -10h4M-16 -6h4M-12 -2h4M8 -2h4M-4 2h8"/>
<path stroke="#fdefef" d="M-20 -30h8M12 -30h8M-24 -26h12M12 -26h8M-20 -22h4M16 -22h4M-20 -18h4M-20 -14h4M-20 -10h4M-20 -6h4M12 -6h4M-16 -2h4M12 -2h4M-8 2h4M4 2h4"/>
<path stroke="#efeffd" d="M-8 -26h16M-12 -22h8M4 -22h8M-12 -18h8M4 -18h8M-12 -14h8M0 -14h12M-12 -10h24M-12 -6h24M-8 -2h16"/>
<path stroke="#fcdfdf" d="M20 -26h4M-28 -22h8M20 -22h8M-32 -18h12M16 -18h4M-32 -14h12M16 -14h4M-36 -10h16M16 -10h4M-28 -6h8M16 -6h4M-20 -2h4M-12 2h4M8 2h4"/>
<path stroke="#dfdffc" d="M-4 -22h8M-4 -18h8M-4 -14h4"/>
<path stroke="#facfcf" d="M20 -18h12M20 -14h12M20 -10h4M28 -10h8M-24 -2h4M16 -2h4M-16 2h4M12 2h4"/>
<path stroke="#f9bfbf" d="M24 -10h4M-36 -6h8M20 -6h8M20 -2h4M-20 2h4M-8 6h16"/>
<path stroke="#f7afaf" d="M28 -6h8M-28 -2h4M16 2h4M-12 6h4M8 6h4"/>
<path stroke="#f69f9f" d="M-36 -2h8M24 -2h4M-24 2h4M20 2h4M-16 6h4M12 6h4M-8 10h12"/>
<path stroke="#f48f8f" d="M28 -2h8M-36 2h4M-28 2h4M24 2h4M-24 6h8M16 6h4M-16 10h8M4 10h4"/>
<path stroke="#f28080" d="M-32 2h4M28 2h8M-28 6h4M20 6h8M-20 10h4M8 10h8M-16 14h20"/>
<path stroke="#f17070" d="M-36 6h8M28 6h8M-36 10h16M16 10h20M-24 14h8M4 14h4M-16 18h20"/>
<path stroke="#ef6060" d="M-32 14h8M8 14h4M20 14h12M-32 18h16M4 18h4M24 18h8M-16 22h20"/>
<path stroke="#ee5050" d="M12 14h8M20 18h4M-28 22h12M4 22h8M16 22h12M-24 26h48M-20 30h12M-4 30h24M-12 34h24"/>
<path stroke="#ec4040" d="M8 18h12M12 22h4M-8 30h4"/>
</g></g>
<path d="M-2.5 -3L2.5 -4.5L5 -5.7L7 -7.6L8.5 -10.5L9.2 -17.5L9 -19.5L8.5 -21.5L7.4 -23.5L5.7 -25.5L3.5 -27L1.5 -27.6L-0.5 -27.6L-2 -27.3L-3.7 -26.5L-5.7 -25L-7.1 -23.5L-8.5 -21.4L-9.5 -19.1L-10 -17L-10.2 -14L-9.8 -10.5L-7.5 -5.5L-6.5 -4.1L-5.5 -3.4L-4 -2.9L-2.5 -3M-16.5 -25L-17.6 -21.5L-18.3 -18L-18.5 -13L-16.2 -3L-15 -1L-10.5 1.1L-5.5 2.6L0 3L5 2.8L8.5 2L12.5 0L13.1 -0.5L13.5 -1.6L15 -6.2L16.2 -12L16.9 -20L16.6 -23L15.8 -26M-27 -5.2L-17.5 0.4L-13 2.7L-9.5 4L-6 4.9L-2.5 5.4L1 5.5L6.5 5.1L10.5 4L14.1 2L18.6 -1.5L20.3 -3L20.5 -3.5L20.4 -7.5L21.2 -11L22 -12.7L23.5 -14L25 -14.2L26.5 -13.7M-27 -0.2L-12.5 7.8L-10.2 8.5L-5.5 9.3L-0.5 9.8L2.5 9.6L6.5 8.8L13 6.9L16.5 5L25.5 -0.9M-20 16L-16.5 17.7L-14 18.5L-8.5 19.5L-3.5 21L-1.5 21.3L0 21.1L1.5 20.4L3 18.9L5.7 15L9.4 13L12.5 12.1L16 11.6L19 11.5L23 11.8L25 11.7L27.5 10.9" fill="none" stroke="#6a6a6a" stroke-width="0.55" opacity="0.85"/>
<path d="M-7 -21.8h1.1M-0.3 -21.8h1.1M6.5 -21.8h1.1M-7 -17.2h1.1M6.5 -17.2h1.1M-18.7 -12.2h1.1M-14.2 -12.2h1.1M-9.8 -12.2h1.1M-5.2 -12.2h1.1M-0.3 -12.2h1.1M4.2 -12.2h1.1M9.1 -12.2h1.1M13.6 -12.2h1.1M18.1 -12.2h1.1M-21.9 -7.5h1.1M-16.6 -7.5h1.1M-11.6 -7.5h1.1M-6 -7.5h1.1M-0.3 -7.5h1.1M4.5 -7.5h1.1M9.9 -7.5h1.1M15.4 -7.5h1.1M20.4 -7.5h1.1M-22.6 -1h1.1M-17.6 -1h1.1M-12.1 -1h1.1M-6.5 -1h1.1M-0.3 -1h1.1M5 -1h1.1M10.4 -1h1.1M15.9 -1h1.1M21.4 -1h1.1M-21.6 4.5h1.1M-16.6 4.5h1.1M-0.3 4.5h1.1M15.4 4.5h1.1M20.4 4.5h1.1M-11.6 6.5h1.1M-6.5 6.5h1.1M5 6.5h1.1M10.4 6.5h1.1M-20.6 10.3h1.1M-15.6 10.3h1.1M-10.6 10.3h1.1M-5.5 10.3h1.1M-0.3 10.3h1.1M5 10.3h1.1M9.9 10.3h1.1M14.9 10.3h1.1M19.4 10.3h1.1M-16.6 14.5h1.1M-12.6 14.5h1.1M-8.6 14.5h1.1M-4.5 14.5h1.1M4 14.5h1.1M8.4 14.5h1.1M12.4 14.5h1.1M16.4 14.5h1.1M-13.6 17.5h1.1M-9.6 17.5h1.1M-0.3 17.5h1.1M6 17.5h1.1M9.9 17.5h1.1M-7 21.2h1.1M-0.3 21.2h1.1M6 21.2h1.1" stroke="#1a1a1a" stroke-width="1.1" fill="none"/>
<circle r="31" fill="none" stroke="#2a2a2a" stroke-width="1.2"/>
<use href="#hfeat"/>
</g>
<g transform="translate(425.4,183.4)">
<circle r="31.9" fill="none" stroke="#e6eef8" stroke-width="1.2"/>
<g clip-path="url(#hclip)"><g filter="url(#tblur)" fill="none" stroke-width="4.1">
<path stroke="#fcdfdf" d="M-12 -34h24M-12 -30h28M-12 -26h4M12 -26h4M-16 -22h4M12 -22h4M16 -18h4M-20 -14h4M16 -14h4M-16 -6h4M16 -2h4M-8 2h4M12 2h4M0 6h4"/>
<path stroke="#fdefef" d="M-20 -30h8M16 -30h4M-20 -26h8M16 -26h8M-20 -22h4M16 -22h12M-24 -18h8M20 -18h4M-24 -14h4M20 -14h4M-32 -10h4M-20 -10h4M20 -10h4M-20 -6h4M20 -6h4M-16 -2h4M-12 2h4M-8 6h8M4 6h4"/>
<path stroke="#ffffff" d="M-24 -26h4M-28 -22h8M-32 -18h8M24 -18h8M-32 -14h8M24 -14h8M-36 -10h4M-28 -10h8M24 -10h12M-28 -6h8M24 -6h4M-20 -2h4M-16 2h4M8 6h4"/>
<path stroke="#facfcf" d="M-8 -26h4M8 -26h4M-16 -18h4M12 -18h4M-16 -10h4M16 -10h4M16 -6h4M-12 -2h4M12 -2h4M-4 2h4M4 2h8"/>
<path stroke="#f9bfbf" d="M-4 -26h12M-12 -22h4M8 -22h4M8 -18h4M-16 -14h4M12 -14h4M-12 -6h4M-8 -2h4M8 -2h4M0 2h4"/>
<path stroke="#f7afaf" d="M-8 -22h16M-12 -18h8M4 -18h4M-12 -14h4M4 -14h8M-12 -10h4M8 -10h8M-8 -6h8M8 -6h8M-4 -2h12"/>
<path stroke="#f69f9f" d="M-4 -18h8M-8 -14h12M-8 -10h16M0 -6h8"/>
<path stroke="#bfbff9" d="M-36 -6h4M28 -6h4M-16 6h4"/>
<path stroke="#cfcffa" d="M-32 -6h4M12 6h4M-8 10h4M4 10h4"/>
<path stroke="#afaff7" d="M32 -6h4M-28 -2h4M24 -2h4M-24 2h4M20 2h4M-12 10h4M8 10h4M0 14h4"/>
<path stroke="#8080f2" d="M-36 -2h4M32 -2h4M-28 2h4M24 2h4M20 6h4M-12 14h4M8 14h4"/>
<path stroke="#8f8ff4" d="M-32 -2h4M28 -2h4M-16 10h4M12 10h4M-8 14h4M4 14h4"/>
<path stroke="#efeffd" d="M-24 -2h4M20 -2h4M-12 6h4M-4 10h8"/>
<path stroke="#6060ef" d="M-36 2h8M28 2h8M-28 6h4M24 6h4M20 10h4M-16 14h4M12 14h4M-12 18h8M4 18h8M-4 22h8"/>
<path stroke="#dfdffc" d="M-20 2h4M16 2h4"/>
<path stroke="#5050ee" d="M-36 6h8M28 6h8M-28 10h8M24 10h4M32 10h4M-20 14h4M16 14h4M-16 18h4M12 18h4M-12 22h8M4 22h4M-4 26h8"/>
<path stroke="#7070f1" d="M-24 6h4M-20 10h4M16 10h4M-4 18h8"/>
<path stroke="#9f9ff6" d="M-20 6h4M16 6h4M-4 14h4"/>
<path stroke="#4040ec" d="M-36 10h8M28 10h4M-32 14h12M20 14h12M-20 18h4M16 18h4M-16 22h4M8 22h8M-12 26h8M4 26h4M-8 30h12M-12 34h16"/>
<path stroke="#3030eb" d="M-32 18h12M20 18h12M-28 22h12M16 22h12M-24 26h12M8 26h16M-20 30h12M4 30h16M4 34h8"/>
</g></g>
<path d="M28 2.9L25 5.3L13.5 13.5L6 17.7L2.5 19.2L0 19.9L-3 19.1L-5.5 18L-14.5 12.8L-22 7.3M23.4 2L14 8.8L6 13.2L2.5 14.6L0 15.2L-2 14.7L-4.5 13.7L-14.5 8.2L-19.5 4.7M21.5 0.5L14 6L6 10.4L2.5 11.7L0 12.2L-2 11.7L-5 10.5L-14 5.6L-19 2.1M20.6 -0.5L14 4.4L10 6.8L6 8.7L2.5 10L0 10.5L-2 10L-5 8.7L-13.5 4.2L-28.5 -7M18.2 -23L20.1 -19L21.2 -15.5L21.7 -12.5L21.7 -9L21.2 -6L20.3 -3.5L18.8 -1L15 2.1L8.5 5.9L5 6.9L2 7.3L-0.5 6.9L-3.5 5.8L-9 3.1L-12 1.1L-14 -1L-15.8 -3.5L-17.8 -7L-19 -10L-19.5 -12L-19.6 -14.5L-19.3 -16.5L-18.7 -18.5L-17.1 -21.5L-13.5 -27.1M5 2.6L2 2.9L-0.5 2.6L-3.6 1.5L-7.1 -0.5L-9.5 -2.4L-11.5 -4.7L-13.2 -7.5L-14.3 -10.5L-14.7 -13L-14.5 -15.5L-13.5 -18.5L-12.1 -21L-10.1 -23.5L-8 -25.3L-5.5 -26.7L-2.5 -27.7L0.5 -28.1L3.5 -27.9L6.1 -27L8.5 -25.5L10.3 -23.5L15 -16.2L16.1 -14L17 -11.5L17.3 -9L17.2 -7L16.5 -5L15.3 -3L13.5 -1.3L11 0.3L8 1.7L5 2.6" fill="none" stroke="#6a6a6a" stroke-width="0.55" opacity="0.85"/>
<path d="M-7 -21.8h1.1M-0.3 -21.8h1.1M6.5 -21.8h1.1M-7 -17.2h1.1M6.5 -17.2h1.1M-18.7 -12.2h1.1M-14.2 -12.2h1.1M-9.8 -12.2h1.1M-5.2 -12.2h1.1M-0.3 -12.2h1.1M4.2 -12.2h1.1M9.1 -12.2h1.1M13.6 -12.2h1.1M18.1 -12.2h1.1M-21.9 -7.5h1.1M-16.6 -7.5h1.1M-11.6 -7.5h1.1M-6 -7.5h1.1M-0.3 -7.5h1.1M4.5 -7.5h1.1M9.9 -7.5h1.1M15.4 -7.5h1.1M20.4 -7.5h1.1M-22.6 -1h1.1M-17.6 -1h1.1M-12.1 -1h1.1M-6.5 -1h1.1M-0.3 -1h1.1M5 -1h1.1M10.4 -1h1.1M15.9 -1h1.1M21.4 -1h1.1M-21.6 4.5h1.1M-16.6 4.5h1.1M-0.3 4.5h1.1M15.4 4.5h1.1M20.4 4.5h1.1M-11.6 6.5h1.1M-6.5 6.5h1.1M5 6.5h1.1M10.4 6.5h1.1M-20.6 10.3h1.1M-15.6 10.3h1.1M-10.6 10.3h1.1M-5.5 10.3h1.1M-0.3 10.3h1.1M5 10.3h1.1M9.9 10.3h1.1M14.9 10.3h1.1M19.4 10.3h1.1M-16.6 14.5h1.1M-12.6 14.5h1.1M-8.6 14.5h1.1M-4.5 14.5h1.1M4 14.5h1.1M8.4 14.5h1.1M12.4 14.5h1.1M16.4 14.5h1.1M-13.6 17.5h1.1M-9.6 17.5h1.1M-0.3 17.5h1.1M6 17.5h1.1M9.9 17.5h1.1M-7 21.2h1.1M-0.3 21.2h1.1M6 21.2h1.1" stroke="#1a1a1a" stroke-width="1.1" fill="none"/>
<circle r="31" fill="none" stroke="#2a2a2a" stroke-width="1.2"/>
<use href="#hfeat"/>
</g>
<g transform="translate(502,183.8)">
<circle r="31.9" fill="none" stroke="#e6eef8" stroke-width="1.2"/>
<g clip-path="url(#hclip)"><g filter="url(#tblur)" fill="none" stroke-width="4.1">
<path stroke="#fdefef" d="M-12 -34h24M-20 -30h40M-24 -26h12M12 -26h12M-28 -22h12M16 -22h12M-28 -18h12M16 -18h8M-24 -14h4M16 -14h8M-24 -10h4M16 -10h8M16 -6h4M-20 -2h4M16 -2h4M12 2h4"/>
<path stroke="#fcdfdf" d="M-12 -26h4M8 -26h4M12 -22h4M-20 -14h4M-20 -10h4M-20 -6h4M-16 2h4"/>
<path stroke="#facfcf" d="M-8 -26h4M4 -26h4M-16 -22h4M12 -18h4M12 -2h4M-8 6h4M4 6h4"/>
<path stroke="#f9bfbf" d="M-4 -26h8M8 -22h4M-16 -18h4M12 -14h4M12 -6h4M-16 -2h4M8 2h4M-4 6h8"/>
<path stroke="#f7afaf" d="M-12 -22h4M12 -10h4M-12 2h4"/>
<path stroke="#f69f9f" d="M-8 -22h4M4 -22h4M8 -18h4M-16 -14h4M-16 -10h4M-16 -6h4M4 2h4"/>
<path stroke="#f48f8f" d="M-4 -22h8M-12 -2h4M8 -2h4M-8 2h4"/>
<path stroke="#ffffff" d="M-32 -18h4M24 -18h8M-32 -14h8M24 -14h8M-32 -10h8M24 -10h8M-28 -6h8M20 -6h4M-12 6h4M8 6h4"/>
<path stroke="#f28080" d="M-12 -18h4M4 -18h4M8 -14h4M8 -10h4M8 -6h4M-4 2h8"/>
<path stroke="#f17070" d="M-8 -18h12M-12 -14h4M0 -14h8M-12 -10h4M4 -10h4M-12 -6h8M4 -6h4M-8 -2h16"/>
<path stroke="#ef6060" d="M-8 -14h8M-8 -10h12M-4 -6h8"/>
<path stroke="#efeffd" d="M-36 -10h4M32 -10h4M24 -6h4M-4 10h8"/>
<path stroke="#8f8ff4" d="M-36 -6h4M32 -6h4M-28 -2h4"/>
<path stroke="#9f9ff6" d="M-32 -6h4M28 -6h4"/>
<path stroke="#2020e9" d="M-36 -2h4M28 -2h8M-28 2h4M24 2h4M-12 14h4M8 14h4"/>
<path stroke="#3030eb" d="M-32 -2h4M12 10h4"/>
<path stroke="#dfdffc" d="M-24 -2h4M20 -2h4"/>
<path stroke="#8080f2" d="M24 -2h4M-12 10h4M8 10h4"/>
<path stroke="#0000d8" d="M-36 2h8M32 2h4M12 14h4"/>
<path stroke="#7070f1" d="M-24 2h4M20 2h4M-4 14h8"/>
<path stroke="#cfcffa" d="M-20 2h4M16 2h4"/>
<path stroke="#0000d1" d="M28 2h4M-28 6h4M24 6h4M-12 18h4M8 18h4"/>
<path stroke="#0000c4" d="M-36 6h4M-20 14h4M16 14h4M-16 18h4M-8 22h4M4 22h4"/>
<path stroke="#0000bd" d="M-32 6h4M28 6h8M12 18h4"/>
<path stroke="#1010e8" d="M-24 6h4M20 6h4M-4 18h8"/>
<path stroke="#6060ef" d="M-20 6h4M16 6h4"/>
<path stroke="#afaff7" d="M-16 6h4M12 6h4"/>
<path stroke="#0000af" d="M-36 10h8M28 10h8M-24 14h4M20 14h4M-20 18h4M16 18h4M-16 22h4M12 22h4M-4 26h12"/>
<path stroke="#0000b6" d="M-28 10h4M24 10h4M-12 22h4M8 22h4"/>
<path stroke="#0000ca" d="M-24 10h4M20 10h4M-4 22h8"/>
<path stroke="#0000e6" d="M-20 10h4M16 10h4"/>
<path stroke="#4040ec" d="M-16 10h4"/>
<path stroke="#bfbff9" d="M-8 10h4M4 10h4"/>
<path stroke="#0000a8" d="M-32 14h8M24 14h8M-24 18h4M20 18h4M-20 22h4M-12 26h8M8 26h4M-4 30h8M-4 34h8"/>
<path stroke="#0000df" d="M-16 14h4M-8 18h4M4 18h4"/>
<path stroke="#5050ee" d="M-8 14h4M4 14h4"/>
<path stroke="#0000a1" d="M-32 18h8M24 18h8M-28 22h8M16 22h12M-24 26h12M12 26h4M-20 30h16M4 30h16M-12 34h8M4 34h8"/>
<path stroke="#00009a" d="M16 26h8"/>
</g></g>
<path d="M23 12.4L11.5 21.1L5.5 24.2L2.5 25.2L0 25.7L-4.5 24.3L-15 19.6L-21.8 13.5M22.5 8.3L10.5 17.2L5.5 19.8L2.5 20.8L0 21.2L-2.5 20.6L-6 19.2L-13 15.6L-17 12.7M22.5 4.4L11.5 12.4L5.5 15.7L2.5 16.8L0 17.3L-2 16.8L-6 15.3L-13 11.4L-26.2 1.5M21.5 2.9L12.5 9.4L5.5 13.3L2.5 14.4L0 15L-2.5 14.4L-6 13L-13 9.1L-23.9 1M22 0.5L13 7.1L6 11.1L2.5 12.5L0 13L-2.5 12.5L-6 11.1L-13 7.2L-23.3 -0.5M21.5 -0.7L12 6.2L5.5 9.8L2.5 11L0 11.5L-2.5 10.9L-6 9.6L-12.5 6L-23 -1.9M22 -2.3L12 5.2L5.5 8.8L2.5 9.9L0 10.4L-2.5 9.9L-5.5 8.9L-9 7.2L-12 5.4L-23 -3.1M15.3 -24L16.7 -21L17.8 -18L18.6 -14.5L18.8 -11.5L18.7 -8.5L18.1 -5.5L16.4 -1L14.8 1.5L13.5 3L9.5 5.7L6 7.6L2.2 9L0 9.4L-3.5 8.7L-7 7.3L-10.5 5.3L-14.5 2.5L-16.2 1L-16.9 0L-18.2 -2.5L-19.2 -5.5L-19.8 -9L-19.8 -13L-19.1 -17L-17.8 -22L-16.7 -24.5M1 7L-2 7.1L-5.5 6.3L-8.5 4.9L-11.1 3L-13.4 0.5L-15.2 -2.5L-16.3 -5.5L-16.8 -9L-16.6 -12.5L-15.8 -16L-14.6 -19.5L-13 -22.1L-11.4 -23.5L-9 -24.7L-4 -26.1L-1 -26.5L2 -26.4L5 -25.6L7.5 -24.4L10.1 -22.5L12.3 -20L13.8 -17.5L15 -14.5L15.6 -11L15.5 -7.5L14.8 -4.5L13.5 -1.5L11.8 1L9.5 3.4L7 5.1L4 6.4L1 7M2 4L0 4.3L-2.5 4.1L-5 3.5L-7 2.6L-9 1.2L-10.7 -0.5L-12 -2.4L-13 -4.5L-13.8 -7L-14 -9.5L-13.9 -12L-13.2 -15L-12.3 -17.5L-11.2 -19.5L-10 -20.7L-8 -21.8L-4 -22.9L-1 -23.4L1.5 -23.3L4 -22.7L6.5 -21.4L8.8 -19.5L10.5 -17.3L11.9 -14.5L12.7 -11.5L12.8 -8.5L12.2 -5.5L11.2 -3L9.5 -0.5L7.4 1.5L5 3L2 4M0 -6.9L-1.5 -6.7L-3.5 -7L-5 -7.7L-6 -8.8L-6.5 -10L-6.6 -11.5L-6 -13L-5 -14L-3.5 -14.7L-2 -14.9L-1 -14.7L0 -14L1.1 -11.5L1.6 -9L1 -7.5L0 -6.9" fill="none" stroke="#6a6a6a" stroke-width="0.55" opacity="0.85"/>
<path d="M-7 -21.8h1.1M-0.3 -21.8h1.1M6.5 -21.8h1.1M-7 -17.2h1.1M6.5 -17.2h1.1M-18.7 -12.2h1.1M-14.2 -12.2h1.1M-9.8 -12.2h1.1M-5.2 -12.2h1.1M-0.3 -12.2h1.1M4.2 -12.2h1.1M9.1 -12.2h1.1M13.6 -12.2h1.1M18.1 -12.2h1.1M-21.9 -7.5h1.1M-16.6 -7.5h1.1M-11.6 -7.5h1.1M-6 -7.5h1.1M-0.3 -7.5h1.1M4.5 -7.5h1.1M9.9 -7.5h1.1M15.4 -7.5h1.1M20.4 -7.5h1.1M-22.6 -1h1.1M-17.6 -1h1.1M-12.1 -1h1.1M-6.5 -1h1.1M-0.3 -1h1.1M5 -1h1.1M10.4 -1h1.1M15.9 -1h1.1M21.4 -1h1.1M-21.6 4.5h1.1M-16.6 4.5h1.1M-0.3 4.5h1.1M15.4 4.5h1.1M20.4 4.5h1.1M-11.6 6.5h1.1M-6.5 6.5h1.1M5 6.5h1.1M10.4 6.5h1.1M-20.6 10.3h1.1M-15.6 10.3h1.1M-10.6 10.3h1.1M-5.5 10.3h1.1M-0.3 10.3h1.1M5 10.3h1.1M9.9 10.3h1.1M14.9 10.3h1.1M19.4 10.3h1.1M-16.6 14.5h1.1M-12.6 14.5h1.1M-8.6 14.5h1.1M-4.5 14.5h1.1M4 14.5h1.1M8.4 14.5h1.1M12.4 14.5h1.1M16.4 14.5h1.1M-13.6 17.5h1.1M-9.6 17.5h1.1M-0.3 17.5h1.1M6 17.5h1.1M9.9 17.5h1.1M-7 21.2h1.1M-0.3 21.2h1.1M6 21.2h1.1" stroke="#1a1a1a" stroke-width="1.1" fill="none"/>
<circle r="31" fill="none" stroke="#2a2a2a" stroke-width="1.2"/>
<use href="#hfeat"/>
</g>
<g transform="translate(576.8,184.2)">
<circle r="31.9" fill="none" stroke="#e6eef8" stroke-width="1.2"/>
<g clip-path="url(#hclip)"><g filter="url(#tblur)" fill="none" stroke-width="4.1">
<path stroke="#fcdfdf" d="M-12 -34h8M0 -34h8M-16 -30h12M0 -30h8M-16 -26h4M8 -26h4M12 -22h4M-20 -18h4M-20 -6h4M12 -2h4M-8 6h4"/>
<path stroke="#facfcf" d="M-4 -34h4M-4 -30h4M-12 -26h4M-16 -22h4M12 -18h4M-20 -14h4M12 -14h4M-20 -10h4M12 -10h4M12 -6h4M8 2h4M0 6h4"/>
<path stroke="#fdefef" d="M8 -34h4M-20 -30h4M8 -30h12M-24 -26h8M12 -26h12M-24 -22h8M16 -22h4M-24 -18h4M16 -18h4M-24 -14h4M16 -14h4M-24 -10h4M16 -10h4M-24 -6h4M16 -6h4M-20 -2h4M4 6h4"/>
<path stroke="#f7afaf" d="M-8 -26h4M0 -26h4M-16 -18h4M8 -2h4M4 2h4"/>
<path stroke="#f69f9f" d="M-4 -26h4M-12 -22h4M8 -18h4M-16 -14h4M-16 -10h4M-16 -6h4M8 -6h4M-12 -2h4M-8 2h4"/>
<path stroke="#f9bfbf" d="M4 -26h4M8 -22h4M-16 -2h4M-12 2h4M-4 6h4"/>
<path stroke="#ffffff" d="M-28 -22h4M20 -22h8M-32 -18h8M20 -18h12M-32 -14h8M20 -14h12M-28 -10h4M20 -10h4M20 -6h4M16 -2h4M-16 2h4"/>
<path stroke="#f28080" d="M-8 -22h12M-12 -18h4M4 -18h4M4 -14h4M-12 -10h20M-12 -6h20M-8 -2h12"/>
<path stroke="#f48f8f" d="M4 -22h4M8 -14h4M8 -10h4M4 -2h4M-4 2h8"/>
<path stroke="#f17070" d="M-8 -18h12M-12 -14h16"/>
<path stroke="#afaff7" d="M-36 -10h4M-28 -6h4M24 -6h4M-24 -2h4M20 -2h4"/>
<path stroke="#cfcffa" d="M-32 -10h4"/>
<path stroke="#efeffd" d="M24 -10h4M12 2h4"/>
<path stroke="#bfbff9" d="M28 -10h4M8 6h4M-4 10h8"/>
<path stroke="#9f9ff6" d="M32 -10h4M-20 2h4M16 2h4M-8 10h4"/>
<path stroke="#5050ee" d="M-36 -6h4M32 -6h4M-28 -2h4M24 -2h4M-24 2h4M20 2h4M-4 14h4"/>
<path stroke="#6060ef" d="M-32 -6h4M28 -6h4"/>
<path stroke="#1010e8" d="M-36 -2h8M28 -2h8M-28 2h4M24 2h4M-24 6h4M20 6h4M-20 10h4M12 10h4M-12 14h4M4 14h4"/>
<path stroke="#0000df" d="M-36 2h8M28 2h8M-28 6h4M-24 10h4M16 10h4M-12 18h4M0 18h4"/>
<path stroke="#0000d1" d="M-36 6h8M28 6h8M20 10h4M12 14h4M-16 18h4M4 18h4M-8 22h4M0 22h4"/>
<path stroke="#4040ec" d="M-20 6h4M8 10h4M0 14h4"/>
<path stroke="#8f8ff4" d="M-16 6h4"/>
<path stroke="#dfdffc" d="M-12 6h4"/>
<path stroke="#8080f2" d="M12 6h4M4 10h4"/>
<path stroke="#3030eb" d="M16 6h4M-16 10h4M-8 14h4"/>
<path stroke="#0000d8" d="M24 6h4M-20 14h4M8 14h4M-4 22h4"/>
<path stroke="#0000ca" d="M-36 10h4M-28 10h4M24 10h4M-24 14h4M-12 22h4M-4 26h4"/>
<path stroke="#0000c4" d="M-32 10h4M28 10h8M16 14h4M-20 18h4M8 18h4M-16 22h4M4 22h4M-8 26h4M0 26h4"/>
<path stroke="#7070f1" d="M-12 10h4"/>
<path stroke="#0000bd" d="M-32 14h8M20 14h4M-32 18h4M-24 18h4M-12 26h4M-4 30h4M-4 34h4"/>
<path stroke="#0000e6" d="M-16 14h4M-8 18h8"/>
<path stroke="#0000b6" d="M24 14h8M-28 18h4M12 18h4M-28 22h12M-24 26h12M4 26h4M-20 30h16M0 30h8M-12 34h8M0 34h8"/>
<path stroke="#0000af" d="M16 18h4M28 18h4M8 22h4M8 30h4M8 34h4"/>
<path stroke="#0000a8" d="M20 18h8M12 22h4M24 22h4M8 26h8M12 30h4"/>
<path stroke="#0000a1" d="M16 22h8M16 26h8M16 30h4"/>
</g></g>
<path d="M14 18.2L11.5 19.5L9.2 22L6.7 27L4.6 29.5M27 6.4L23.5 8.8L17 12.2L10.5 14.4L8.2 15.5L5.2 17.5L0.5 21.7L0 22L-1.5 22.2L-4 21.9L-7.5 20.6L-12 18.5L-16 16.2L-22 11.5M23 2.9L16.7 7.5L13 9.6L3 14.7L0.5 15.7L-0.5 15.9L-2.5 15.6L-5.5 14.7L-11.5 12.1L-14 10.8L-17 8.4M23.1 0L16 5.5L12.5 7.6L5.5 11.2L0 13.3L-2.5 13L-6 11.9L-9.5 10.4L-12.5 8.6L-22 1M22.5 -1.9L15 4.1L5.5 9.4L2.5 10.7L0 11.4L-2.5 11L-6 9.8L-9.5 8.2L-12 6.7L-21.5 -1M21.5 -2.9L14 3.3L5.5 8.1L2.5 9.3L0 10L-2.5 9.6L-5.5 8.6L-8.5 7.3L-11.5 5.4L-20.1 -1.5M21 -3.8L13.5 2.5L5 7.4L2.5 8.4L0 9L-2.5 8.6L-5.5 7.7L-8.5 6.3L-11.5 4.4L-19.2 -2M11.9 -27L13.8 -24.5L15.3 -21.5L16.3 -18.5L16.9 -15L17.3 -9L17.1 -5.5L15.4 -0.5L13.2 1.5L10.2 3.5L5.5 6.2L2.4 7.5L0 8.1L-2.5 7.7L-5 6.9L-10 4.3L-17.3 -1.5L-19.2 -3.5L-19.6 -4.5L-20.3 -9L-20.4 -12.5L-19.8 -16.5L-18.8 -20L-17.1 -23.5L-15 -26.5M1.5 6.1L-1.5 6.4L-5 5.9L-8 4.6L-10.5 3L-13 0.6L-15.2 -2.5L-16.4 -5L-17.2 -8.5L-17.4 -12L-17 -15.5L-15.9 -19L-14.3 -22L-12 -24.8L-9.5 -26.8L-6.5 -28.2L-3.5 -29L-0.5 -29.1L2.5 -28.5L5.5 -27.3L8 -25.6L10.1 -23.5L12.1 -20.5L13.3 -17.5L14.1 -14L14.3 -10.5L13.9 -7L12.8 -3.5L11.3 -0.5L9.5 1.5L6.9 3.5L4 5.2L1.5 6.1M1 3.1L-1.5 3.3L-4 2.7L-6.5 1.6L-8.8 0L-11 -2.3L-12.5 -4.5L-13.5 -6.7L-14.2 -9.5L-14.3 -12L-14 -15L-13.3 -17.5L-12 -20.1L-10.5 -22L-8.5 -23.7L-6 -25L-3.5 -25.6L-1 -25.7L1.5 -25.3L3.6 -24.5L5.9 -23L7.9 -21L9.3 -19L10.4 -16.5L11 -14L11.2 -11L11 -8.5L10.3 -6L9.1 -3.5L7.5 -1.3L5.5 0.6L3.5 2.1L1 3.1" fill="none" stroke="#6a6a6a" stroke-width="0.55" opacity="0.85"/>
<path d="M-7 -21.8h1.1M-0.3 -21.8h1.1M6.5 -21.8h1.1M-7 -17.2h1.1M6.5 -17.2h1.1M-18.7 -12.2h1.1M-14.2 -12.2h1.1M-9.8 -12.2h1.1M-5.2 -12.2h1.1M-0.3 -12.2h1.1M4.2 -12.2h1.1M9.1 -12.2h1.1M13.6 -12.2h1.1M18.1 -12.2h1.1M-21.9 -7.5h1.1M-16.6 -7.5h1.1M-11.6 -7.5h1.1M-6 -7.5h1.1M-0.3 -7.5h1.1M4.5 -7.5h1.1M9.9 -7.5h1.1M15.4 -7.5h1.1M20.4 -7.5h1.1M-22.6 -1h1.1M-17.6 -1h1.1M-12.1 -1h1.1M-6.5 -1h1.1M-0.3 -1h1.1M5 -1h1.1M10.4 -1h1.1M15.9 -1h1.1M21.4 -1h1.1M-21.6 4.5h1.1M-16.6 4.5h1.1M-0.3 4.5h1.1M15.4 4.5h1.1M20.4 4.5h1.1M-11.6 6.5h1.1M-6.5 6.5h1.1M5 6.5h1.1M10.4 6.5h1.1M-20.6 10.3h1.1M-15.6 10.3h1.1M-10.6 10.3h1.1M-5.5 10.3h1.1M-0.3 10.3h1.1M5 10.3h1.1M9.9 10.3h1.1M14.9 10.3h1.1M19.4 10.3h1.1M-16.6 14.5h1.1M-12.6 14.5h1.1M-8.6 14.5h1.1M-4.5 14.5h1.1M4 14.5h1.1M8.4 14.5h1.1M12.4 14.5h1.1M16.4 14.5h1.1M-13.6 17.5h1.1M-9.6 17.5h1.1M-0.3 17.5h1.1M6 17.5h1.1M9.9 17.5h1.1M-7 21.2h1.1M-0.3 21.2h1.1M6 21.2h1.1" stroke="#1a1a1a" stroke-width="1.1" fill="none"/>
<circle r="31" fill="none" stroke="#2a2a2a" stroke-width="1.2"/>
<use href="#hfeat"/>
</g>
<g transform="translate(422,327.3)">
<circle r="31.9" fill="none" stroke="#e6eef8" stroke-width="1.2"/>
<g clip-path="url(#hclip)"><g filter="url(#tblur)" fill="none" stroke-width="4.1">
<path stroke="#fcdfdf" d="M-12 -34h4M-20 -30h12M-24 -26h8M20 -26h4M-28 -22h12M20 -22h8M-32 -18h12M20 -18h12M-32 -14h12M20 -14h12M-36 -10h16M20 -10h16M-28 -6h8M20 -6h8M-20 -2h4M16 -2h4M-8 2h4"/>
<path stroke="#fdefef" d="M-8 -34h20M-8 -30h28M-16 -26h12M8 -26h12M-16 -22h8M12 -22h8M-20 -18h8M16 -18h4M-20 -14h4M16 -14h4M-20 -10h4M16 -10h4M-20 -6h8M16 -6h4M-16 -2h8M12 -2h4M-4 2h16"/>
<path stroke="#ffffff" d="M-4 -26h12M-8 -22h4M4 -22h8M-12 -18h4M8 -18h8M-16 -14h4M12 -14h4M-16 -10h4M12 -10h4M-12 -6h4M8 -6h8M-8 -2h8M8 -2h4"/>
<path stroke="#efeffd" d="M-4 -22h8M-8 -18h4M4 -18h4M-12 -14h4M8 -14h4M-12 -10h4M8 -10h4M-8 -6h4M4 -6h4M0 -2h8"/>
<path stroke="#dfdffc" d="M-4 -18h8M-8 -14h16M-8 -10h4M0 -10h8M-4 -6h8"/>
<path stroke="#cfcffa" d="M-4 -10h4"/>
<path stroke="#f9bfbf" d="M-36 -6h8M28 -6h8M0 6h8"/>
<path stroke="#f48f8f" d="M-36 -2h4M-28 2h4M24 2h12M-20 6h4M16 6h4M-12 10h16"/>
<path stroke="#f69f9f" d="M-32 -2h4M28 -2h8M-24 2h4M20 2h4M-16 6h8M12 6h4"/>
<path stroke="#f7afaf" d="M-28 -2h4M24 -2h4M-20 2h4M16 2h4M-4 6h4M8 6h4"/>
<path stroke="#facfcf" d="M-24 -2h4M20 -2h4M-16 2h8M12 2h4"/>
<path stroke="#f28080" d="M-36 2h8M-28 6h8M20 6h8M32 6h4M-20 10h8M4 10h4M-20 26h8M12 26h8M-20 30h40M-12 34h24"/>
<path stroke="#f17070" d="M-36 6h8M-8 6h4M28 6h4M-24 10h4M16 10h20M-16 14h20M24 14h8M-28 18h20M20 18h12M-28 22h32M16 22h12M-24 26h4M-12 26h24M20 26h4"/>
<path stroke="#ef6060" d="M-36 10h12M8 10h8M-32 14h16M20 14h4M-32 18h4M-8 18h12M16 18h4M4 22h12"/>
<path stroke="#ec4040" d="M4 14h4M12 18h4"/>
<path stroke="#e92020" d="M8 14h8"/>
<path stroke="#ee5050" d="M16 14h4M4 18h4"/>
<path stroke="#eb3030" d="M8 18h4"/>
</g></g>
<path d="M2.7 -3.5L5.5 -4.4L6.8 -5.5L8 -6.9L9.8 -10.5L9.7 -13.5L9 -15.5L8.2 -17L5.6 -19.5L2.5 -20.9L0.5 -21L-1 -20.8L-4.5 -19.3L-6.9 -17L-8.3 -14L-8.7 -12L-8.6 -10.5L-8 -9L-7 -7.6L-4 -5.1L-1 -3.8L2.7 -3.5M-3 -30L-5 -27.2L-6.3 -26L-8 -25.1L-12.5 -24L-13.5 -23.4L-14.8 -22L-16.4 -19L-18.4 -13L-18.7 -8.5L-18.6 -6.5L-18 -5L-16.5 -3.5L-14.5 -2.7L-9.5 -1.5L-6.4 1L-1.5 2.3L4.5 2.7L7 2.6L9.5 2L14.8 -1L19 -8.5L19.8 -10.5L20.1 -13L19.9 -14.5L18.8 -17L15.8 -22.5L14 -25.1L12 -27.2L10 -28.8M-22.5 -2.1L-17.5 0.4L-10 2.9L-5 3.1L-1 4.9L2.5 5.2L7.5 4.8L12 3.4L24.2 -3.5M-25.5 0.2L-22 2.3L-12 6.5L-10 6.9L-7 4.7L-5.5 4.4L-4.5 4.7L-3.6 5.5L-2 8.1L-1 8.6L0.5 8.8L4.5 8.3L12 6.4L15.5 5.3L27 -0L28.5 -1M-23.5 10.2L-18.9 13L-19 13.2L-20.5 13.7L-24 15.8L-25 16L-26 15.7M11 22.5L7 22.2L1 19.9L-5 18.9L-7.1 18L-10.4 16L0.5 15.4L2 14.7L6.5 11.3L8.5 10.4L10.5 9.9L14 9.9L19.5 11.3L22.5 11.3L22.9 11.5L20.8 16.5L18.5 19.4L17 20.5L15 21.6L11 22.5M12.5 17.1L10.5 17.4L8.5 16.7L8 16L8.3 14.5L9.4 13.5L10.5 13L12 13L13.2 13.5L14.3 14.5L14.3 15L13.8 16L12.5 17.1" fill="none" stroke="#6a6a6a" stroke-width="0.55" opacity="0.85"/>
<path d="M-7 -21.8h1.1M-0.3 -21.8h1.1M6.5 -21.8h1.1M-7 -17.2h1.1M6.5 -17.2h1.1M-18.7 -12.2h1.1M-14.2 -12.2h1.1M-9.8 -12.2h1.1M-5.2 -12.2h1.1M-0.3 -12.2h1.1M4.2 -12.2h1.1M9.1 -12.2h1.1M13.6 -12.2h1.1M18.1 -12.2h1.1M-21.9 -7.5h1.1M-16.6 -7.5h1.1M-11.6 -7.5h1.1M-6 -7.5h1.1M-0.3 -7.5h1.1M4.5 -7.5h1.1M9.9 -7.5h1.1M15.4 -7.5h1.1M20.4 -7.5h1.1M-22.6 -1h1.1M-17.6 -1h1.1M-12.1 -1h1.1M-6.5 -1h1.1M-0.3 -1h1.1M5 -1h1.1M10.4 -1h1.1M15.9 -1h1.1M21.4 -1h1.1M-21.6 4.5h1.1M-16.6 4.5h1.1M-0.3 4.5h1.1M15.4 4.5h1.1M20.4 4.5h1.1M-11.6 6.5h1.1M-6.5 6.5h1.1M5 6.5h1.1M10.4 6.5h1.1M-20.6 10.3h1.1M-15.6 10.3h1.1M-10.6 10.3h1.1M-5.5 10.3h1.1M-0.3 10.3h1.1M5 10.3h1.1M9.9 10.3h1.1M14.9 10.3h1.1M19.4 10.3h1.1M-16.6 14.5h1.1M-12.6 14.5h1.1M-8.6 14.5h1.1M-4.5 14.5h1.1M4 14.5h1.1M8.4 14.5h1.1M12.4 14.5h1.1M16.4 14.5h1.1M-13.6 17.5h1.1M-9.6 17.5h1.1M-0.3 17.5h1.1M6 17.5h1.1M9.9 17.5h1.1M-7 21.2h1.1M-0.3 21.2h1.1M6 21.2h1.1" stroke="#1a1a1a" stroke-width="1.1" fill="none"/>
<circle r="31" fill="none" stroke="#2a2a2a" stroke-width="1.2"/>
<use href="#hfeat"/>
</g>
<g transform="translate(500.4,328)">
<circle r="31.9" fill="none" stroke="#e6eef8" stroke-width="1.2"/>
<g clip-path="url(#hclip)"><g filter="url(#tblur)" fill="none" stroke-width="4.1">
<path stroke="#ffffff" d="M-12 -34h20M-20 -30h28M-24 -26h12M8 -26h4M-20 -22h4M12 -22h4M16 -18h4M16 -14h4M-20 -10h4M16 -10h4M-20 -6h4M12 -6h4M-16 -2h4M8 -2h4"/>
<path stroke="#fdefef" d="M8 -34h4M8 -30h12M12 -26h12M-28 -22h8M16 -22h12M-24 -18h4M20 -18h8M-24 -14h4M20 -14h4M-24 -10h4M20 -10h4M-24 -6h4M16 -6h4M-20 -2h4M12 -2h8M-8 2h16"/>
<path stroke="#efeffd" d="M-12 -26h8M4 -26h4M-16 -22h4M-20 -18h4M12 -18h4M-20 -14h4M12 -10h4M-16 -6h4M-12 -2h8M4 -2h4"/>
<path stroke="#dfdffc" d="M-4 -26h8M-12 -22h4M8 -22h4M-16 -18h4M-16 -14h4M12 -14h4M-16 -10h4M-12 -6h4M8 -6h4M-4 -2h8"/>
<path stroke="#cfcffa" d="M-8 -22h16M-12 -18h24M-12 -14h24M-12 -10h24M-8 -6h16"/>
<path stroke="#fcdfdf" d="M-32 -18h8M28 -18h4M-32 -14h8M24 -14h8M-36 -10h12M24 -10h12M-28 -6h4M20 -6h8M-12 2h4M8 2h4"/>
<path stroke="#f9bfbf" d="M-36 -6h4M32 -6h4M-28 -2h4M24 -2h4M-20 2h4M16 2h4M-8 6h12"/>
<path stroke="#facfcf" d="M-32 -6h4M28 -6h4M-24 -2h4M20 -2h4M-16 2h4M12 2h4"/>
<path stroke="#f48f8f" d="M-36 -2h4M32 -2h4M-28 2h4M24 2h4M-20 6h4M12 6h4"/>
<path stroke="#f69f9f" d="M-32 -2h4M28 -2h4M20 2h4M-16 6h4M8 6h4"/>
<path stroke="#f17070" d="M-36 2h8M28 2h8M-28 6h4M20 6h4M-12 10h4"/>
<path stroke="#f7afaf" d="M-24 2h4M-12 6h4M4 6h4"/>
<path stroke="#ef6060" d="M-36 6h8M24 6h4M32 6h4M-24 10h12M4 10h4"/>
<path stroke="#f28080" d="M-24 6h4M16 6h4M-8 10h12"/>
<path stroke="#ee5050" d="M28 6h4M-36 10h12M16 10h12M32 10h4M-4 14h8"/>
<path stroke="#ec4040" d="M8 10h8M28 10h4M-32 14h12M-8 14h4M20 14h12M-32 18h4M0 18h4M20 18h12M0 22h8M12 22h16M-20 26h44M-20 30h40M-12 34h24"/>
<path stroke="#eb3030" d="M-20 14h12M16 14h4M-28 18h8M-4 18h4M4 18h4M16 18h4M-28 22h28M8 22h4M-24 26h4"/>
<path stroke="#e92020" d="M4 14h4M-20 18h4M-8 18h4M12 18h4"/>
<path stroke="#e00000" d="M8 14h4"/>
<path stroke="#e81010" d="M12 14h4M-16 18h8M8 18h4"/>
</g></g>
<path d="M3.6 -8.5L5.9 -9.5L7 -10.9L7.7 -13L7.4 -15.5L6.2 -17.5L4.3 -19L2 -19.8L-0.5 -19.5L-1.2 -19L-1.4 -18.5L-0.3 -15L-0.4 -13L-1.2 -11.5L-3.3 -9.5L-2 -8.8L0 -8.3L3.6 -8.5M2.1 -1L6 -2L9.2 -3.5L12 -5.8L14 -8.5L15.2 -11.5L15.4 -14.5L14.6 -18L12.8 -21L10.5 -23.4L7.5 -25.3L4 -26.6L0 -27.2L-3.5 -27L-7 -26.2L-11.4 -24.5L-14.8 -22.5L-16.2 -21L-17 -19.5L-17.6 -15.5L-17.4 -13L-16.9 -11L-16.1 -9L-14.8 -7L-11.7 -4L-7.5 -1.8L-3 -0.8L2.1 -1M-22.5 -17.5L-22.7 -12L-22.5 -10L-21.9 -8L-20.7 -5.5L-19 -3L-16.5 -1.3L-12.5 0.4L-8.5 1.7L-4.5 2.4L-0.5 2.6L3.5 2.4L7.5 1.7L11.4 0.5L15.1 -1L16.7 -2.5L18.6 -5L20.3 -8L21.2 -10.5L21.8 -13.5L21.9 -15.5L21.2 -18.5L19.6 -22M-22 -1.2L-16 1.8L-8.5 4.2L-5 4.8L-1 5.1L2.5 4.9L6 4.3L11 3.2L14.6 2L22 -1.5M-24.5 1.7L-18.5 4.5L-9.5 7.4L-5.5 8.1L-1.5 8.3L2.5 7.9L17.5 4.5L24 1.4M-27.8 6L-24.5 7.7L-9.5 10.8L-1 11.9L2 11.4L6.5 9.4L9.5 8.6L12 8.3L17.5 8.3L20 7.8L24.5 5.7M12.5 19.6L10.5 19.8L8.5 19.6L7.5 19.2L6.3 18L5.5 16.5L5.3 15L5.7 13.5L6.8 12L9 10.9L12 10.6L14 11.2L15.4 12.5L16.4 14.5L16.4 17L14.9 18.5L12.5 19.6M-7.5 21.1L-12 21.5L-16.5 20.7L-18 20L-19.2 19L-19.8 18L-19.6 16.5L-19.3 16L-18.1 15.5L-14 14.7L-10.5 14.7L-7.2 15.5L-4.8 17L-4.2 18L-4.1 19L-4.5 20L-7.5 21.1" fill="none" stroke="#6a6a6a" stroke-width="0.55" opacity="0.85"/>
<path d="M-7 -21.8h1.1M-0.3 -21.8h1.1M6.5 -21.8h1.1M-7 -17.2h1.1M6.5 -17.2h1.1M-18.7 -12.2h1.1M-14.2 -12.2h1.1M-9.8 -12.2h1.1M-5.2 -12.2h1.1M-0.3 -12.2h1.1M4.2 -12.2h1.1M9.1 -12.2h1.1M13.6 -12.2h1.1M18.1 -12.2h1.1M-21.9 -7.5h1.1M-16.6 -7.5h1.1M-11.6 -7.5h1.1M-6 -7.5h1.1M-0.3 -7.5h1.1M4.5 -7.5h1.1M9.9 -7.5h1.1M15.4 -7.5h1.1M20.4 -7.5h1.1M-22.6 -1h1.1M-17.6 -1h1.1M-12.1 -1h1.1M-6.5 -1h1.1M-0.3 -1h1.1M5 -1h1.1M10.4 -1h1.1M15.9 -1h1.1M21.4 -1h1.1M-21.6 4.5h1.1M-16.6 4.5h1.1M-0.3 4.5h1.1M15.4 4.5h1.1M20.4 4.5h1.1M-11.6 6.5h1.1M-6.5 6.5h1.1M5 6.5h1.1M10.4 6.5h1.1M-20.6 10.3h1.1M-15.6 10.3h1.1M-10.6 10.3h1.1M-5.5 10.3h1.1M-0.3 10.3h1.1M5 10.3h1.1M9.9 10.3h1.1M14.9 10.3h1.1M19.4 10.3h1.1M-16.6 14.5h1.1M-12.6 14.5h1.1M-8.6 14.5h1.1M-4.5 14.5h1.1M4 14.5h1.1M8.4 14.5h1.1M12.4 14.5h1.1M16.4 14.5h1.1M-13.6 17.5h1.1M-9.6 17.5h1.1M-0.3 17.5h1.1M6 17.5h1.1M9.9 17.5h1.1M-7 21.2h1.1M-0.3 21.2h1.1M6 21.2h1.1" stroke="#1a1a1a" stroke-width="1.1" fill="none"/>
<circle r="31" fill="none" stroke="#2a2a2a" stroke-width="1.2"/>
<use href="#hfeat"/>
</g>
<g transform="translate(579.6,327.4)">
<circle r="31.9" fill="none" stroke="#e6eef8" stroke-width="1.2"/>
<g clip-path="url(#hclip)"><g filter="url(#tblur)" fill="none" stroke-width="4.1">
<path stroke="#ffffff" d="M-12 -34h8M4 -34h8M-12 -30h8M4 -30h8M-12 -26h4M8 -26h4M-16 -22h4M12 -22h4M-20 -14h4M-16 -2h4M12 -2h4M-8 2h4M4 2h4"/>
<path stroke="#efeffd" d="M-4 -34h8M-4 -30h8M-8 -26h4M4 -26h4M-12 -22h4M8 -22h4M-16 -18h4M12 -18h4M-16 -14h4M12 -14h4M-16 -10h4M12 -10h4M-16 -6h4M12 -6h4M-12 -2h4M8 -2h4M-4 2h8"/>
<path stroke="#fdefef" d="M-20 -30h8M12 -30h8M-24 -26h12M12 -26h12M-28 -22h12M16 -22h4M-32 -18h16M16 -18h4M-24 -14h4M16 -14h4M-20 -10h4M16 -10h4M-20 -6h4M16 -6h4M-20 -2h4M16 -2h4M-12 2h4M8 2h4"/>
<path stroke="#dfdffc" d="M-4 -26h8M-8 -22h4M4 -22h4M-12 -18h4M8 -18h4M-12 -14h4M8 -14h4M-12 -10h4M8 -10h4M-12 -6h8M4 -6h8M-8 -2h16"/>
<path stroke="#cfcffa" d="M-4 -22h8M-8 -18h16M-8 -14h16M-8 -10h16M-4 -6h8"/>
<path stroke="#fcdfdf" d="M20 -22h8M20 -18h12M-32 -14h8M20 -14h12M-36 -10h16M20 -10h16M-28 -6h8M20 -6h8"/>
<path stroke="#f9bfbf" d="M-36 -6h4M32 -6h4M-28 -2h4M24 -2h4M-20 2h4M16 2h4M-12 6h4"/>
<path stroke="#facfcf" d="M-32 -6h4M28 -6h4M-24 -2h4M20 -2h4M-16 2h4M12 2h4M-8 6h16"/>
<path stroke="#f7afaf" d="M-36 -2h8M-24 2h4M20 2h4M-16 6h4M8 6h4M-4 10h4"/>
<path stroke="#f69f9f" d="M28 -2h8M-28 2h4M24 2h4M-20 6h4M12 6h4M-12 10h8M0 10h4"/>
<path stroke="#f48f8f" d="M-36 2h8M32 2h4M-24 6h4M16 6h8M-16 10h4M4 10h4"/>
<path stroke="#f28080" d="M28 2h4M-28 6h4M24 6h4M-20 10h4M8 10h8M-8 14h12"/>
<path stroke="#f17070" d="M-36 6h8M28 6h8M-24 10h4M16 10h4M-16 14h8M4 14h4"/>
<path stroke="#ef6060" d="M-36 10h12M20 10h16M-24 14h8M8 14h4M-16 18h16"/>
<path stroke="#ee5050" d="M-32 14h8M12 14h20M-32 18h16M0 18h8M24 18h8M-16 22h16"/>
<path stroke="#ec4040" d="M8 18h4M16 18h8M-28 22h12M0 22h8M24 22h4M-24 26h24M-20 30h8"/>
<path stroke="#eb3030" d="M12 18h4M8 22h16M0 26h24M-12 30h32M-12 34h24"/>
</g></g>
<path d="M4.7 1.5L6.5 1L9 -0.9L10.8 -3L12.3 -5.5L13.4 -8.5L14 -11.5L13.9 -14L13.3 -17L12.5 -19.5L11.1 -22L9.4 -24L7.5 -25.7L5 -27.2L1 -28.8L-1 -29.2L-3 -29.1L-5.1 -28L-8.5 -25L-10.5 -22.8L-12 -20.5L-13.1 -18L-13.9 -15L-14 -11.5L-13.5 -9L-12.5 -6L-10.7 -3L-8.5 -0.6L-6.3 1L-4 1.6L-1 2L2 1.9L4.7 1.5M-19 -22.5L-22.6 -19L-23.1 -18L-23 -17L-20.1 -12L-18.1 -5L-16.5 -1.5L-12 1.2L-8 3L-4 4.1L-0.5 4.4L2.5 4.3L5.5 3.7L8.5 2.8L11.5 1.4L16.4 -1.5L18.1 -5L19.2 -8.5L19.6 -12L18.8 -21L17.3 -24.5M-24.8 -3L-12 3.8L-6 6L-1 6.7L2 6.5L5 6L12 3.6L22.7 -2M-28.5 0.9L-23 3.2L-11 8.8L-6 10.5L-2 11L3 10.2L16 5.9L24.4 2M-22.5 11.4L-16 14.4L-9 16.7L-4.5 17.3L0.5 16.5L10.5 12.8L21.5 10.3L27 8.2" fill="none" stroke="#6a6a6a" stroke-width="0.55" opacity="0.85"/>
<path d="M-7 -21.8h1.1M-0.3 -21.8h1.1M6.5 -21.8h1.1M-7 -17.2h1.1M6.5 -17.2h1.1M-18.7 -12.2h1.1M-14.2 -12.2h1.1M-9.8 -12.2h1.1M-5.2 -12.2h1.1M-0.3 -12.2h1.1M4.2 -12.2h1.1M9.1 -12.2h1.1M13.6 -12.2h1.1M18.1 -12.2h1.1M-21.9 -7.5h1.1M-16.6 -7.5h1.1M-11.6 -7.5h1.1M-6 -7.5h1.1M-0.3 -7.5h1.1M4.5 -7.5h1.1M9.9 -7.5h1.1M15.4 -7.5h1.1M20.4 -7.5h1.1M-22.6 -1h1.1M-17.6 -1h1.1M-12.1 -1h1.1M-6.5 -1h1.1M-0.3 -1h1.1M5 -1h1.1M10.4 -1h1.1M15.9 -1h1.1M21.4 -1h1.1M-21.6 4.5h1.1M-16.6 4.5h1.1M-0.3 4.5h1.1M15.4 4.5h1.1M20.4 4.5h1.1M-11.6 6.5h1.1M-6.5 6.5h1.1M5 6.5h1.1M10.4 6.5h1.1M-20.6 10.3h1.1M-15.6 10.3h1.1M-10.6 10.3h1.1M-5.5 10.3h1.1M-0.3 10.3h1.1M5 10.3h1.1M9.9 10.3h1.1M14.9 10.3h1.1M19.4 10.3h1.1M-16.6 14.5h1.1M-12.6 14.5h1.1M-8.6 14.5h1.1M-4.5 14.5h1.1M4 14.5h1.1M8.4 14.5h1.1M12.4 14.5h1.1M16.4 14.5h1.1M-13.6 17.5h1.1M-9.6 17.5h1.1M-0.3 17.5h1.1M6 17.5h1.1M9.9 17.5h1.1M-7 21.2h1.1M-0.3 21.2h1.1M6 21.2h1.1" stroke="#1a1a1a" stroke-width="1.1" fill="none"/>
<circle r="31" fill="none" stroke="#2a2a2a" stroke-width="1.2"/>
<use href="#hfeat"/>
</g>
<g transform="translate(422.2,429.3)">
<circle r="31.9" fill="none" stroke="#e6eef8" stroke-width="1.2"/>
<g clip-path="url(#hclip)"><g filter="url(#tblur)" fill="none" stroke-width="4.1">
<path stroke="#fdefef" d="M-12 -34h24M-20 -30h40M-24 -26h16M4 -26h20M-28 -22h16M8 -22h20M-24 -18h8M12 -18h12M-20 -14h4M16 -14h4M-20 -10h4M16 -10h4M-20 -6h4M12 -6h4M-16 -2h4M-12 2h4M-8 6h12"/>
<path stroke="#fcdfdf" d="M-8 -26h12M-12 -22h4M-16 -18h4M12 -14h4M12 -10h4M-16 -6h4M8 -2h4M4 2h4"/>
<path stroke="#f9bfbf" d="M-8 -22h4M0 -22h4M-12 -18h4M8 -14h4M8 -10h4M4 -2h4"/>
<path stroke="#f7afaf" d="M-4 -22h4M-8 -18h4M4 -18h4M-12 -14h8M4 -14h4M-12 -10h8M4 -10h4M-12 -6h20M-8 -2h12"/>
<path stroke="#facfcf" d="M4 -22h4M8 -18h4M-16 -14h4M-16 -10h4M8 -6h4M-12 -2h4M-8 2h12"/>
<path stroke="#ffffff" d="M-32 -18h8M24 -18h8M-32 -14h12M20 -14h12M-36 -10h16M20 -10h4M-28 -6h8M16 -6h4M-24 -2h8M12 -2h4M-16 2h4M8 2h4M-12 6h4M4 6h4"/>
<path stroke="#f69f9f" d="M-4 -18h8M-4 -14h8M-4 -10h8"/>
<path stroke="#efeffd" d="M24 -10h4M20 -6h4M16 -2h4M-20 2h4M-4 10h4"/>
<path stroke="#afaff7" d="M28 -10h4M-12 10h4M4 10h4"/>
<path stroke="#8f8ff4" d="M32 -10h4M-36 -2h8M-28 2h4M16 2h4M-16 10h4M-8 14h4M0 14h4"/>
<path stroke="#cfcffa" d="M-36 -6h4M-28 -2h4M-16 6h4M-8 10h4"/>
<path stroke="#dfdffc" d="M-32 -6h4M12 2h4M0 10h4"/>
<path stroke="#9f9ff6" d="M24 -6h4M20 -2h4M-20 6h4M-4 14h4"/>
<path stroke="#7070f1" d="M28 -6h4M-20 10h4M8 10h4M4 14h4M-4 18h8"/>
<path stroke="#6060ef" d="M32 -6h4M24 -2h4M-36 2h8M20 2h4M-16 14h4M-8 18h4"/>
<path stroke="#4040ec" d="M28 -2h8M24 2h4M-36 10h12M12 10h4M-24 14h4M8 14h4M-20 18h8M-12 22h8M4 22h4M-4 26h8"/>
<path stroke="#bfbff9" d="M-24 2h4M8 6h4"/>
<path stroke="#3030eb" d="M28 2h8M20 6h8M-32 14h8M-32 18h12M8 18h4M-28 22h4M-20 22h8M8 22h4M-12 26h8M4 26h4M-4 30h8M-4 34h8"/>
<path stroke="#5050ee" d="M-36 6h12M16 6h4M-24 10h4M-20 14h4M-12 18h4M4 18h4M-4 22h8"/>
<path stroke="#8080f2" d="M-24 6h4M12 6h4M-12 14h4"/>
<path stroke="#2020e9" d="M28 6h8M16 10h4M32 10h4M12 14h4M12 18h4M-24 22h4M12 22h4M-24 26h12M8 26h12M-20 30h16M4 30h16M-12 34h8M4 34h8"/>
<path stroke="#1010e8" d="M20 10h12M16 14h4M24 14h8M24 18h8M16 22h12M20 26h4"/>
<path stroke="#0000e6" d="M20 14h4M16 18h8"/>
</g></g>
<path d="M29.5 5.1L27.5 6L21.5 7.1L19 7.9L17 9L15.8 10L14.5 11.6L13.3 14L11.8 21L11.1 23L8.2 27.5L6 29.4M-8 28.9L-13 26.4L-18.5 23.1M24 -0.1L13.9 7.5L4 17.1L2 18.4L0 19L-7 17.3L-10.5 15.8L-22.5 7.4M23.5 -3.7L18.9 0.5L5.5 11.1L2 13.3L0 14.1L-2 13.9L-5.5 13.1L-9.5 11.4L-20.5 4.4L-26 0.3M22.5 -4.8L17.1 0L6 8.6L2.5 10.8L0 11.8L-2.5 11.5L-6 10.5L-13 7L-22 1.1M21.6 -5.5L16 -0.5L6 7.2L2.5 9.2L0 10.2L-2.5 9.9L-5.5 9L-9 7.6L-13 5.4L-22 -0.5M-0.5 5L-3.5 5L-6.5 4.2L-9.5 2.8L-12.4 0.5L-14.4 -2L-16 -5L-16.9 -8L-17.3 -11.5L-16.9 -15L-15.8 -18L-14.3 -20L-10 -24.4L-8 -26.2L-6 -27.3L-3.5 -28.1L-0.5 -28.4L2 -28.2L5 -27.2L7.5 -25.8L10.2 -23.5L13.4 -20L14.3 -18.5L15 -16L15.3 -13L14.9 -9.5L13.9 -6.5L12.2 -3.5L10.3 -1L7.7 1.5L5 3.4L2.5 4.4L-0.5 5M19.5 -19.4L18.5 -19.1L17.5 -19.3L16.6 -20L16.2 -21L16.1 -22.5L16.5 -23.8L17 -24.6M21.2 -21.5L20.8 -20.5L19.5 -19.4M0.5 1.6L-2 1.8L-4.5 1.4L-6.9 0.5L-9 -0.9L-11 -2.8L-12.4 -5L-13.4 -7.5L-13.8 -10L-13.8 -12.5L-13.3 -14.5L-12.5 -16.2L-11.2 -18L-8 -21.3L-6 -22.9L-4 -23.8L-1.5 -24.4L1 -24.3L3 -23.7L5 -22.7L6.5 -21.5L8.3 -19.5L9.9 -17L10.8 -15L11.3 -12.5L11.3 -10.5L10.8 -8L9.7 -5.5L8.4 -3.5L7 -1.9L5 -0.3L2.6 1L0.5 1.6" fill="none" stroke="#6a6a6a" stroke-width="0.55" opacity="0.85"/>
<path d="M-7 -21.8h1.1M-0.3 -21.8h1.1M6.5 -21.8h1.1M-7 -17.2h1.1M6.5 -17.2h1.1M-18.7 -12.2h1.1M-14.2 -12.2h1.1M-9.8 -12.2h1.1M-5.2 -12.2h1.1M-0.3 -12.2h1.1M4.2 -12.2h1.1M9.1 -12.2h1.1M13.6 -12.2h1.1M18.1 -12.2h1.1M-21.9 -7.5h1.1M-16.6 -7.5h1.1M-11.6 -7.5h1.1M-6 -7.5h1.1M-0.3 -7.5h1.1M4.5 -7.5h1.1M9.9 -7.5h1.1M15.4 -7.5h1.1M20.4 -7.5h1.1M-22.6 -1h1.1M-17.6 -1h1.1M-12.1 -1h1.1M-6.5 -1h1.1M-0.3 -1h1.1M5 -1h1.1M10.4 -1h1.1M15.9 -1h1.1M21.4 -1h1.1M-21.6 4.5h1.1M-16.6 4.5h1.1M-0.3 4.5h1.1M15.4 4.5h1.1M20.4 4.5h1.1M-11.6 6.5h1.1M-6.5 6.5h1.1M5 6.5h1.1M10.4 6.5h1.1M-20.6 10.3h1.1M-15.6 10.3h1.1M-10.6 10.3h1.1M-5.5 10.3h1.1M-0.3 10.3h1.1M5 10.3h1.1M9.9 10.3h1.1M14.9 10.3h1.1M19.4 10.3h1.1M-16.6 14.5h1.1M-12.6 14.5h1.1M-8.6 14.5h1.1M-4.5 14.5h1.1M4 14.5h1.1M8.4 14.5h1.1M12.4 14.5h1.1M16.4 14.5h1.1M-13.6 17.5h1.1M-9.6 17.5h1.1M-0.3 17.5h1.1M6 17.5h1.1M9.9 17.5h1.1M-7 21.2h1.1M-0.3 21.2h1.1M6 21.2h1.1" stroke="#1a1a1a" stroke-width="1.1" fill="none"/>
<circle r="31" fill="none" stroke="#2a2a2a" stroke-width="1.2"/>
<use href="#hfeat"/>
</g>
<g transform="translate(499.8,429.5)">
<circle r="31.9" fill="none" stroke="#e6eef8" stroke-width="1.2"/>
<g clip-path="url(#hclip)"><g filter="url(#tblur)" fill="none" stroke-width="4.1">
<path stroke="#fdefef" d="M-12 -34h24M-20 -30h40M-24 -26h48M-28 -22h16M8 -22h16M-32 -18h20M12 -18h12M-32 -14h16M16 -14h8M-20 -10h4M16 -10h4M16 -6h4M12 2h4"/>
<path stroke="#fcdfdf" d="M-12 -22h4M4 -22h4M12 -14h4M12 -2h4M-16 2h4"/>
<path stroke="#facfcf" d="M-8 -22h4M8 -18h4M-16 -14h4M12 -10h4M12 -6h4M-16 -2h4"/>
<path stroke="#f9bfbf" d="M-4 -22h8M-12 -18h4M-16 -10h4M-16 -6h4M8 2h4M4 6h4"/>
<path stroke="#ffffff" d="M24 -22h4M24 -18h8M24 -14h8M-28 -10h8M20 -10h12M-24 -6h8M20 -6h4M-20 -2h4M16 -2h4M-12 6h4M8 6h4"/>
<path stroke="#f48f8f" d="M-8 -18h4M-12 -14h4M8 -10h4M8 -2h4"/>
<path stroke="#f28080" d="M-4 -18h8M-12 -10h4M-12 -6h4M8 -6h4M-12 -2h4M-8 2h4M4 2h4"/>
<path stroke="#f69f9f" d="M4 -18h4M8 -14h4M-4 6h8"/>
<path stroke="#f17070" d="M-8 -14h4M4 -14h4M-8 -2h4M4 -2h4M-4 2h8"/>
<path stroke="#ef6060" d="M-4 -14h8M-8 -10h16M-8 -6h16M-4 -2h8"/>
<path stroke="#cfcffa" d="M-36 -10h4M32 -10h4M-28 -6h4M24 -6h4"/>
<path stroke="#efeffd" d="M-32 -10h4M-4 10h8"/>
<path stroke="#5050ee" d="M-36 -6h4M32 -6h4M-28 -2h4M24 -2h4"/>
<path stroke="#6060ef" d="M-32 -6h4M28 -6h4M-12 10h4M-4 14h8"/>
<path stroke="#0000df" d="M-36 -2h8M28 -2h8M-28 2h4M24 2h4M-12 14h4M8 14h4M-4 18h8"/>
<path stroke="#bfbff9" d="M-24 -2h4M20 -2h4"/>
<path stroke="#0000c4" d="M-36 2h4"/>
<path stroke="#0000bd" d="M-32 2h4M28 2h8M-28 6h4M24 6h4M-12 18h4M8 18h4M-4 22h8"/>
<path stroke="#4040ec" d="M-24 2h4M20 2h4"/>
<path stroke="#afaff7" d="M-20 2h4M16 2h4M-8 10h4M4 10h4"/>
<path stroke="#f7afaf" d="M-12 2h4M-8 6h4"/>
<path stroke="#0000a8" d="M-36 6h8M28 6h8M12 18h4"/>
<path stroke="#0000d8" d="M-24 6h4M20 6h4"/>
<path stroke="#3030eb" d="M-20 6h4M16 6h4M-8 14h4M4 14h4"/>
<path stroke="#8f8ff4" d="M-16 6h4"/>
<path stroke="#9f9ff6" d="M12 6h4"/>
<path stroke="#0000a1" d="M-36 10h12M24 10h12M-24 14h4M20 14h4M-20 18h4M16 18h4M-16 22h8M8 22h4M-8 26h16"/>
<path stroke="#0000b6" d="M-24 10h4M20 10h4M-20 14h4M16 14h4M-8 22h4M4 22h4"/>
<path stroke="#0000d1" d="M-20 10h4M16 10h4M-8 18h4M4 18h4"/>
<path stroke="#1010e8" d="M-16 10h4M12 10h4"/>
<path stroke="#7070f1" d="M8 10h4"/>
<path stroke="#00009a" d="M-32 14h8M24 14h8M-32 18h12M20 18h4M-20 22h4M12 22h4M-12 26h4M8 26h4M-12 30h20M-12 34h24"/>
<path stroke="#0000ca" d="M-16 14h4M12 14h4"/>
<path stroke="#0000af" d="M-16 18h4"/>
<path stroke="#000094" d="M24 18h8M-28 22h8M16 22h12M-24 26h12M12 26h12M-20 30h8M8 30h12"/>
</g></g>
<path d="M21 11.5L14 16.8L6 21.9L2.5 23.4L0 24L-2.5 23.4L-5.5 22.1L-13 17.6L-21 11.5M20.1 8L15 12.1L6 17.6L2.5 19.1L0 19.8L-2.5 19.1L-5.5 17.9L-13 13.4L-20.1 8L-28 1.2M23 2L14 9.5L6 14.2L2.5 15.7L0 16.3L-2.5 15.7L-5.5 14.4L-13 9.9L-18 6.2L-25.5 -0.1M23 0L13.5 7.9L6 12.2L2.5 13.7L0 14.3L-2.5 13.7L-5.5 12.5L-12.5 8.3L-17 5L-25 -1.7M22.5 -1.3L12.5 6.9L5.5 10.9L2.5 12.1L0 12.7L-2.5 12.1L-5.5 10.9L-12 7.1L-24.5 -3.1M22.5 -2.8L11.9 6L5.5 9.6L2.5 10.8L0 11.4L-2.5 10.9L-5.5 9.7L-11.5 6.2L-24.5 -4.6M22.5 -3.8L11.2 5.5L5.5 8.8L2.5 10L0 10.5L-2.5 10L-5.5 8.9L-11 5.7L-25 -6.1M1 9.6L0 9.7L-2 9.4L-6.5 7.6L-10.8 5L-14.8 1.5L-15.6 -0.5L-16.2 -3L-17.1 -10L-16.9 -13L-16.2 -15.5L-14.4 -19L-12 -22.1L-9.5 -24.3L-6.5 -26.2L-3 -27.6L0 -28.1L2.5 -27.6L6 -26.1L9 -24L11.5 -21.5L13.6 -18.5L15.2 -15L16.1 -11.5L16.4 -8.5L16.3 -6L15.8 -3L14.7 1L14.2 2L11.3 4.5L8 6.7L4.5 8.4L1 9.6M2.5 8.1L-0.5 8.4L-3.9 8L-8.9 5.5L-11 3.6L-12.5 1.4L-13.8 -1.5L-14.5 -4.5L-14.8 -8L-14.5 -11L-13.5 -14L-12.2 -16.5L-10.5 -18.5L-8 -20.6L-5.5 -21.9L-2.5 -22.7L0.5 -22.8L3 -22.3L5.5 -21.4L8 -19.7L10 -17.8L11.6 -15.5L12.8 -13L13.6 -10L13.8 -7L13.4 -3.5L12.3 0L11.1 2.5L9.5 4.4L7.5 6L5 7.3L2.5 8.1M2 5.6L0 5.9L-2.5 5.7L-5 5L-7 3.9L-9 2.2L-10.5 0.2L-11.6 -2L-12.2 -4.5L-12.5 -7.5L-12.3 -10L-11.5 -12.5L-10.5 -14.5L-8.9 -16.5L-7 -18.1L-5 -19.2L-2.5 -20L0 -20.1L2 -19.8L4.3 -19L6.5 -17.6L8.2 -16L9.6 -14L10.5 -12L11.2 -9.5L11.4 -7L11.2 -4.5L10.5 -2L9.3 0.5L8 2.2L6.5 3.5L4.5 4.7L2 5.6M0.5 -1L-2 -1.2L-4.5 -2.6L-6.1 -4.5L-6.9 -7L-6.8 -9.5L-5.7 -12L-4 -13.6L-1.5 -14.6L1 -14.5L3.1 -13.5L4.8 -11.5L5.8 -9L5.7 -6L4.5 -3.5L3 -2L0.5 -1" fill="none" stroke="#6a6a6a" stroke-width="0.55" opacity="0.85"/>
<path d="M-7 -21.8h1.1M-0.3 -21.8h1.1M6.5 -21.8h1.1M-7 -17.2h1.1M6.5 -17.2h1.1M-18.7 -12.2h1.1M-14.2 -12.2h1.1M-9.8 -12.2h1.1M-5.2 -12.2h1.1M-0.3 -12.2h1.1M4.2 -12.2h1.1M9.1 -12.2h1.1M13.6 -12.2h1.1M18.1 -12.2h1.1M-21.9 -7.5h1.1M-16.6 -7.5h1.1M-11.6 -7.5h1.1M-6 -7.5h1.1M-0.3 -7.5h1.1M4.5 -7.5h1.1M9.9 -7.5h1.1M15.4 -7.5h1.1M20.4 -7.5h1.1M-22.6 -1h1.1M-17.6 -1h1.1M-12.1 -1h1.1M-6.5 -1h1.1M-0.3 -1h1.1M5 -1h1.1M10.4 -1h1.1M15.9 -1h1.1M21.4 -1h1.1M-21.6 4.5h1.1M-16.6 4.5h1.1M-0.3 4.5h1.1M15.4 4.5h1.1M20.4 4.5h1.1M-11.6 6.5h1.1M-6.5 6.5h1.1M5 6.5h1.1M10.4 6.5h1.1M-20.6 10.3h1.1M-15.6 10.3h1.1M-10.6 10.3h1.1M-5.5 10.3h1.1M-0.3 10.3h1.1M5 10.3h1.1M9.9 10.3h1.1M14.9 10.3h1.1M19.4 10.3h1.1M-16.6 14.5h1.1M-12.6 14.5h1.1M-8.6 14.5h1.1M-4.5 14.5h1.1M4 14.5h1.1M8.4 14.5h1.1M12.4 14.5h1.1M16.4 14.5h1.1M-13.6 17.5h1.1M-9.6 17.5h1.1M-0.3 17.5h1.1M6 17.5h1.1M9.9 17.5h1.1M-7 21.2h1.1M-0.3 21.2h1.1M6 21.2h1.1" stroke="#1a1a1a" stroke-width="1.1" fill="none"/>
<circle r="31" fill="none" stroke="#2a2a2a" stroke-width="1.2"/>
<use href="#hfeat"/>
</g>
<g transform="translate(579.2,430)">
<circle r="31.9" fill="none" stroke="#e6eef8" stroke-width="1.2"/>
<g clip-path="url(#hclip)"><g filter="url(#tblur)" fill="none" stroke-width="4.1">
<path stroke="#fdefef" d="M-12 -34h16M-20 -30h24M-16 -26h8M4 -26h4M-20 -22h8M12 -22h4M-20 -18h4M12 -18h4M-20 -14h4M-20 -6h4M12 -6h4M12 -2h4M-12 2h4M4 2h4"/>
<path stroke="#ffffff" d="M4 -34h8M4 -30h16M-24 -26h8M8 -26h16M-28 -22h8M16 -22h12M-32 -18h12M16 -18h16M-28 -14h8M16 -14h12M-24 -10h4M16 -10h8M16 -6h4M8 2h4M-4 6h8"/>
<path stroke="#fcdfdf" d="M-8 -26h4M0 -26h4M8 -22h4M12 -14h4M-20 -10h4M12 -10h4M-16 -2h4M8 -2h4"/>
<path stroke="#facfcf" d="M-4 -26h4M-16 -18h4M-8 2h12"/>
<path stroke="#f9bfbf" d="M-12 -22h4M4 -22h4M8 -18h4M-16 -6h4M8 -6h4"/>
<path stroke="#f69f9f" d="M-8 -22h12M-12 -18h4M-8 -2h12"/>
<path stroke="#f28080" d="M-8 -18h12M-8 -14h12M-8 -10h12M-4 -6h4"/>
<path stroke="#f48f8f" d="M4 -18h4M-12 -14h4M4 -14h4M-12 -10h4M4 -10h4M-12 -6h8M0 -6h8"/>
<path stroke="#efeffd" d="M-32 -14h4M28 -14h4"/>
<path stroke="#f7afaf" d="M-16 -14h4M8 -14h4M-16 -10h4M8 -10h4M-12 -2h4M4 -2h4"/>
<path stroke="#7070f1" d="M-36 -10h4M32 -10h4M-28 -6h4M-24 -2h4M20 -2h4M-20 2h4M16 2h4M4 10h4"/>
<path stroke="#8f8ff4" d="M-32 -10h4M28 -10h4"/>
<path stroke="#cfcffa" d="M-28 -10h4M24 -10h4M-24 -6h4M20 -6h4M-20 -2h4M-8 6h4M4 6h4"/>
<path stroke="#1010e8" d="M-36 -6h4M32 -6h4M-20 6h4M16 6h4M-16 10h4"/>
<path stroke="#2020e9" d="M-32 -6h4M-28 -2h4M24 -2h4M-24 2h4M20 2h4M-8 14h4M4 14h4"/>
<path stroke="#8080f2" d="M24 -6h4M-8 10h4"/>
<path stroke="#3030eb" d="M28 -6h4"/>
<path stroke="#0000d8" d="M-36 -2h8M28 -2h8M-28 2h4M24 2h4M-24 6h4M20 6h4M-20 10h4M16 10h4M-8 18h4M4 18h4"/>
<path stroke="#bfbff9" d="M16 -2h4M-16 2h4"/>
<path stroke="#0000c4" d="M-36 2h8M-28 6h4M-24 10h4M20 10h4M-20 14h4M16 14h4M-16 18h4M12 18h4M4 22h4M-4 26h4"/>
<path stroke="#afaff7" d="M12 2h4"/>
<path stroke="#0000ca" d="M28 2h8M24 6h4M-12 18h4M8 18h4M-8 22h4M0 22h4"/>
<path stroke="#0000bd" d="M-36 6h4M28 6h8M-12 22h4M8 22h4M-8 26h4M0 26h4"/>
<path stroke="#0000b6" d="M-32 6h4M-36 10h4M-28 10h4M24 10h4M32 10h4M-24 14h4M20 14h4M-20 18h4M16 18h4M-16 22h4M12 22h4M-12 26h4M4 26h4M-12 30h12M-12 34h12"/>
<path stroke="#6060ef" d="M-16 6h4M12 6h4"/>
<path stroke="#9f9ff6" d="M-12 6h4M8 6h4M-4 10h8"/>
<path stroke="#0000af" d="M-32 10h4M28 10h4M-32 14h8M24 14h8M-32 18h4M-24 18h4M20 18h12M-20 22h4M16 22h4M-16 26h4M8 26h8M-20 30h8M0 30h16M0 34h12"/>
<path stroke="#4040ec" d="M-12 10h4M8 10h4M-4 14h8"/>
<path stroke="#0000e6" d="M12 10h4M-12 14h4M8 14h4M-4 18h4"/>
<path stroke="#0000d1" d="M-16 14h4M12 14h4M-4 22h4"/>
<path stroke="#0000a8" d="M-28 18h4M-28 22h8M20 22h8M-24 26h8M16 26h8M16 30h4"/>
<path stroke="#0000df" d="M0 18h4"/>
</g></g>
<path d="M-9 28.5L-9 27L-10.3 25.5L-14.4 21.5L-24 13.2M21 15.9L10 24.7L6 27.1L2 29L0 29.7L-3.5 29.8M22 6.9L13.5 14L8.5 17.3L2 20.4L0 21.1L-2.5 20.5L-5.5 19.1L-14.5 13.3L-21 7.7L-27 1.2M22 1.6L13.5 8.7L6.5 13.3L2.5 15.1L0 15.9L-2.5 15.2L-5.5 13.9L-12.5 9.7L-19.5 3.8M22 -1.3L13.5 5.8L6 10.7L2.5 12.3L0 13L-2.5 12.4L-5.5 11.1L-9 9.2L-12 7.1L-20 0.4M21.5 -3.4L13.5 3.3L6 8.2L2.5 9.9L0 10.5L-2.5 9.9L-6 8.3L-12.5 4.2L-20.5 -2.5M21.5 -5.4L13.5 1.4L6 6.2L2.5 7.9L0 8.6L-3 7.7L-6.5 6.2L-13 2L-22.2 -6M21.5 -6.8L13 0.3L6 4.9L2.5 6.5L0 7.2L-2.5 6.6L-6 5.2L-9.5 3.3L-12.5 1.2L-16 -1.6L-22.8 -8M-0.5 4.6L-3.5 4.7L-6 4L-10 1.8L-13.8 -1L-16.1 -3L-17.1 -4.5L-18.2 -7.5L-18.7 -11L-18.5 -14L-17.8 -17L-16.4 -20L-14.5 -22.5L-12.5 -24.4L-10.5 -25.8L-3.5 -29.7L-2 -30.1L-0.5 -29.7L7 -25.3L11 -22.5L12.6 -20.5L13.8 -18.5L14.8 -15.5L15.3 -12.5L15.1 -9.5L14.4 -6.5L13.3 -4L11.4 -1.5L9.2 0.5L6.5 2.2L3 3.7L-0.5 4.6M-0.5 2L-3.5 2.1L-6 1.7L-8.5 0.7L-11 -0.9L-13 -2.9L-14.5 -5.1L-15.5 -7.5L-16 -10.5L-15.9 -13.5L-15.2 -16L-14 -18.5L-12.5 -20.5L-10.5 -22.3L-8 -23.8L-5 -24.9L-2.5 -25.3L0 -25.2L3 -24.3L5.5 -23.1L7.8 -21.5L9.7 -19.5L11 -17.5L12 -15L12.4 -12.5L12.4 -10L11.9 -7.5L10.7 -5L9.3 -3L7.5 -1.4L5 0.2L2.5 1.3L-0.5 2M-0.5 -1.4L-3 -1.2L-5 -1.5L-6.5 -2L-8.5 -3.1L-10.1 -4.5L-11.5 -6.3L-12.3 -8L-12.8 -10L-12.8 -12L-12.5 -14.1L-11.8 -16L-10.5 -18L-9 -19.5L-7.5 -20.5L-5.4 -21.5L-3 -22L-0.5 -22L1.5 -21.6L3.5 -20.7L5.4 -19.5L6.9 -18L8 -16.3L8.8 -14.5L9.2 -12.5L8.9 -9L8.1 -7L7 -5.5L5.5 -4.1L3.8 -3L-0.5 -1.4" fill="none" stroke="#6a6a6a" stroke-width="0.55" opacity="0.85"/>
<path d="M-7 -21.8h1.1M-0.3 -21.8h1.1M6.5 -21.8h1.1M-7 -17.2h1.1M6.5 -17.2h1.1M-18.7 -12.2h1.1M-14.2 -12.2h1.1M-9.8 -12.2h1.1M-5.2 -12.2h1.1M-0.3 -12.2h1.1M4.2 -12.2h1.1M9.1 -12.2h1.1M13.6 -12.2h1.1M18.1 -12.2h1.1M-21.9 -7.5h1.1M-16.6 -7.5h1.1M-11.6 -7.5h1.1M-6 -7.5h1.1M-0.3 -7.5h1.1M4.5 -7.5h1.1M9.9 -7.5h1.1M15.4 -7.5h1.1M20.4 -7.5h1.1M-22.6 -1h1.1M-17.6 -1h1.1M-12.1 -1h1.1M-6.5 -1h1.1M-0.3 -1h1.1M5 -1h1.1M10.4 -1h1.1M15.9 -1h1.1M21.4 -1h1.1M-21.6 4.5h1.1M-16.6 4.5h1.1M-0.3 4.5h1.1M15.4 4.5h1.1M20.4 4.5h1.1M-11.6 6.5h1.1M-6.5 6.5h1.1M5 6.5h1.1M10.4 6.5h1.1M-20.6 10.3h1.1M-15.6 10.3h1.1M-10.6 10.3h1.1M-5.5 10.3h1.1M-0.3 10.3h1.1M5 10.3h1.1M9.9 10.3h1.1M14.9 10.3h1.1M19.4 10.3h1.1M-16.6 14.5h1.1M-12.6 14.5h1.1M-8.6 14.5h1.1M-4.5 14.5h1.1M4 14.5h1.1M8.4 14.5h1.1M12.4 14.5h1.1M16.4 14.5h1.1M-13.6 17.5h1.1M-9.6 17.5h1.1M-0.3 17.5h1.1M6 17.5h1.1M9.9 17.5h1.1M-7 21.2h1.1M-0.3 21.2h1.1M6 21.2h1.1" stroke="#1a1a1a" stroke-width="1.1" fill="none"/>
<circle r="31" fill="none" stroke="#2a2a2a" stroke-width="1.2"/>
<use href="#hfeat"/>
</g>
<g transform="translate(419.3,571)">
<circle r="31.9" fill="none" stroke="#e6eef8" stroke-width="1.2"/>
<g clip-path="url(#hclip)"><g filter="url(#tblur)" fill="none" stroke-width="4.1">
<path stroke="#fdefef" d="M-12 -34h24M-20 -30h40M-20 -26h8M8 -26h16M-28 -22h8M12 -22h8M-32 -18h12M16 -18h4M-32 -14h12M16 -14h4M-28 -10h8M16 -10h8M-24 -6h4M16 -6h4M-20 -2h4M12 -2h4M4 2h4"/>
<path stroke="#ffffff" d="M-24 -26h4M-12 -26h20M-20 -22h8M8 -22h4M-20 -18h4M12 -18h4M-20 -14h4M12 -14h4M-20 -10h4M-20 -6h4M12 -6h4M-16 -2h4M8 -2h4M0 6h4"/>
<path stroke="#efeffd" d="M-12 -22h4M4 -22h4M-16 -18h4M8 -18h4M12 -10h4M-16 -6h4M-4 2h8"/>
<path stroke="#dfdffc" d="M-8 -22h12M-12 -18h4M-16 -14h4M8 -14h4M-16 -10h4M8 -10h4M8 -6h4M-12 -2h8M4 -2h4"/>
<path stroke="#fcdfdf" d="M20 -22h8M20 -18h12M20 -14h12M-36 -10h8M24 -10h12M-28 -6h4M20 -6h8M16 -2h4M-12 2h8"/>
<path stroke="#cfcffa" d="M-8 -18h16M-12 -14h20M-12 -10h20M-12 -6h20M-4 -2h8"/>
<path stroke="#f9bfbf" d="M-36 -6h4M28 -6h8M-28 -2h4M-20 2h4M12 2h4M0 10h4"/>
<path stroke="#facfcf" d="M-32 -6h4M-24 -2h4M20 -2h4M-16 2h4M8 2h4M-4 6h4"/>
<path stroke="#f69f9f" d="M-36 -2h8M-28 2h8M20 2h4M-20 6h8M-12 10h12"/>
<path stroke="#f7afaf" d="M24 -2h4M16 2h4M-12 6h4M4 6h4"/>
<path stroke="#f48f8f" d="M28 -2h8M-36 2h8M24 2h12M-28 6h8M12 6h16M-24 10h12M-16 14h16"/>
<path stroke="#f28080" d="M-36 6h8M-8 6h4M28 6h8M-36 10h12M4 10h4M16 10h20M-32 14h16M0 14h4M20 14h4M28 14h4M-32 18h32M-8 22h8"/>
<path stroke="#ef6060" d="M8 6h4M12 14h4M8 18h8"/>
<path stroke="#f17070" d="M8 10h8M4 14h4M16 14h4M24 14h4M0 18h8M16 18h16M-28 22h20M0 22h28M-24 26h48M-20 30h40M-12 34h24"/>
<path stroke="#ee5050" d="M8 14h4"/>
</g></g>
<path d="M1.4 -5L5 -6.9L6.5 -8.4L7.2 -9.5L7.3 -10.5L7.1 -12.5L5.5 -15.8L3.5 -17.6L2 -18.3L0.5 -18.5L-2.8 -18L-5.3 -17L-7 -16L-8.7 -14L-9.8 -11.5L-9.8 -10L-8.7 -8L-7 -6.3L-4.5 -5L-1.5 -4.5L1.4 -5M2.5 2L3.5 1.5L9 -3L11.7 -6L12.4 -7.5L12.8 -9.5L12.8 -11.5L12.3 -13.5L11.3 -16.5L9.9 -19L8 -21.3L6 -22.8L3.5 -23.9L1 -24.5L-2 -24.5L-5 -23.9L-7.5 -22.9L-9.9 -21.5L-11.6 -20L-13.3 -18L-14.6 -15.5L-15.6 -12.5L-15.8 -10.5L-15.4 -8.5L-14.6 -6.5L-13 -4L-11.2 -2L-9.5 -0.6L0 2.2L1.5 2.4L2.5 2M-26.1 -12.5L-23.1 -7.5L-20.9 -4.5L-18.9 -2.5L-11 1.5L-9.5 1.7L-6.5 1.5L-4.5 2.1L-1.5 4.2L0.4 7L1.5 7.7L2 7.7L2.9 7L4.2 4L5.5 2.7L11.9 -0.5L16.6 -3.5L18.3 -5.5L19.4 -8L19.4 -11L18.8 -13L17.5 -15.4L16.9 -17L16.5 -22.5L15.9 -24.5L14.7 -26.5M-22 -1.3L-17.5 1L-13 3L-11 3.5L-7.5 2.2L-5.3 2.5L-4 3.5L0 8.7L1.5 9.4L2.5 9.2L3.4 8.5L5.9 4.5L8 2.8L10 2L15.5 1.1L19 -0.2L22.5 -2.2M-25.5 1.2L-18.5 5.6L-15 7.6L-12 8.6L-10 8.9L-8.7 8.5L-9.2 7L-8.8 4.5L-7.5 3.2L-6 3.2L-4.9 4L-4.5 5L-4.6 7.5L-5.1 8.5L-4.8 9L-1 11L1 11.5L2.5 11.3L4.3 10L7.7 5L9 3.8L10 3.4L11 3.3L14 4.6L15 4.8L19 4L23 1.9M10.5 7L10 6.9L9.6 6.5L9.6 6L10 5.4L10.5 5.3L11 5.5L11.2 6L11.2 6.5L10.5 7M11 20L9 19.6L7.5 18.8L6.2 17.5L5.8 16L6.3 14L7.9 12L9.5 11L11.5 10.6L13.2 11L15 12L16.5 13.8L16.6 15L16.1 17L15 18.5L13 19.7L11 20" fill="none" stroke="#6a6a6a" stroke-width="0.55" opacity="0.85"/>
<ellipse cx="-6.2" cy="4.6" rx="2.8" ry="2.8" fill="#dd5a5a" filter="url(#gblur2)"/>
<ellipse cx="10.5" cy="6" rx="2.2" ry="3.5" fill="#e88080" filter="url(#gblur2)"/>
<path d="M-7 -21.8h1.1M-0.3 -21.8h1.1M6.5 -21.8h1.1M-7 -17.2h1.1M6.5 -17.2h1.1M-18.7 -12.2h1.1M-14.2 -12.2h1.1M-9.8 -12.2h1.1M-5.2 -12.2h1.1M-0.3 -12.2h1.1M4.2 -12.2h1.1M9.1 -12.2h1.1M13.6 -12.2h1.1M18.1 -12.2h1.1M-21.9 -7.5h1.1M-16.6 -7.5h1.1M-11.6 -7.5h1.1M-6 -7.5h1.1M-0.3 -7.5h1.1M4.5 -7.5h1.1M9.9 -7.5h1.1M15.4 -7.5h1.1M20.4 -7.5h1.1M-22.6 -1h1.1M-17.6 -1h1.1M-12.1 -1h1.1M-6.5 -1h1.1M-0.3 -1h1.1M5 -1h1.1M10.4 -1h1.1M15.9 -1h1.1M21.4 -1h1.1M-21.6 4.5h1.1M-16.6 4.5h1.1M-0.3 4.5h1.1M15.4 4.5h1.1M20.4 4.5h1.1M-11.6 6.5h1.1M-6.5 6.5h1.1M5 6.5h1.1M10.4 6.5h1.1M-20.6 10.3h1.1M-15.6 10.3h1.1M-10.6 10.3h1.1M-5.5 10.3h1.1M-0.3 10.3h1.1M5 10.3h1.1M9.9 10.3h1.1M14.9 10.3h1.1M19.4 10.3h1.1M-16.6 14.5h1.1M-12.6 14.5h1.1M-8.6 14.5h1.1M-4.5 14.5h1.1M4 14.5h1.1M8.4 14.5h1.1M12.4 14.5h1.1M16.4 14.5h1.1M-13.6 17.5h1.1M-9.6 17.5h1.1M-0.3 17.5h1.1M6 17.5h1.1M9.9 17.5h1.1M-7 21.2h1.1M-0.3 21.2h1.1M6 21.2h1.1" stroke="#1a1a1a" stroke-width="1.1" fill="none"/>
<circle r="31" fill="none" stroke="#2a2a2a" stroke-width="1.2"/>
<use href="#hfeat"/>
</g>
<g transform="translate(497.7,571)">
<circle r="31.9" fill="none" stroke="#e6eef8" stroke-width="1.2"/>
<g clip-path="url(#hclip)"><g filter="url(#tblur)" fill="none" stroke-width="4.1">
<path stroke="#ffffff" d="M-12 -34h24M-12 -30h20M-12 -26h8M8 -26h4M-28 -22h16M12 -22h4M-28 -18h12M16 -18h4M-24 -14h4M16 -14h4M-20 -10h4M16 -10h4M12 -2h4M-4 2h8"/>
<path stroke="#fdefef" d="M-20 -30h8M8 -30h12M-24 -26h12M12 -26h12M16 -22h12M-32 -18h4M20 -18h12M-32 -14h8M20 -14h4M-28 -10h8M20 -10h4M-20 -6h4M16 -6h4M-16 -2h4M-8 2h4M4 2h4"/>
<path stroke="#efeffd" d="M-4 -26h12M-12 -22h4M8 -22h4M-16 -18h4M12 -18h4M-20 -14h4M-16 -6h4M-12 -2h4"/>
<path stroke="#dfdffc" d="M-8 -22h4M-16 -14h4M12 -14h4M-16 -10h4M12 -10h4M12 -6h4M-8 -2h4M8 -2h4"/>
<path stroke="#cfcffa" d="M-4 -22h12M-12 -18h4M8 -18h4M-12 -6h4M8 -6h4M-4 -2h12"/>
<path stroke="#bfbff9" d="M-8 -18h16M-12 -14h24M-12 -10h24M-8 -6h16"/>
<path stroke="#fcdfdf" d="M24 -14h8M-36 -10h8M24 -10h4M-28 -6h8M20 -6h4M-20 -2h4M16 -2h4M8 2h4"/>
<path stroke="#facfcf" d="M28 -10h8M24 -6h4M-12 2h4"/>
<path stroke="#f69f9f" d="M-36 -6h4M32 -6h4M-4 6h8"/>
<path stroke="#f7afaf" d="M-32 -6h4M28 -6h4M-16 2h4M12 2h4"/>
<path stroke="#f17070" d="M-36 -2h8M28 -2h8M-28 2h4M24 2h4M-20 6h4M12 6h8M-4 10h8"/>
<path stroke="#f48f8f" d="M-28 -2h4M24 -2h4M-20 2h4M16 2h4M-8 6h4M4 6h4"/>
<path stroke="#f9bfbf" d="M-24 -2h4M20 -2h4"/>
<path stroke="#ef6060" d="M-36 2h8M28 2h8M-24 6h4M20 6h4M-16 10h12M4 10h4"/>
<path stroke="#f28080" d="M-24 2h4M20 2h4M-16 6h8M8 6h4"/>
<path stroke="#ee5050" d="M-36 6h4M-28 6h4M24 6h4M32 6h4M-20 10h4M8 10h12M-4 14h8"/>
<path stroke="#ec4040" d="M-32 6h4M28 6h4M-36 10h16M20 10h16M-32 14h28M20 14h12M-32 18h20M-8 18h12M20 18h12M-28 22h32M24 22h4M-24 26h32M12 26h4M-20 30h20M12 30h8M-12 34h12"/>
<path stroke="#eb3030" d="M4 14h4M16 14h4M-12 18h4M4 18h4M16 18h4M4 22h4M12 22h12M8 26h4M16 26h8M0 30h12M0 34h12"/>
<path stroke="#e81010" d="M8 14h8M8 18h8"/>
<path stroke="#e92020" d="M8 22h4"/>
</g></g>
<path d="M4.2 -3L6.5 -3.8L8.5 -5L10.2 -6.5L11.6 -8.5L12.4 -10.5L12.5 -11.5L12 -13.7L11 -16L9.5 -18.2L7.6 -20L5.5 -21.3L3.6 -22L1.5 -22.3L-1 -22.1L-3.2 -21.5L-5.4 -20.5L-8.7 -18L-11 -14.8L-11.7 -13L-11.9 -11.5L-11.8 -10.5L-11.1 -9L-8.5 -5.9L-6.5 -4.5L-4.5 -3.5L-2.5 -2.9L0 -2.6L4.2 -3M4.6 1L7.5 0.1L10 -1.2L12.3 -3L14 -5L15.5 -7.5L16.3 -10L16.7 -12.5L16.3 -14.5L15.3 -17L13.5 -19.5L11 -22L8 -24.1L5 -25.5L2.5 -26.1L0 -26.1L-2.5 -25.6L-5.5 -24.6L-8 -23.4L-10.5 -21.7L-12.4 -20L-14.1 -18L-15.8 -15.5L-16.7 -13L-16.6 -11.5L-15.3 -8.5L-13.3 -5.5L-10.9 -3L-8.2 -1L-5 0.5L-2 1.2L1.5 1.4L4.6 1M-25.9 -12L-24.1 -9.5L-22 -7.5L-13.4 -0.5L-6.5 2L-3 2.6L0.5 2.8L4 2.6L8 1.8L11.5 0.6L15 -1L17 -3L18.4 -5L22 -12.6L24.3 -16L24.7 -17.5M-23.5 -3.8L-18 -0.9L-13.5 1.1L-6.5 3.3L-3 3.9L0.5 4.1L3.5 3.9L7 3.3L13.5 1.2L21 -2.5M-27.4 -3.5L-20.5 0.3L-14.5 3L-7 5.2L-3 5.8L0.5 5.9L3.5 5.7L7.5 5.1L15.5 2.7L22.5 -0.7M-20.4 6L-16 8L-11 9.4L0 11.3L2 11L9 8.4L16.5 7.2L19.5 6.4L24.5 4M13 22L11 22.2L9.5 21.8L8 20.8L6.7 19L6.3 17L6.6 15L8 13.7L9.5 12.9L12 12.4L15 12.8L16.4 14L17.2 15.5L17.4 17.5L16.8 19.5L15.4 21L13 22" fill="none" stroke="#6a6a6a" stroke-width="0.55" opacity="0.85"/>
<path d="M-7 -21.8h1.1M-0.3 -21.8h1.1M6.5 -21.8h1.1M-7 -17.2h1.1M6.5 -17.2h1.1M-18.7 -12.2h1.1M-14.2 -12.2h1.1M-9.8 -12.2h1.1M-5.2 -12.2h1.1M-0.3 -12.2h1.1M4.2 -12.2h1.1M9.1 -12.2h1.1M13.6 -12.2h1.1M18.1 -12.2h1.1M-21.9 -7.5h1.1M-16.6 -7.5h1.1M-11.6 -7.5h1.1M-6 -7.5h1.1M-0.3 -7.5h1.1M4.5 -7.5h1.1M9.9 -7.5h1.1M15.4 -7.5h1.1M20.4 -7.5h1.1M-22.6 -1h1.1M-17.6 -1h1.1M-12.1 -1h1.1M-6.5 -1h1.1M-0.3 -1h1.1M5 -1h1.1M10.4 -1h1.1M15.9 -1h1.1M21.4 -1h1.1M-21.6 4.5h1.1M-16.6 4.5h1.1M-0.3 4.5h1.1M15.4 4.5h1.1M20.4 4.5h1.1M-11.6 6.5h1.1M-6.5 6.5h1.1M5 6.5h1.1M10.4 6.5h1.1M-20.6 10.3h1.1M-15.6 10.3h1.1M-10.6 10.3h1.1M-5.5 10.3h1.1M-0.3 10.3h1.1M5 10.3h1.1M9.9 10.3h1.1M14.9 10.3h1.1M19.4 10.3h1.1M-16.6 14.5h1.1M-12.6 14.5h1.1M-8.6 14.5h1.1M-4.5 14.5h1.1M4 14.5h1.1M8.4 14.5h1.1M12.4 14.5h1.1M16.4 14.5h1.1M-13.6 17.5h1.1M-9.6 17.5h1.1M-0.3 17.5h1.1M6 17.5h1.1M9.9 17.5h1.1M-7 21.2h1.1M-0.3 21.2h1.1M6 21.2h1.1" stroke="#1a1a1a" stroke-width="1.1" fill="none"/>
<circle r="31" fill="none" stroke="#2a2a2a" stroke-width="1.2"/>
<use href="#hfeat"/>
</g>
<g transform="translate(575.4,571)">
<circle r="31.9" fill="none" stroke="#e6eef8" stroke-width="1.2"/>
<g clip-path="url(#hclip)"><g filter="url(#tblur)" fill="none" stroke-width="4.1">
<path stroke="#ffffff" d="M-12 -34h24M-20 -30h40M-24 -26h12M12 -26h12M-28 -22h12M16 -22h8M-24 -18h8M16 -18h8M-24 -14h4M16 -14h4M-20 -10h4M16 -10h4M-20 -6h4M16 -6h4M-16 -2h4M12 -2h4M-8 2h4M4 2h4"/>
<path stroke="#efeffd" d="M-12 -26h8M4 -26h8M-16 -22h4M12 -22h4M-20 -14h4M-16 -6h4M-12 -2h4M-4 2h8"/>
<path stroke="#dfdffc" d="M-4 -26h8M-12 -22h4M8 -22h4M-16 -18h4M12 -18h4M-16 -14h4M12 -14h4M-16 -10h4M12 -10h4M12 -6h4M-8 -2h4M4 -2h8"/>
<path stroke="#cfcffa" d="M-8 -22h16M-12 -18h24M-12 -14h24M-12 -10h24M-12 -6h24M-4 -2h8"/>
<path stroke="#fdefef" d="M24 -22h4M-32 -18h8M24 -18h8M-32 -14h8M20 -14h12M-28 -10h8M20 -10h8M-24 -6h4M20 -6h4M-20 -2h4M16 -2h4M-12 2h4M8 2h4"/>
<path stroke="#fcdfdf" d="M-36 -10h8M28 -10h8M-28 -6h4M24 -6h4M20 -2h4M-16 2h4M12 2h4"/>
<path stroke="#facfcf" d="M-36 -6h8M28 -6h8M-28 -2h8M-20 2h4M16 2h4M-8 6h16"/>
<path stroke="#f9bfbf" d="M-36 -2h8M24 -2h4M-24 2h4M20 2h4M-16 6h8M8 6h4"/>
<path stroke="#f7afaf" d="M28 -2h8M-36 2h12M24 2h4M-20 6h4M12 6h8M-8 10h12"/>
<path stroke="#f69f9f" d="M28 2h8M-28 6h8M20 6h8M-16 10h8M4 10h12M-8 14h8"/>
<path stroke="#f48f8f" d="M-36 6h8M28 6h8M-36 10h4M-28 10h12M16 10h12M32 10h4M-16 14h8M0 14h8M-8 18h8"/>
<path stroke="#f28080" d="M-32 10h4M28 10h4M-32 14h16M8 14h24M-32 18h24M0 18h8M-16 22h16"/>
<path stroke="#f17070" d="M8 18h4M20 18h12M-28 22h12M0 22h8M24 22h4M-24 26h28M-20 30h20M-12 34h12"/>
<path stroke="#ef6060" d="M12 18h8M8 22h16M4 26h8M20 26h4M0 30h12M0 34h12"/>
<path stroke="#ee5050" d="M12 26h8M12 30h8"/>
</g></g>
<path d="M2.5 -6.5L5.1 -7.5L7.7 -10L8.3 -14L8.1 -15.5L7.5 -17L5.5 -19.1L2.5 -20.6L-1 -20.9L-4.5 -20L-7 -18.1L-8.5 -15.8L-9.2 -13L-8.9 -10L-6.7 -7.5L-4.5 -6.3L-2 -6L2.5 -6.5M4.3 1.5L6.5 1L9.5 -0.5L12.9 -3L14.8 -5L15.6 -7L16.4 -12L16.1 -15L15.4 -17.5L14 -20.1L12 -22.6L9.5 -24.7L6.5 -26.3L3.5 -27.2L0 -27.6L-3.5 -27.3L-6.5 -26.5L-9 -25.2L-11.5 -23.3L-13.6 -21L-15.2 -18.5L-16.2 -16L-16.7 -13.5L-16.6 -12L-15.8 -9L-14.4 -6L-12.5 -3.2L-10.7 -1.5L-8.5 -0.1L-5.8 1L-3 1.6L0.5 1.8L4.3 1.5M-27.5 -13L-22 -7.5L-17.8 -2L-15.5 -0.2L-12.5 1.5L-8 3.1L-3.5 4.1L1 4.3L5 3.9L9 2.8L17.5 -0.9L20.1 -2.5L21.6 -4L23 -9.4L24.5 -12.3M-27 -2.7L-22 -0.6L-14 3.9L-6.5 6L0 6.7L4 6.4L8 5.6L17.5 2.2L21.9 0M-28.5 4.4L-18.5 7.9L-11 11.3L-6.5 12.4L-2 12.7L3.5 12L20.3 7.5L25 5.5M3 29.4L4.8 27.5L7.5 23L9 21.1L10.9 19.5L13 18.5L15 18.1L17.5 18.2L20 18.8" fill="none" stroke="#6a6a6a" stroke-width="0.55" opacity="0.85"/>
<path d="M-7 -21.8h1.1M-0.3 -21.8h1.1M6.5 -21.8h1.1M-7 -17.2h1.1M6.5 -17.2h1.1M-18.7 -12.2h1.1M-14.2 -12.2h1.1M-9.8 -12.2h1.1M-5.2 -12.2h1.1M-0.3 -12.2h1.1M4.2 -12.2h1.1M9.1 -12.2h1.1M13.6 -12.2h1.1M18.1 -12.2h1.1M-21.9 -7.5h1.1M-16.6 -7.5h1.1M-11.6 -7.5h1.1M-6 -7.5h1.1M-0.3 -7.5h1.1M4.5 -7.5h1.1M9.9 -7.5h1.1M15.4 -7.5h1.1M20.4 -7.5h1.1M-22.6 -1h1.1M-17.6 -1h1.1M-12.1 -1h1.1M-6.5 -1h1.1M-0.3 -1h1.1M5 -1h1.1M10.4 -1h1.1M15.9 -1h1.1M21.4 -1h1.1M-21.6 4.5h1.1M-16.6 4.5h1.1M-0.3 4.5h1.1M15.4 4.5h1.1M20.4 4.5h1.1M-11.6 6.5h1.1M-6.5 6.5h1.1M5 6.5h1.1M10.4 6.5h1.1M-20.6 10.3h1.1M-15.6 10.3h1.1M-10.6 10.3h1.1M-5.5 10.3h1.1M-0.3 10.3h1.1M5 10.3h1.1M9.9 10.3h1.1M14.9 10.3h1.1M19.4 10.3h1.1M-16.6 14.5h1.1M-12.6 14.5h1.1M-8.6 14.5h1.1M-4.5 14.5h1.1M4 14.5h1.1M8.4 14.5h1.1M12.4 14.5h1.1M16.4 14.5h1.1M-13.6 17.5h1.1M-9.6 17.5h1.1M-0.3 17.5h1.1M6 17.5h1.1M9.9 17.5h1.1M-7 21.2h1.1M-0.3 21.2h1.1M6 21.2h1.1" stroke="#1a1a1a" stroke-width="1.1" fill="none"/>
<circle r="31" fill="none" stroke="#2a2a2a" stroke-width="1.2"/>
<use href="#hfeat"/>
</g>
<g transform="translate(418.9,668)">
<circle r="31.9" fill="none" stroke="#e6eef8" stroke-width="1.2"/>
<g clip-path="url(#hclip)"><g filter="url(#tblur)" fill="none" stroke-width="4.1">
<path stroke="#ffffff" d="M-12 -34h24M-8 -30h28M-8 -26h24M-28 -22h8M-12 -22h24M-24 -18h12M4 -18h8M4 -14h8"/>
<path stroke="#fdefef" d="M-20 -30h12M-24 -26h16M-20 -22h8"/>
<path stroke="#efeffd" d="M16 -26h8M12 -22h16M-32 -18h8M-12 -18h16M12 -18h20M-32 -14h20M-8 -14h12M12 -14h20M-36 -10h72M-36 -6h16M0 -6h36M-8 30h4M-8 34h4"/>
<path stroke="#dfdffc" d="M-12 -14h4M-20 -6h20M-36 -2h72M-36 2h12M16 2h20M-36 6h12M20 6h16M-36 10h12M20 10h16M-32 14h16M16 14h16M-32 18h28M12 18h20M-28 22h28M8 22h20M-24 26h48M-20 30h12M-4 30h24M-12 34h4M-4 34h16"/>
<path stroke="#cfcffa" d="M-24 2h20M4 2h12M-24 6h8M12 6h8M-24 10h8M16 10h4M-16 14h12M12 14h4M-4 18h16M0 22h8"/>
<path stroke="#bfbff9" d="M-4 2h8M-16 6h16M4 6h8M-16 10h12M12 10h4M-4 14h16"/>
<path stroke="#afaff7" d="M0 6h4M-4 10h16"/>
</g></g>
<path d="M3.7 19.5L7.3 17L12 14.6L14 13L15.2 11.5L16.1 9.5L16.1 7.5L15.1 5.5L13.5 4.1L11 2.7L8.5 1.9L5 1.1L1 0.8L-9.5 1.2L-15.5 0.8L-17.5 1.4L-18.8 2.5L-19.6 4.5L-19.6 6.5L-18.8 8.5L-16.9 10.5L-15.2 11.5L-13 12.3L-6 13.6L-3.5 14.4L-0.2 16.5L2.5 19.3L3.7 19.5M24.4 -17.5L23.5 -15.5L22.9 -13.5L22 -12.4L20.5 -11.9L15.5 -11.3L10 -10L6 -9.9L1.5 -11.2L-0.5 -12.4L-2.8 -15.5L-4 -16.5L-5.9 -17.5L-7.5 -17.8L-9.5 -17.7L-11.2 -17L-13.3 -15.5L-16 -12.6L-18 -11.7L-21.5 -11.3" fill="none" stroke="#6a6a6a" stroke-width="0.55" opacity="0.85"/>
<circle cx="-5.7" cy="4.6" r="4.6" fill="#b4aeae" filter="url(#gblur)"/>
<circle cx="-5.7" cy="4.6" r="1.7" fill="#d06868" filter="url(#gblur2)"/>
<circle cx="10.4" cy="4" r="2.2" fill="#fafafa" stroke="#999" stroke-width="0.45"/>
<path d="M-7 -21.8h1.1M-0.3 -21.8h1.1M6.5 -21.8h1.1M-7 -17.2h1.1M6.5 -17.2h1.1M-18.7 -12.2h1.1M-14.2 -12.2h1.1M-9.8 -12.2h1.1M-5.2 -12.2h1.1M-0.3 -12.2h1.1M4.2 -12.2h1.1M9.1 -12.2h1.1M13.6 -12.2h1.1M18.1 -12.2h1.1M-21.9 -7.5h1.1M-16.6 -7.5h1.1M-11.6 -7.5h1.1M-6 -7.5h1.1M-0.3 -7.5h1.1M4.5 -7.5h1.1M9.9 -7.5h1.1M15.4 -7.5h1.1M20.4 -7.5h1.1M-22.6 -1h1.1M-17.6 -1h1.1M-12.1 -1h1.1M-6.5 -1h1.1M-0.3 -1h1.1M5 -1h1.1M10.4 -1h1.1M15.9 -1h1.1M21.4 -1h1.1M-21.6 4.5h1.1M-16.6 4.5h1.1M-0.3 4.5h1.1M15.4 4.5h1.1M20.4 4.5h1.1M-11.6 6.5h1.1M-6.5 6.5h1.1M5 6.5h1.1M10.4 6.5h1.1M-20.6 10.3h1.1M-15.6 10.3h1.1M-10.6 10.3h1.1M-5.5 10.3h1.1M-0.3 10.3h1.1M5 10.3h1.1M9.9 10.3h1.1M14.9 10.3h1.1M19.4 10.3h1.1M-16.6 14.5h1.1M-12.6 14.5h1.1M-8.6 14.5h1.1M-4.5 14.5h1.1M4 14.5h1.1M8.4 14.5h1.1M12.4 14.5h1.1M16.4 14.5h1.1M-13.6 17.5h1.1M-9.6 17.5h1.1M-0.3 17.5h1.1M6 17.5h1.1M9.9 17.5h1.1M-7 21.2h1.1M-0.3 21.2h1.1M6 21.2h1.1" stroke="#1a1a1a" stroke-width="1.1" fill="none"/>
<circle r="31" fill="none" stroke="#2a2a2a" stroke-width="1.2"/>
<use href="#hfeat"/>
</g>
<g transform="translate(497,668)">
<circle r="31.9" fill="none" stroke="#e6eef8" stroke-width="1.2"/>
<g clip-path="url(#hclip)"><g filter="url(#tblur)" fill="none" stroke-width="4.1">
<path stroke="#fdefef" d="M-12 -34h24M-20 -30h40M-24 -26h48M-28 -22h12M-8 -22h36M-32 -18h12M4 -18h28M-24 -14h8M0 -14h28M-16 -10h16M12 -10h4"/>
<path stroke="#fcdfdf" d="M-16 -22h8M-20 -18h24M-16 -14h16"/>
<path stroke="#ffffff" d="M-32 -14h8M28 -14h4M-24 -10h8M0 -10h12M16 -10h16"/>
<path stroke="#efeffd" d="M-36 -10h12M32 -10h4M-24 -6h56"/>
<path stroke="#dfdffc" d="M-36 -6h12M32 -6h4M-24 -2h52"/>
<path stroke="#cfcffa" d="M-36 -2h12M28 -2h8M-12 2h28"/>
<path stroke="#bfbff9" d="M-36 2h24M16 2h20"/>
<path stroke="#9f9ff6" d="M-36 6h12M24 6h12M-36 10h36M20 10h16M-8 26h8M-4 30h4M-8 34h8"/>
<path stroke="#afaff7" d="M-24 6h48"/>
<path stroke="#8f8ff4" d="M0 10h8M16 10h4M-32 14h36M20 14h12M-32 18h36M28 18h4M-28 22h36M-24 26h16M0 26h4M-20 30h16M0 30h4M-12 34h4M0 34h4"/>
<path stroke="#8080f2" d="M8 10h8M4 14h4M16 14h4M4 18h4M20 18h8M8 22h20M4 26h20M4 30h16M4 34h8"/>
<path stroke="#6060ef" d="M8 14h4"/>
<path stroke="#7070f1" d="M12 14h4M8 18h12"/>
</g></g>
<path d="M12.4 15.5L12.8 15L12.3 14L11.5 13.8L10.7 14L10.4 14.5L11 15.4L12.4 15.5M22 7.8L9 7.5L4.5 7.9L-3.5 9.2L-11 9.6L-15 9.3M-1 28.5L-3 28.8L-4.6 28L-5.3 26.5L-4.6 25L-3.5 24.3L-2 24L-1 24.2L0 24.9L0.5 26L0.3 27L-1 28.5M22.5 0.4L15 1.3L-5.5 1.9L-8 1.7L-13 0.7L-20 0.6M22.5 -5.8L13.5 -4.7L4 -4.2L-5 -4.2L-17.5 -5.3L-21 -6.2L-27 -8.6M18.6 -19L18.2 -18L18.1 -16.5L15 -13.5L14 -12.9L12.5 -12.9L9 -14.5L7 -14.7L-3 -11.8L-7 -11.4L-10.5 -11.6L-14 -12.3L-17 -13.4L-20.3 -15.5L-22.3 -17L-22.7 -17.5L-22.8 -20M-17.5 -24.8L-13.5 -25.8L-12 -25.9L-10.5 -25.5L-7.1 -22.5L-5.1 -21.5L-3.5 -21.4L0 -21.7L4 -20.8L5.5 -20.9L6.9 -22.5L10 -28.8" fill="none" stroke="#6a6a6a" stroke-width="0.55" opacity="0.85"/>
<path d="M-7 -21.8h1.1M-0.3 -21.8h1.1M6.5 -21.8h1.1M-7 -17.2h1.1M6.5 -17.2h1.1M-18.7 -12.2h1.1M-14.2 -12.2h1.1M-9.8 -12.2h1.1M-5.2 -12.2h1.1M-0.3 -12.2h1.1M4.2 -12.2h1.1M9.1 -12.2h1.1M13.6 -12.2h1.1M18.1 -12.2h1.1M-21.9 -7.5h1.1M-16.6 -7.5h1.1M-11.6 -7.5h1.1M-6 -7.5h1.1M-0.3 -7.5h1.1M4.5 -7.5h1.1M9.9 -7.5h1.1M15.4 -7.5h1.1M20.4 -7.5h1.1M-22.6 -1h1.1M-17.6 -1h1.1M-12.1 -1h1.1M-6.5 -1h1.1M-0.3 -1h1.1M5 -1h1.1M10.4 -1h1.1M15.9 -1h1.1M21.4 -1h1.1M-21.6 4.5h1.1M-16.6 4.5h1.1M-0.3 4.5h1.1M15.4 4.5h1.1M20.4 4.5h1.1M-11.6 6.5h1.1M-6.5 6.5h1.1M5 6.5h1.1M10.4 6.5h1.1M-20.6 10.3h1.1M-15.6 10.3h1.1M-10.6 10.3h1.1M-5.5 10.3h1.1M-0.3 10.3h1.1M5 10.3h1.1M9.9 10.3h1.1M14.9 10.3h1.1M19.4 10.3h1.1M-16.6 14.5h1.1M-12.6 14.5h1.1M-8.6 14.5h1.1M-4.5 14.5h1.1M4 14.5h1.1M8.4 14.5h1.1M12.4 14.5h1.1M16.4 14.5h1.1M-13.6 17.5h1.1M-9.6 17.5h1.1M-0.3 17.5h1.1M6 17.5h1.1M9.9 17.5h1.1M-7 21.2h1.1M-0.3 21.2h1.1M6 21.2h1.1" stroke="#1a1a1a" stroke-width="1.1" fill="none"/>
<circle r="31" fill="none" stroke="#2a2a2a" stroke-width="1.2"/>
<use href="#hfeat"/>
</g>
<g transform="translate(574.6,668)">
<circle r="31.9" fill="none" stroke="#e6eef8" stroke-width="1.2"/>
<g clip-path="url(#hclip)"><g filter="url(#tblur)" fill="none" stroke-width="4.1">
<path stroke="#efeffd" d="M-12 -34h24M-20 -30h36M-20 -26h12M8 -26h4M-16 -22h4M12 -22h4M12 -18h4M-12 -14h4M8 -14h4"/>
<path stroke="#dfdffc" d="M16 -30h4M-24 -26h4M12 -26h12M-28 -22h12M16 -22h12M-20 -18h8M16 -18h8M-16 -14h4M12 -14h4M-8 -10h20"/>
<path stroke="#ffffff" d="M-8 -26h16M-12 -22h4M8 -22h4M-12 -18h4M8 -18h4M-8 -14h16"/>
<path stroke="#fdefef" d="M-8 -22h16M-8 -18h16"/>
<path stroke="#cfcffa" d="M-32 -18h12M24 -18h8M-24 -14h8M16 -14h12M-16 -10h8M12 -10h8"/>
<path stroke="#bfbff9" d="M-32 -14h8M28 -14h4M-32 -10h16M20 -10h16M-24 -6h48"/>
<path stroke="#afaff7" d="M-36 -10h4M-36 -6h12M24 -6h12M-28 -2h64M-16 2h20"/>
<path stroke="#9f9ff6" d="M-36 -2h8M-36 2h20M4 2h32M-24 6h48"/>
<path stroke="#8f8ff4" d="M-36 6h12M24 6h12M-24 10h60M-12 14h28M20 14h4"/>
<path stroke="#8080f2" d="M-36 10h12M-32 14h20M16 14h4M24 14h8M-32 18h4M-12 18h24M16 18h16M24 22h4"/>
<path stroke="#7070f1" d="M-28 18h16M12 18h4M-28 22h8M-12 22h16M16 22h8M-8 26h8M20 26h4"/>
<path stroke="#6060ef" d="M-20 22h8M4 22h12M-24 26h16M0 26h8M12 26h8M-20 30h32M16 30h4M-12 34h24"/>
<path stroke="#5050ee" d="M8 26h4M12 30h4"/>
</g></g>
<path d="M17.9 22.5L15.5 21.5L13.5 21.3L7 21.7L5 22.3L3.5 23.5L0.5 28L-0.5 29L-2 29.8L-4 30.1L-6.5 29.7L-8.5 28.7L-10 27.3L-13 23.5L-14.4 22.5L-15.5 22.2L-17.5 22.3M25.5 3.3L21.5 4.3L9.5 5.3L2 6.9L-3 7.3L-9.5 6.8L-17 5.6L-22.5 4.1M22 -13.1L16 -9.3L13.5 -8.2L9.5 -7.6L-0.5 -7.1L-5.5 -7.7L-10.5 -9.2L-20 -13.3M11.5 -26.3L13.4 -23.5L14.1 -20.5L13.7 -17L12 -14.5L9.3 -12.5L5.5 -11.3L1 -10.9L-2 -11.1L-4.5 -11.8L-7 -12.8L-8.8 -14L-10.9 -16L-11.7 -17.5L-12.4 -20L-12.9 -24.5L-13.7 -26M3 -16.4L1.5 -16.2L-0.5 -16.4L-3.1 -17.5L-4 -18.5L-4.4 -19.5L-4.2 -21L-3.7 -22L-2 -23.3L0.5 -23.9L3 -23.6L5 -22.5L6.1 -21L6.2 -19L5 -17.3L3 -16.4" fill="none" stroke="#6a6a6a" stroke-width="0.55" opacity="0.85"/>
<path d="M-7 -21.8h1.1M-0.3 -21.8h1.1M6.5 -21.8h1.1M-7 -17.2h1.1M6.5 -17.2h1.1M-18.7 -12.2h1.1M-14.2 -12.2h1.1M-9.8 -12.2h1.1M-5.2 -12.2h1.1M-0.3 -12.2h1.1M4.2 -12.2h1.1M9.1 -12.2h1.1M13.6 -12.2h1.1M18.1 -12.2h1.1M-21.9 -7.5h1.1M-16.6 -7.5h1.1M-11.6 -7.5h1.1M-6 -7.5h1.1M-0.3 -7.5h1.1M4.5 -7.5h1.1M9.9 -7.5h1.1M15.4 -7.5h1.1M20.4 -7.5h1.1M-22.6 -1h1.1M-17.6 -1h1.1M-12.1 -1h1.1M-6.5 -1h1.1M-0.3 -1h1.1M5 -1h1.1M10.4 -1h1.1M15.9 -1h1.1M21.4 -1h1.1M-21.6 4.5h1.1M-16.6 4.5h1.1M-0.3 4.5h1.1M15.4 4.5h1.1M20.4 4.5h1.1M-11.6 6.5h1.1M-6.5 6.5h1.1M5 6.5h1.1M10.4 6.5h1.1M-20.6 10.3h1.1M-15.6 10.3h1.1M-10.6 10.3h1.1M-5.5 10.3h1.1M-0.3 10.3h1.1M5 10.3h1.1M9.9 10.3h1.1M14.9 10.3h1.1M19.4 10.3h1.1M-16.6 14.5h1.1M-12.6 14.5h1.1M-8.6 14.5h1.1M-4.5 14.5h1.1M4 14.5h1.1M8.4 14.5h1.1M12.4 14.5h1.1M16.4 14.5h1.1M-13.6 17.5h1.1M-9.6 17.5h1.1M-0.3 17.5h1.1M6 17.5h1.1M9.9 17.5h1.1M-7 21.2h1.1M-0.3 21.2h1.1M6 21.2h1.1" stroke="#1a1a1a" stroke-width="1.1" fill="none"/>
<circle r="31" fill="none" stroke="#2a2a2a" stroke-width="1.2"/>
<use href="#hfeat"/>
</g>
<g transform="translate(418.5,810)">
<circle r="31.9" fill="none" stroke="#e6eef8" stroke-width="1.2"/>
<g clip-path="url(#hclip)"><g filter="url(#tblur)" fill="none" stroke-width="4.1">
<path stroke="#fcdfdf" d="M-12 -34h4M-20 -30h12M-24 -26h12M16 -26h8M-28 -22h8M16 -22h12M-32 -18h8M20 -18h12M-32 -14h8M20 -14h12M-36 -10h16M20 -10h16M-28 -6h8M20 -6h8M-20 -2h4M16 -2h4M-12 2h8M8 2h4"/>
<path stroke="#fdefef" d="M-8 -34h20M-8 -30h28M-12 -26h8M4 -26h12M-20 -22h8M12 -22h4M-24 -18h8M16 -18h4M-24 -14h8M16 -14h4M-20 -10h4M-20 -6h4M16 -6h4M-16 -2h4M12 -2h4M-4 6h4"/>
<path stroke="#ffffff" d="M-4 -26h8M-12 -22h4M8 -22h4M-16 -18h4M12 -18h4M-16 -14h4M16 -10h4M-16 -6h4M-12 -2h4M4 2h4"/>
<path stroke="#efeffd" d="M-8 -22h4M0 -22h8M-12 -18h4M12 -14h4M-16 -10h4M12 -10h4M12 -6h4M-8 -2h4M8 -2h4M-4 2h4M0 6h4"/>
<path stroke="#dfdffc" d="M-4 -22h4M-8 -18h4M0 -18h12M-12 -14h4M8 -14h4M-12 -10h4M-12 -6h8M8 -6h4M-4 -2h12M0 2h4"/>
<path stroke="#cfcffa" d="M-4 -18h4M-8 -14h16M-8 -10h20M-4 -6h12"/>
<path stroke="#f9bfbf" d="M-36 -6h4M-28 -2h4M-20 2h4M16 2h8M4 6h4M-4 10h4"/>
<path stroke="#facfcf" d="M-32 -6h4M28 -6h8M-24 -2h4M20 -2h8M-16 2h4M12 2h4M0 10h4"/>
<path stroke="#f7afaf" d="M-36 -2h8M28 -2h8M-24 2h4M24 2h4M-16 6h8"/>
<path stroke="#f69f9f" d="M-36 2h12M28 2h8M-24 6h8M12 6h16M-16 10h12M-4 14h8"/>
<path stroke="#f48f8f" d="M-36 6h12M8 6h4M28 6h8M-24 10h8M4 10h4M16 10h8M-12 14h8M4 14h4"/>
<path stroke="#ef6060" d="M-8 6h4M8 10h4M-8 30h8M-8 34h8"/>
<path stroke="#f28080" d="M-36 10h12M12 10h4M24 10h12M-32 14h20M12 14h20M-32 18h40M12 18h8M28 18h4M-28 22h4M-8 22h16"/>
<path stroke="#f17070" d="M8 14h4M8 18h4M20 18h8M-24 22h16M8 22h20M-24 26h48M-20 30h12M0 30h20M-12 34h4M0 34h12"/>
</g></g>
<path d="M0.7 7L1.5 6L2.3 3.5L3 2.5L10.3 -3L12.3 -5L14.1 -8.5L14.6 -12L14 -14.4L13 -16.5L12 -17.8L10.5 -19.1L2.7 -22.5L1 -22.9L-1 -23L-3.5 -22.6L-5.5 -21.7L-8 -20.1L-9.8 -18.5L-11 -17L-12.1 -15L-12.7 -13L-12.9 -11L-12.2 -8L-10.5 -5L-7.6 -2L-3 0.9L-1.4 3L-0.5 6.5L0 7.1L0.7 7M1.1 9L2.2 8L3.8 5L5 3.8L9 1.4L15 -1L16.1 -2L17.9 -4.5L19.2 -7L20 -10L20.1 -12.5L19.9 -14L15.6 -23L14.5 -24.6L13 -26.1L11 -27.2L8.5 -27.9L2 -28.7L-1.5 -28.9L-3.5 -28.6L-5.5 -27.8L-15.9 -21L-17.3 -19.5L-18.3 -18L-19.4 -15.5L-19.8 -13.5L-18.7 -10L-17.3 -6.5L-15.4 -3.5L-13.5 -1L-12.3 0L-10 1.1L-6 1.7L-4 2.5L-2.7 4L-1.9 7L-1.1 8.5L0 9.2L1.1 9M-26.1 -4L-12.5 3.3L-10.5 3.7L-7.5 2.6L-6 2.6L-5 2.9L-4.1 3.5L-3.5 4.5L-2.9 8L-2.4 9L-1 10.5L0.5 10.8L2 10.2L5.2 6L8.5 3.5L11 2.5L16 1.9L23 -1.1L26 -2.9M-28 2L-22.7 4.5L-17 7.8L-6 11.4L-2 13.3L0 13.8L2 13.5L3.5 12.5L7.4 7L8.5 6L10 5.1L12 5.1L16.5 7.5L18 7.6L27 4.8L29 3.8M-6 8.8L-7 8.9L-8 8.4L-8.9 6.5L-8.8 5.5L-8.3 4.5L-7.5 3.8L-6.5 3.5L-5 4L-4.2 5.5L-4.5 7.3L-6 8.8M-6 6.3L-6.5 6.4L-7 6L-7 5.2L-6.5 4.8L-6 4.8L-5.5 5.5L-6 6.3M11.5 13L10.5 13.5L9.8 13L9.3 12L9.2 10.5L9.4 9.5L10.5 8.6L11.5 9L12 10L12.1 11.5L11.5 13M-4 29.7L-2.6 30" fill="none" stroke="#6a6a6a" stroke-width="0.55" opacity="0.85"/>
<ellipse cx="-6.3" cy="5.3" rx="3" ry="3" fill="#d84848" filter="url(#gblur2)"/>
<ellipse cx="10.4" cy="8" rx="2.4" ry="4.2" fill="#e27070" filter="url(#gblur2)"/>
<path d="M-7 -21.8h1.1M-0.3 -21.8h1.1M6.5 -21.8h1.1M-7 -17.2h1.1M6.5 -17.2h1.1M-18.7 -12.2h1.1M-14.2 -12.2h1.1M-9.8 -12.2h1.1M-5.2 -12.2h1.1M-0.3 -12.2h1.1M4.2 -12.2h1.1M9.1 -12.2h1.1M13.6 -12.2h1.1M18.1 -12.2h1.1M-21.9 -7.5h1.1M-16.6 -7.5h1.1M-11.6 -7.5h1.1M-6 -7.5h1.1M-0.3 -7.5h1.1M4.5 -7.5h1.1M9.9 -7.5h1.1M15.4 -7.5h1.1M20.4 -7.5h1.1M-22.6 -1h1.1M-17.6 -1h1.1M-12.1 -1h1.1M-6.5 -1h1.1M-0.3 -1h1.1M5 -1h1.1M10.4 -1h1.1M15.9 -1h1.1M21.4 -1h1.1M-21.6 4.5h1.1M-16.6 4.5h1.1M-0.3 4.5h1.1M15.4 4.5h1.1M20.4 4.5h1.1M-11.6 6.5h1.1M-6.5 6.5h1.1M5 6.5h1.1M10.4 6.5h1.1M-20.6 10.3h1.1M-15.6 10.3h1.1M-10.6 10.3h1.1M-5.5 10.3h1.1M-0.3 10.3h1.1M5 10.3h1.1M9.9 10.3h1.1M14.9 10.3h1.1M19.4 10.3h1.1M-16.6 14.5h1.1M-12.6 14.5h1.1M-8.6 14.5h1.1M-4.5 14.5h1.1M4 14.5h1.1M8.4 14.5h1.1M12.4 14.5h1.1M16.4 14.5h1.1M-13.6 17.5h1.1M-9.6 17.5h1.1M-0.3 17.5h1.1M6 17.5h1.1M9.9 17.5h1.1M-7 21.2h1.1M-0.3 21.2h1.1M6 21.2h1.1" stroke="#1a1a1a" stroke-width="1.1" fill="none"/>
<circle r="31" fill="none" stroke="#2a2a2a" stroke-width="1.2"/>
<use href="#hfeat"/>
</g>
<g transform="translate(496.4,810)">
<circle r="31.9" fill="none" stroke="#e6eef8" stroke-width="1.2"/>
<g clip-path="url(#hclip)"><g filter="url(#tblur)" fill="none" stroke-width="4.1">
<path stroke="#ffffff" d="M-12 -34h24M-20 -30h40M-24 -26h16M8 -26h16M-20 -22h4M12 -22h12M-20 -18h4M16 -18h8M-20 -14h4M16 -14h4M-20 -10h4M16 -10h4M12 -6h4M-16 -2h4M-8 2h12"/>
<path stroke="#efeffd" d="M-8 -26h16M-16 -22h4M8 -22h4M12 -18h4M12 -14h4M12 -10h4M-16 -6h4M8 -2h4"/>
<path stroke="#fdefef" d="M-28 -22h8M24 -22h4M-32 -18h12M24 -18h8M-32 -14h12M20 -14h12M-28 -10h8M20 -10h8M-24 -6h8M16 -6h4M12 -2h4M4 2h4"/>
<path stroke="#dfdffc" d="M-12 -22h4M4 -22h4M-16 -18h4M8 -18h4M-16 -14h4M-16 -10h4M-12 -2h4M4 -2h4"/>
<path stroke="#cfcffa" d="M-8 -22h12M-12 -18h4M8 -14h4M-12 -6h4M8 -6h4M-8 -2h12"/>
<path stroke="#bfbff9" d="M-8 -18h16M-12 -14h8M0 -14h8M-12 -10h24M-8 -6h16"/>
<path stroke="#afaff7" d="M-4 -14h4"/>
<path stroke="#fcdfdf" d="M-36 -10h8M28 -10h8M-28 -6h4M20 -6h8M-20 -2h4M16 -2h4M-12 2h4M8 2h4"/>
<path stroke="#f7afaf" d="M-36 -6h4M32 -6h4M-28 -2h4M24 -2h4M-20 2h4M-4 6h8"/>
<path stroke="#f9bfbf" d="M-32 -6h4M28 -6h4M20 -2h4M-16 2h4M12 2h4"/>
<path stroke="#f48f8f" d="M-36 -2h8M28 -2h8M-24 2h4M20 2h4M-16 6h4M12 6h4"/>
<path stroke="#facfcf" d="M-24 -2h4"/>
<path stroke="#f28080" d="M-36 2h12M24 2h12M-24 6h8M16 6h8M-16 10h24M-4 26h4"/>
<path stroke="#f69f9f" d="M16 2h4M-12 6h8M4 6h8"/>
<path stroke="#f17070" d="M-36 6h12M24 6h12M-24 10h8M12 10h12M-32 14h12M0 14h4M20 14h12M-32 18h16M16 18h16M-28 22h16M-4 22h4M12 22h16M-24 26h20M0 26h8M12 26h12M-20 30h40M-12 34h24"/>
<path stroke="#ef6060" d="M-36 10h12M8 10h4M24 10h12M-20 14h8M-4 14h4M16 14h4M-16 18h4M0 18h4M-12 22h8M0 22h12M8 26h4"/>
<path stroke="#ee5050" d="M-12 14h8M4 14h4M-12 18h4M-4 18h4M4 18h4M12 18h4"/>
<path stroke="#e92020" d="M8 14h4"/>
<path stroke="#ec4040" d="M12 14h4M-8 18h4"/>
<path stroke="#eb3030" d="M8 18h4"/>
</g></g>
<path d="M1.6 -2.5L4 -3L5.5 -3.6L7.5 -5L9 -6.6L10.2 -8.5L11 -10.5L11 -12L10.5 -14L9.4 -16L7.5 -18.5L6 -20L4 -21.4L2 -22.1L-0.5 -22.4L-3 -22.3L-5.5 -21.6L-7.5 -20.6L-9 -19.5L-11.4 -16.5L-12.3 -14.5L-12.6 -12.5L-12.7 -11L-12.2 -9.5L-11.5 -7.9L-10.2 -6L-7.5 -3.9L-3.5 -2.7L1.6 -2.5M1.6 1.5L4.5 1L6.8 0L9 -1.6L11 -3.6L13 -6.5L14.4 -9.5L15 -12L14.7 -14.5L13.7 -17L12 -19.5L9.4 -22.5L7 -24.4L4.5 -25.5L1.5 -26.1L-2 -26.2L-5.5 -25.7L-8 -24.8L-10.3 -23.5L-12.5 -21.6L-14 -19.7L-15.2 -17.5L-16.2 -14.5L-16.5 -12.5L-16.1 -10L-15 -7L-13.6 -4.5L-12 -2.4L-10 -0.7L-8 0.3L-5.5 1L-2 1.5L1.6 1.5M-25.5 -13.4L-16.2 -1.5L-12.5 0.6L-9 1.9L-4.5 2.8L0 3.1L3.5 2.9L6.5 2.3L9 1.5L12.1 0L17 -5.1L22 -9.5M-22.5 -2.5L-12 2.5L-6.5 4L0 4.6L5.5 4.1L10.5 2.7L24 -3.5M-22.5 0.8L-13.5 4.6L-7.5 6.3L0 7L6.5 6.4L12.5 4.8L24 -0.2M-29.3 7.5L-29.5 7.7M-28.5 8.2L-28.9 8L-28.5 8.2M27.5 8.5L27.5 8.5M26 9.5L26 9.5M9 25.2L8.5 25.4L7.5 25.2L3.5 22.6L1 21.7L-1.5 21.5L-9 22L-11 21.8L-13 21.1L-15 19.9L-16.3 18.5L-17.2 16.5L-17.5 14L-17 13.7L-14.5 13.6L-9.5 12.6L-6.5 12.3L-3 12.7L2.5 14.3L4 13.7L7.5 10.9L9 10.2L11 9.9L13.5 10.3L17.5 12.3L19.9 13L17.9 16.5L16 19L9 25.2M25 10.1L25 10.1M20 12.7L20.1 12.5L20 12.7M11.5 16.5L10 16.8L9 16.2L8.9 15L9.5 14.2L11 13.8L12 14.4L12.3 15.5L11.5 16.5" fill="none" stroke="#6a6a6a" stroke-width="0.55" opacity="0.85"/>
<path d="M-7 -21.8h1.1M-0.3 -21.8h1.1M6.5 -21.8h1.1M-7 -17.2h1.1M6.5 -17.2h1.1M-18.7 -12.2h1.1M-14.2 -12.2h1.1M-9.8 -12.2h1.1M-5.2 -12.2h1.1M-0.3 -12.2h1.1M4.2 -12.2h1.1M9.1 -12.2h1.1M13.6 -12.2h1.1M18.1 -12.2h1.1M-21.9 -7.5h1.1M-16.6 -7.5h1.1M-11.6 -7.5h1.1M-6 -7.5h1.1M-0.3 -7.5h1.1M4.5 -7.5h1.1M9.9 -7.5h1.1M15.4 -7.5h1.1M20.4 -7.5h1.1M-22.6 -1h1.1M-17.6 -1h1.1M-12.1 -1h1.1M-6.5 -1h1.1M-0.3 -1h1.1M5 -1h1.1M10.4 -1h1.1M15.9 -1h1.1M21.4 -1h1.1M-21.6 4.5h1.1M-16.6 4.5h1.1M-0.3 4.5h1.1M15.4 4.5h1.1M20.4 4.5h1.1M-11.6 6.5h1.1M-6.5 6.5h1.1M5 6.5h1.1M10.4 6.5h1.1M-20.6 10.3h1.1M-15.6 10.3h1.1M-10.6 10.3h1.1M-5.5 10.3h1.1M-0.3 10.3h1.1M5 10.3h1.1M9.9 10.3h1.1M14.9 10.3h1.1M19.4 10.3h1.1M-16.6 14.5h1.1M-12.6 14.5h1.1M-8.6 14.5h1.1M-4.5 14.5h1.1M4 14.5h1.1M8.4 14.5h1.1M12.4 14.5h1.1M16.4 14.5h1.1M-13.6 17.5h1.1M-9.6 17.5h1.1M-0.3 17.5h1.1M6 17.5h1.1M9.9 17.5h1.1M-7 21.2h1.1M-0.3 21.2h1.1M6 21.2h1.1" stroke="#1a1a1a" stroke-width="1.1" fill="none"/>
<circle r="31" fill="none" stroke="#2a2a2a" stroke-width="1.2"/>
<use href="#hfeat"/>
</g>
<g transform="translate(574.4,810)">
<circle r="31.9" fill="none" stroke="#e6eef8" stroke-width="1.2"/>
<g clip-path="url(#hclip)"><g filter="url(#tblur)" fill="none" stroke-width="4.1">
<path stroke="#ffffff" d="M-12 -34h4M8 -34h4M-16 -30h8M8 -30h8M-16 -26h4M12 -26h4M-16 -22h4M12 -22h4M-20 -14h4M-16 -6h4M12 -6h4M-8 2h4M4 2h4"/>
<path stroke="#efeffd" d="M-8 -34h16M-8 -30h16M-12 -26h4M8 -26h4M-16 -18h4M12 -18h4M-16 -14h4M12 -14h4M-16 -10h4M12 -10h4M-12 -2h4M8 -2h4M-4 2h8"/>
<path stroke="#fdefef" d="M-20 -30h4M16 -30h4M-24 -26h8M16 -26h8M-20 -22h4M16 -22h12M-32 -18h16M16 -18h16M-32 -14h12M16 -14h8M-36 -10h20M16 -10h4M-20 -6h4M16 -6h4M-20 -2h8M12 -2h4M-12 2h4M8 2h4"/>
<path stroke="#dfdffc" d="M-8 -26h16M-12 -22h4M8 -22h4M-12 -18h4M8 -18h4M-12 -10h4M8 -10h4M-12 -6h4M8 -6h4M-8 -2h16"/>
<path stroke="#fcdfdf" d="M-28 -22h8M24 -14h8M20 -10h16M-28 -6h8M20 -6h8M16 -2h4M-4 6h8"/>
<path stroke="#cfcffa" d="M-8 -22h16M-8 -18h16M-12 -14h24M-8 -10h16M-8 -6h16"/>
<path stroke="#facfcf" d="M-36 -6h8M28 -6h4M-24 -2h4M20 -2h4M-20 2h8M12 2h4M-8 6h4M4 6h4"/>
<path stroke="#f9bfbf" d="M32 -6h4M-28 -2h4M24 -2h4M16 2h4M-12 6h4M8 6h4"/>
<path stroke="#f7afaf" d="M-36 -2h8M28 -2h8M-24 2h4M20 2h4M-20 6h8M12 6h4M-4 10h8"/>
<path stroke="#f69f9f" d="M-36 2h12M24 2h4M-24 6h4M16 6h8M-16 10h12M4 10h12"/>
<path stroke="#f48f8f" d="M28 2h8M-36 6h12M24 6h12M-24 10h8M16 10h8M-16 14h24"/>
<path stroke="#f28080" d="M-36 10h12M24 10h12M-32 14h16M8 14h24M-20 18h20M20 18h12"/>
<path stroke="#f17070" d="M-32 18h12M0 18h8M16 18h4M-28 22h32M16 22h12M-24 26h28M20 26h4M-20 30h16M-12 34h8"/>
<path stroke="#ef6060" d="M8 18h8M4 22h12M4 26h16M-4 30h24M-4 34h16"/>
</g></g>
<path d="M3.4 1.5L5.5 0.7L8 -0.9L10 -3L11.7 -5.5L13 -8.5L13.7 -11.5L13.5 -16.5L12.7 -19.5L11.5 -22.4L10 -24.7L8 -26.8L5.6 -28.5L3.2 -29.5L0.5 -30L-2 -29.8L-4.5 -29.1L-7 -27.7L-9 -25.9L-10.9 -23.5L-12.4 -20.5L-13.4 -17.5L-13.9 -14.5L-13.9 -11.5L-13 -8.5L-11.2 -5L-9.3 -2.5L-7 -0.4L-4.7 1L-3 1.5L0 1.8L3.4 1.5M-17.8 -24L-19 -19.1L-20.5 -16.5L-22 -15.7L-23.5 -15.9M-28 -10.2L-26.5 -10L-23 -10.2L-21.5 -9.7L-19.5 -7.6L-16 -1.5L-13.6 0L-7 3.1L-3.5 4.2L0 4.5L3.5 4.2L7.5 3.1L11 1.5L14.9 -1L17.4 -5.5L19.1 -10L20.2 -14M-16.5 2.2L-11.5 3.8L-6 6.2L-3 6.8L0.5 7L6 6.3L12 4.2L16.1 2L23.5 -2.9M-21.5 6.7L-17 8.9L-11 10.4L1 12L6.5 11L16.7 8L20 6.2L25.4 2M-0.5 30.4L2 29.6L2.9 29L3.6 28L4.4 22.5L5.7 20L8 18.1L11 17.5L13 17.9L14.8 19" fill="none" stroke="#6a6a6a" stroke-width="0.55" opacity="0.85"/>
<path d="M-7 -21.8h1.1M-0.3 -21.8h1.1M6.5 -21.8h1.1M-7 -17.2h1.1M6.5 -17.2h1.1M-18.7 -12.2h1.1M-14.2 -12.2h1.1M-9.8 -12.2h1.1M-5.2 -12.2h1.1M-0.3 -12.2h1.1M4.2 -12.2h1.1M9.1 -12.2h1.1M13.6 -12.2h1.1M18.1 -12.2h1.1M-21.9 -7.5h1.1M-16.6 -7.5h1.1M-11.6 -7.5h1.1M-6 -7.5h1.1M-0.3 -7.5h1.1M4.5 -7.5h1.1M9.9 -7.5h1.1M15.4 -7.5h1.1M20.4 -7.5h1.1M-22.6 -1h1.1M-17.6 -1h1.1M-12.1 -1h1.1M-6.5 -1h1.1M-0.3 -1h1.1M5 -1h1.1M10.4 -1h1.1M15.9 -1h1.1M21.4 -1h1.1M-21.6 4.5h1.1M-16.6 4.5h1.1M-0.3 4.5h1.1M15.4 4.5h1.1M20.4 4.5h1.1M-11.6 6.5h1.1M-6.5 6.5h1.1M5 6.5h1.1M10.4 6.5h1.1M-20.6 10.3h1.1M-15.6 10.3h1.1M-10.6 10.3h1.1M-5.5 10.3h1.1M-0.3 10.3h1.1M5 10.3h1.1M9.9 10.3h1.1M14.9 10.3h1.1M19.4 10.3h1.1M-16.6 14.5h1.1M-12.6 14.5h1.1M-8.6 14.5h1.1M-4.5 14.5h1.1M4 14.5h1.1M8.4 14.5h1.1M12.4 14.5h1.1M16.4 14.5h1.1M-13.6 17.5h1.1M-9.6 17.5h1.1M-0.3 17.5h1.1M6 17.5h1.1M9.9 17.5h1.1M-7 21.2h1.1M-0.3 21.2h1.1M6 21.2h1.1" stroke="#1a1a1a" stroke-width="1.1" fill="none"/>
<circle r="31" fill="none" stroke="#2a2a2a" stroke-width="1.2"/>
<use href="#hfeat"/>
</g>
<g transform="translate(416.3,907.4)">
<circle r="31.9" fill="none" stroke="#e6eef8" stroke-width="1.2"/>
<g clip-path="url(#hclip)"><g filter="url(#tblur)" fill="none" stroke-width="4.1">
<path stroke="#fdefef" d="M-12 -34h4M-20 -30h12M-24 -26h20M-28 -22h24M-24 -18h24M24 -18h8M-32 -14h4M-24 -14h56M-36 -10h68"/>
<path stroke="#fcdfdf" d="M-8 -34h8M-8 -30h8M-4 -26h4M-4 -22h8M20 -22h8M-32 -18h8M0 -18h24M-28 -14h4"/>
<path stroke="#facfcf" d="M0 -34h4M0 -30h4M0 -26h4M4 -22h4M16 -22h4"/>
<path stroke="#f7afaf" d="M4 -34h4"/>
<path stroke="#f48f8f" d="M8 -34h4M16 -30h4"/>
<path stroke="#f69f9f" d="M4 -30h4M4 -26h4M16 -26h4"/>
<path stroke="#f28080" d="M8 -30h4M8 -26h8"/>
<path stroke="#f17070" d="M12 -30h4"/>
<path stroke="#f9bfbf" d="M20 -26h4M8 -22h8"/>
<path stroke="#ffffff" d="M32 -10h4M-32 -6h64M-24 -2h8M20 18h12M20 22h8"/>
<path stroke="#efeffd" d="M-36 -6h4M32 -6h4M-36 -2h12M-16 -2h52M-36 2h20M24 2h12M24 10h8M20 14h12M-24 18h44M-28 22h48M-24 26h48M-20 30h40M-12 34h24"/>
<path stroke="#dfdffc" d="M-16 2h8M4 2h20M-36 6h20M16 6h20M-36 10h24M16 10h8M32 10h4M-32 14h28M4 14h16M-32 18h8"/>
<path stroke="#cfcffa" d="M-8 2h12M-16 6h8M4 6h12M-12 10h4M4 10h12M-4 14h8"/>
<path stroke="#bfbff9" d="M-8 6h12M-8 10h12"/>
</g></g>
<path d="M-0.1 12L5 11.2L8.4 10L10.2 8.5L10.6 7.5L10.4 6.5L8.5 5.5L1.8 3.5L-3 2.6L-5.5 2.9L-7.3 3.5L-8.9 4.5L-10.4 6L-10.7 7L-10.2 8.5L-9.4 9.5L-8.1 10.5L-4.5 11.8L-0.1 12M19 -2.1L8 -1.5L4 -2L-3 -3.6L-7 -3.7L-9 -3.3L-10.5 -2.7L-14.8 0.5L-17 1.7L-19 2.4L-21 2.6L-23 2.3L-25 1.6L-29.5 -1.3M15.1 22L15 20.5L15.4 19.5L19.5 16.3L22.5 13.6L24.5 12.4L26 12.2M-17 24.1L-11.5 24.8L4 25L6 25.4L7.5 26.2M-17.4 -21L-17.3 -20L-16.5 -19.4L-15.5 -19.7L-13.6 -21.5L-10.5 -23.6L-9 -25.5L-8.6 -27.5L-8.8 -29M18 -11.5L7 -11L-4 -11.5L-12 -11.6L-15 -11.3L-19 -10.1L-20.5 -9.9L-26.5 -11M19.5 -22.4L17.5 -21.4L15 -20.8L12.5 -20.6L9.5 -20.8L7 -21.5L4.8 -22.5L2.9 -24L1.8 -25.5L1.1 -27.5L1.3 -29.5M16 -24.5L14.5 -24L12.5 -23.8L10.5 -23.9L8.8 -24.5L7.3 -25.5L6.5 -26.5L6.1 -27.5L6.3 -29" fill="none" stroke="#6a6a6a" stroke-width="0.55" opacity="0.85"/>
<circle cx="-6" cy="4.8" r="4.6" fill="#b4aeae" filter="url(#gblur)"/>
<circle cx="-6" cy="4.8" r="1.7" fill="#d06868" filter="url(#gblur2)"/>
<circle cx="10" cy="4.8" r="2.2" fill="#fafafa" stroke="#999" stroke-width="0.45"/>
<path d="M-7 -21.8h1.1M-0.3 -21.8h1.1M6.5 -21.8h1.1M-7 -17.2h1.1M6.5 -17.2h1.1M-18.7 -12.2h1.1M-14.2 -12.2h1.1M-9.8 -12.2h1.1M-5.2 -12.2h1.1M-0.3 -12.2h1.1M4.2 -12.2h1.1M9.1 -12.2h1.1M13.6 -12.2h1.1M18.1 -12.2h1.1M-21.9 -7.5h1.1M-16.6 -7.5h1.1M-11.6 -7.5h1.1M-6 -7.5h1.1M-0.3 -7.5h1.1M4.5 -7.5h1.1M9.9 -7.5h1.1M15.4 -7.5h1.1M20.4 -7.5h1.1M-22.6 -1h1.1M-17.6 -1h1.1M-12.1 -1h1.1M-6.5 -1h1.1M-0.3 -1h1.1M5 -1h1.1M10.4 -1h1.1M15.9 -1h1.1M21.4 -1h1.1M-21.6 4.5h1.1M-16.6 4.5h1.1M-0.3 4.5h1.1M15.4 4.5h1.1M20.4 4.5h1.1M-11.6 6.5h1.1M-6.5 6.5h1.1M5 6.5h1.1M10.4 6.5h1.1M-20.6 10.3h1.1M-15.6 10.3h1.1M-10.6 10.3h1.1M-5.5 10.3h1.1M-0.3 10.3h1.1M5 10.3h1.1M9.9 10.3h1.1M14.9 10.3h1.1M19.4 10.3h1.1M-16.6 14.5h1.1M-12.6 14.5h1.1M-8.6 14.5h1.1M-4.5 14.5h1.1M4 14.5h1.1M8.4 14.5h1.1M12.4 14.5h1.1M16.4 14.5h1.1M-13.6 17.5h1.1M-9.6 17.5h1.1M-0.3 17.5h1.1M6 17.5h1.1M9.9 17.5h1.1M-7 21.2h1.1M-0.3 21.2h1.1M6 21.2h1.1" stroke="#1a1a1a" stroke-width="1.1" fill="none"/>
<circle r="31" fill="none" stroke="#2a2a2a" stroke-width="1.2"/>
<use href="#hfeat"/>
</g>
<g transform="translate(494,907.4)">
<circle r="31.9" fill="none" stroke="#e6eef8" stroke-width="1.2"/>
<g clip-path="url(#hclip)"><g filter="url(#tblur)" fill="none" stroke-width="4.1">
<path stroke="#fdefef" d="M-12 -34h24M-20 -30h40M-24 -26h20M4 -26h20M-28 -22h24M4 -22h24M-28 -18h60M-12 -14h44"/>
<path stroke="#ffffff" d="M-4 -26h8M-4 -22h8M-32 -18h4M-32 -14h20M-24 -10h56M4 -6h4"/>
<path stroke="#efeffd" d="M-36 -10h12M32 -10h4M-24 -6h28M8 -6h20"/>
<path stroke="#dfdffc" d="M-36 -6h12M28 -6h8M-20 -2h44"/>
<path stroke="#bfbff9" d="M-36 -2h8M32 -2h4M-20 2h12M8 2h16"/>
<path stroke="#cfcffa" d="M-28 -2h8M24 -2h8M-8 2h16"/>
<path stroke="#afaff7" d="M-36 2h16M24 2h12M-16 6h32"/>
<path stroke="#9f9ff6" d="M-36 6h20M16 6h20M-20 10h28M32 10h4"/>
<path stroke="#8f8ff4" d="M-36 10h16M8 10h24M-32 14h16M-8 14h12M16 14h16M-32 18h16M-4 18h8M24 18h8M-28 22h24M0 22h16M-24 26h20M4 26h16M-20 30h20M4 30h16M-12 34h12M4 34h8"/>
<path stroke="#8080f2" d="M-16 14h8M4 14h12M-16 18h12M4 18h20M-4 22h4M16 22h12M-4 26h8M20 26h4M0 30h4M0 34h4"/>
</g></g>
<path d="M28 7L26 7.2L21.5 6L20 5.9L18 6.5L14.5 8.4L8 8.8L0.5 10.5L-2.5 10.7L-13 9.5L-17 8.7L-19 7.9L-22 5.7L-23.5 5L-25 5L-29 6.1M25.5 -0.9L21 0L7.5 1.3L-0.5 1.5L-8 1.2L-15 0.5L-25 -1.5M26.5 -6.2L23.5 -5.2L20.5 -4.9L15.5 -5.3L13.5 -5.2L9 -3.6L7 -3.3L1 -4.7L-8.5 -5.1L-16 -6L-24 -7.6M-8 -27.4L-9 -26.8L-10.5 -26.5L-14 -26.8M12.5 -27.4L10 -26.7L8 -27.4" fill="none" stroke="#6a6a6a" stroke-width="0.55" opacity="0.85"/>
<path d="M-7 -21.8h1.1M-0.3 -21.8h1.1M6.5 -21.8h1.1M-7 -17.2h1.1M6.5 -17.2h1.1M-18.7 -12.2h1.1M-14.2 -12.2h1.1M-9.8 -12.2h1.1M-5.2 -12.2h1.1M-0.3 -12.2h1.1M4.2 -12.2h1.1M9.1 -12.2h1.1M13.6 -12.2h1.1M18.1 -12.2h1.1M-21.9 -7.5h1.1M-16.6 -7.5h1.1M-11.6 -7.5h1.1M-6 -7.5h1.1M-0.3 -7.5h1.1M4.5 -7.5h1.1M9.9 -7.5h1.1M15.4 -7.5h1.1M20.4 -7.5h1.1M-22.6 -1h1.1M-17.6 -1h1.1M-12.1 -1h1.1M-6.5 -1h1.1M-0.3 -1h1.1M5 -1h1.1M10.4 -1h1.1M15.9 -1h1.1M21.4 -1h1.1M-21.6 4.5h1.1M-16.6 4.5h1.1M-0.3 4.5h1.1M15.4 4.5h1.1M20.4 4.5h1.1M-11.6 6.5h1.1M-6.5 6.5h1.1M5 6.5h1.1M10.4 6.5h1.1M-20.6 10.3h1.1M-15.6 10.3h1.1M-10.6 10.3h1.1M-5.5 10.3h1.1M-0.3 10.3h1.1M5 10.3h1.1M9.9 10.3h1.1M14.9 10.3h1.1M19.4 10.3h1.1M-16.6 14.5h1.1M-12.6 14.5h1.1M-8.6 14.5h1.1M-4.5 14.5h1.1M4 14.5h1.1M8.4 14.5h1.1M12.4 14.5h1.1M16.4 14.5h1.1M-13.6 17.5h1.1M-9.6 17.5h1.1M-0.3 17.5h1.1M6 17.5h1.1M9.9 17.5h1.1M-7 21.2h1.1M-0.3 21.2h1.1M6 21.2h1.1" stroke="#1a1a1a" stroke-width="1.1" fill="none"/>
<circle r="31" fill="none" stroke="#2a2a2a" stroke-width="1.2"/>
<use href="#hfeat"/>
</g>
<g transform="translate(572,907.4)">
<circle r="31.9" fill="none" stroke="#e6eef8" stroke-width="1.2"/>
<g clip-path="url(#hclip)"><g filter="url(#tblur)" fill="none" stroke-width="4.1">
<path stroke="#efeffd" d="M-12 -34h24M-20 -30h32M-24 -26h12M0 -26h12M-20 -22h4M8 -22h4M-20 -18h4M8 -18h4M-20 -14h4M8 -14h4M-16 -10h4M4 -10h4M-12 -6h16"/>
<path stroke="#dfdffc" d="M12 -30h8M12 -26h12M-28 -22h8M12 -22h12M-24 -18h4M12 -18h4M-24 -14h4M12 -14h4M-20 -10h4M8 -10h4M-16 -6h4M4 -6h4"/>
<path stroke="#ffffff" d="M-12 -26h12M-16 -22h8M0 -22h8M-16 -18h4M4 -18h4M-16 -14h12M4 -14h4M-12 -10h16"/>
<path stroke="#fdefef" d="M-8 -22h8M-12 -18h16M-4 -14h8"/>
<path stroke="#cfcffa" d="M24 -22h4M-32 -18h8M16 -18h16M-32 -14h8M16 -14h16M-24 -10h4M12 -10h12M-20 -6h4M8 -6h4M-16 -2h24"/>
<path stroke="#bfbff9" d="M-36 -10h12M24 -10h12M-36 -6h16M12 -6h24M-24 -2h8M8 -2h8M0 2h12"/>
<path stroke="#afaff7" d="M-36 -2h12M16 -2h4M28 -2h8M-36 2h36M12 2h4M0 6h16"/>
<path stroke="#7070f1" d="M20 -2h4M20 2h4M16 22h4M-4 26h8M20 26h4M0 30h8M0 34h8"/>
<path stroke="#8f8ff4" d="M24 -2h4M20 6h8M-32 10h8M-12 10h8M16 10h20M-32 14h56M-32 18h8M-20 18h16"/>
<path stroke="#9f9ff6" d="M16 2h4M28 2h8M-36 6h36M16 6h4M28 6h8M-36 10h4M-24 10h12M-4 10h20"/>
<path stroke="#8080f2" d="M24 2h4M24 14h8M-24 18h4M-4 18h36M-28 22h28M20 22h8M-24 26h20M-20 30h20M-12 34h12"/>
<path stroke="#6060ef" d="M0 22h16M4 26h16M8 30h12M8 34h4"/>
</g></g>
<path d="M23.3 2L24.5 1.1L24.7 0L24 -1.1L22.5 -1.3L21.5 -0.5L21.4 1L22.5 2L23.3 2M16.4 24L15.8 23L14.5 21.9L12 20.8L7.5 20.7L3.5 21.2L2.5 21.8L1.8 22.5L1.5 23.5L1.6 24.5L2.2 25.5L3 26.2L7.1 28M29.5 4L28.8 3.5L27.8 -0.5L26.5 -2.5L25 -3.6L23 -4L21.5 -3.7L20.5 -3.2L19.5 -2.3L18.7 -1L18.3 1.5L18.9 5L18.3 6.5L15 9.1L11.5 10.3L7.5 10.5L1.5 9.8L-0.5 8.9L-3.8 6.5L-5.5 5.9L-8 6.2L-12.5 8.2L-16 8.6L-22.5 7.8M22.5 -12L17 -9.8L10 -4.5L7.5 -3.1L2.5 -1.6L-4 -1L-7.5 -1.1L-11 -1.6L-14 -2.5L-16.5 -3.7L-20 -6.4M2.5 -30L8 -25L10.3 -22L11.5 -18.5L11.5 -16.5L11.3 -15L10.5 -13.1L9.4 -11.5L7.5 -9.6L5.5 -8.1L3 -6.9L0.5 -6L-4.5 -5.5L-9.5 -6.1L-12 -7L-14 -8.1L-15.7 -9.5L-17.5 -11.5L-18.6 -13.5L-19.2 -15.5L-19.4 -17.5L-19.1 -19.5L-18.5 -21.5L-17.5 -23.3L-15 -26.3" fill="none" stroke="#6a6a6a" stroke-width="0.55" opacity="0.85"/>
<path d="M-7 -21.8h1.1M-0.3 -21.8h1.1M6.5 -21.8h1.1M-7 -17.2h1.1M6.5 -17.2h1.1M-18.7 -12.2h1.1M-14.2 -12.2h1.1M-9.8 -12.2h1.1M-5.2 -12.2h1.1M-0.3 -12.2h1.1M4.2 -12.2h1.1M9.1 -12.2h1.1M13.6 -12.2h1.1M18.1 -12.2h1.1M-21.9 -7.5h1.1M-16.6 -7.5h1.1M-11.6 -7.5h1.1M-6 -7.5h1.1M-0.3 -7.5h1.1M4.5 -7.5h1.1M9.9 -7.5h1.1M15.4 -7.5h1.1M20.4 -7.5h1.1M-22.6 -1h1.1M-17.6 -1h1.1M-12.1 -1h1.1M-6.5 -1h1.1M-0.3 -1h1.1M5 -1h1.1M10.4 -1h1.1M15.9 -1h1.1M21.4 -1h1.1M-21.6 4.5h1.1M-16.6 4.5h1.1M-0.3 4.5h1.1M15.4 4.5h1.1M20.4 4.5h1.1M-11.6 6.5h1.1M-6.5 6.5h1.1M5 6.5h1.1M10.4 6.5h1.1M-20.6 10.3h1.1M-15.6 10.3h1.1M-10.6 10.3h1.1M-5.5 10.3h1.1M-0.3 10.3h1.1M5 10.3h1.1M9.9 10.3h1.1M14.9 10.3h1.1M19.4 10.3h1.1M-16.6 14.5h1.1M-12.6 14.5h1.1M-8.6 14.5h1.1M-4.5 14.5h1.1M4 14.5h1.1M8.4 14.5h1.1M12.4 14.5h1.1M16.4 14.5h1.1M-13.6 17.5h1.1M-9.6 17.5h1.1M-0.3 17.5h1.1M6 17.5h1.1M9.9 17.5h1.1M-7 21.2h1.1M-0.3 21.2h1.1M6 21.2h1.1" stroke="#1a1a1a" stroke-width="1.1" fill="none"/>
<circle r="31" fill="none" stroke="#2a2a2a" stroke-width="1.2"/>
<use href="#hfeat"/>
</g>
<text x="428" y="37.2" font-size="13.1" text-anchor="middle" fill="#111">Pre-HC</text>
<text x="506.7" y="37.2" font-size="13.1" text-anchor="middle" fill="#111">Pre-SAD</text>
<text x="580.7" y="37.2" font-size="13.1" text-anchor="middle" fill="#111">Post-SAD</text>
<text x="354.4" y="91" font-size="12.9" fill="#111">P1</text>
<text x="352.9" y="188.9" font-size="13.1" fill="#111">N170</text>
<text x="422" y="279.9" font-size="13.1" text-anchor="middle" fill="#111">Pre-HC</text>
<text x="501.4" y="279.9" font-size="13.1" text-anchor="middle" fill="#111">Pre-SAD</text>
<text x="574.4" y="279.9" font-size="13.1" text-anchor="middle" fill="#111">Post-SAD</text>
<text x="350.6" y="333.6" font-size="12.9" fill="#111">P1</text>
<text x="349.6" y="431.5" font-size="13.1" fill="#111">N170</text>
<text x="420.7" y="522.8" font-size="13.1" text-anchor="middle" fill="#111">Pre-HC</text>
<text x="499.7" y="522.8" font-size="13.1" text-anchor="middle" fill="#111">Pre-SAD</text>
<text x="573.9" y="522.8" font-size="13.1" text-anchor="middle" fill="#111">Post-SAD</text>
<text x="345.6" y="575.2" font-size="12.9" fill="#111">P1</text>
<text x="343.9" y="673.1" font-size="13.1" fill="#111">N170</text>
<text x="420.7" y="765.4" font-size="13.1" text-anchor="middle" fill="#111">Pre-HC</text>
<text x="499.5" y="765.4" font-size="13.1" text-anchor="middle" fill="#111">Pre-SAD</text>
<text x="573.5" y="765.4" font-size="13.1" text-anchor="middle" fill="#111">Post-SAD</text>
<text x="346.3" y="816.4" font-size="12.9" fill="#111">P1</text>
<text x="344.4" y="914.4" font-size="13.1" fill="#111">N170</text>
<line x1="25.8" y1="973.8" x2="45.9" y2="973.8" stroke="#ffff00" stroke-width="1.7"/>
<text x="48.5" y="977.2" font-size="10" fill="#111">Pre-therapy HC</text>
<line x1="130" y1="973.8" x2="151.3" y2="973.8" stroke="#0000e6" stroke-width="1.7"/>
<text x="154.6" y="977.2" font-size="10" fill="#111">Pre-therapy SAD</text>
<line x1="237.8" y1="973.8" x2="257.9" y2="973.8" stroke="#e60000" stroke-width="1.7"/>
<text x="263.5" y="977.2" font-size="10" fill="#111">Post-therapy SAD</text>
</svg></body></html>
